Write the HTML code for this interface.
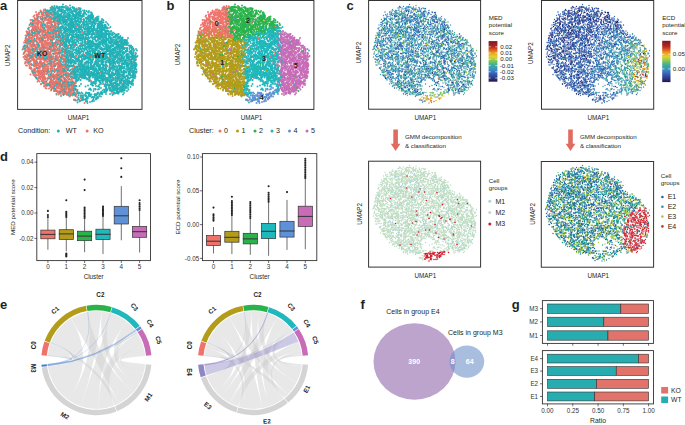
<!DOCTYPE html>
<html><head><meta charset="utf-8"><style>
html,body{margin:0;padding:0;background:#fff;}
body{width:685px;height:425px;overflow:hidden;position:relative;font-family:"Liberation Sans",sans-serif;}
</style></head><body>
<svg width="685" height="425" viewBox="0 0 685 425" style="position:absolute;left:0;top:0" font-family='"Liberation Sans", sans-serif' stroke-linecap="round"><g transform="scale(.5)" fill="none"><path d="M119 14l3 0 2-1 11 1 26 4-2-1-18-1-3 3-4-2 0-1-10-1-5 3-1-1-2 0-13-1-2 0-6 6 1-1 9 2 3 0 6 1 6-1 2-2 6 1 7 0 5 0 3-2 2 3 4 0 1-1 1 1 25 1 8 4-3-3-10 2-4 2 0-2-5-1-2 3-2-2-2-2-1 3-2-2-7 3-5-4-4 2-1 0-5-2 0 0-8 2-2 2-8-2-1 2-2-3 0 0-2 2 0 1-5 0-9 2 2 1 2 0 12 2 0-2 1 1 3-1 2 2 5-2 7-1 4 3 0-1 4-1 2-1 9 1 3-2 3 0 1 4 2-3 1 1 2-1 1 1 16 2 1-1 4-1 5 2 11-1 7 5-19 0 0 0 0 0-5 1-5-2-7 2-1 0-5-2 0 0-2 0-2 1-1-2-4-1-1 0-3 1-5 3 0-3-1 0-1 3-17-1-5 0-2-2-5-1 0 1-2-1-1 3 0 0-1 0-8 0-16-2-4 1-14 5 43 0 2 0 7 2 1-4 0 2 1 0 0 0 4-2 2 2 0 2 1-2 1 2 2-2 3-2 1 3 5-2 2 2 1-1 1-2 8 1 2 1 2-1 2 2 3 0 1-1 6 0 0-1 5 3 5-2 0-1 9 3 0-4 0 3 1-1 1 0 4 0 2-1 1 1 10-2 1 5-2 0-2 0-6 3-1 1-4-3-1 2-2-3 0 3-10-1-6 0-3 2-3-4 0 2-9 2-3-1-1 0-1-3-6 4 0-2-2-1-1 0-4 3-1-4-7 4-5-3 0-1-8 3-2-1-1 1 0-3-1 2-13 0-5-1 0 0-2 0-12-1-7 4-9-1 24 4 22 1 4-1 4 2 10-1 10 1 4-1 1-3 1 4 3-2 1 1 5-3 3 4 4-4 4 3 0 1 5-1 4-2 2 2 5-2 1 1 11 0 4 1 1-3 0 1 5 1 6 2 1 3-4 0-4 0-1-1-1-1-2 3-2-3-3 2 0-1-7 0-1 3-4-2-1-2-3 3 0-2-15-1-3 2-1-2-3 2-3 0-3 1-4-3-3 1-2 3 0-2-1-1-1 1-4 2 0-1 0 1-2 0-2 0-2-3-1 3-1-3-1 2-10 0-1-3-4 3-6-3-17 3-8 1-18 5 4-4 34 1 16 3 2 0 1-1 2 1 13-4 3 0 0 1 0 0 3 1 0 0 1 1 1 1 1-2 2 0 1 2 2 0 8-3 0 0 1-1 1 4 3 0 3-2 4 1 7 1 0-3 3-1 1 2 0 2 3-2 6-2 2 0 1 3 3 1 1-2 1 2 0-2 4 1 3 0 0-3 5 1 2 2 4-1 2 0 5 0 15 6 0 0-11-3-5 4-2-2-3 0-1 0-1 1-2-2 0-1-3 3-1 1 0-3-4 3 0-2-2 2-7-1-2-2-2-1-2 3-1 0-1-1-1 1 0-3-7 2-3 1-1 1-2 0-1-2-1 2-3-4-1 4-5 0-10-2-7-2 0 0-10 3-4-3-1 0-3 0-3 4-5-3-1 3-1-2-26 0-16 1-22 4 22-1 7 3 7-3 11 3 11-2 6-1 2 3 11-1 0-1 1 1 6 0 6-3 3 4 1-3 0 2 6-3 1 3 2-1 2-2 19 4 6-4 6 4 3-1 4-2 0 1 2-1 20 3 2 0 18-1 7 3-1 3 0-1-4-3-3 0-1 3-18-1-2 1-3-2-5 3-1 0-4-4-5 3-1-2-6-1-1 3-1 0-4-2-12 0-8 0-3 2-6-2-1 0-3 3-3 0-7-3-5 1-2-2-3 0-7 3 0-2-2 2-1 0-1-3-1 3-3-2-33 1-7 1-25 4 18-1 14 3 20-3 17 1 2-1 8 3 5-2 1 0 2 2 2-3 3 3 10-3 2 2 4-2 4 0 1 3 4-3 0 3 1-2 5 2 0 0 1-1 0-3 1 4 0-1 2-1 6 0 8 0 0 1 8 1 3-4 1 3 4 1 4-4 3 0 1 3 3 1 12-3 3 3 1-1 0 1 3-2 2-2 1 0 3 1 3 0 5 1 0 4-5 3-3-2-8 2-2-1-2-3-2 2 0 0-2 0-1-2-2 0-5 2-2-2-1 0-4 3-2-2-7 3-6 0-3-2-2 0-4 0 0 1-1 0-6 1-1-4 0 3-2 1-4 0-1-2-2 1-4-3-8 2 0 0-22-1-6 3-2 0-4-2-16 1-42 1-11-2-3 1-8 6 38-4 2 2 0 2 16-2 10 2 1-4 5 0 3 0 9 3 1 0 4-2 0 1 4-2 1 1 6 2 5-3 4 4 4-3 1 1 2-1 4 0 1-1 8 2 1 2 3-1 1-1 5 0 0 0 4 1 1-1 1 0 0 2 2-1 0 1 4-2 15-2 1 3 7-1 0 0 5-1 10 2 1-1 3 1 1-1 5 2 1-4 7 0 3 1 5 1 1 3 0 1-8 0-15 3-1-1 0 0-1-3-4 0-1 1-6 2-2 1-3 0-4-3-7-1-2 3-1 1 0-1-4-1-1-2-1 3-7-2-3-1-1 0-8 2-1-2-1 1-1 1-1 1 0-1-1 1-4-3-1 0 0 3-12 0-4-2 0 2-9-3-2 4-1-3-3 2-11-3 0 0-13 3-3-1-16 0-26 2-10 0-18 0 4 5 20-4 41 1 9 0 6 3 0 0 3-1 2-3 1 1 0 1 0 2 4-2 10 1 2-3 4 0 4 3 2-1 7 1 3 0 20 0 1 0 1-2 1 3 6 0 2-2 2 2 8 0 3 0 1-1 1 0 1-2 3 0 1 0 1 2 1 0 0-1 2 1 0-1 1 1 3-3 4 2 0-1 1 0 8 2 2 1 11-2 2-2 5 3 4-1 4 2 7-3-2 6-1 2-8-3 0 3 0-4-1 1-3-1-4 4-6-3-11 2-2-2-8 1-2-2 0 0 0 2-2 2-3-2-2-2-1 3-5 1-2-1-1-3-1 4-1-2-3-2-5 0-2 4-1-3-6 1-11 1-4-3-1 4-3-2-5-1-6-1-2 0-2 1-3 1-2 0-8-1 0 3-4-2-2 0-21-1 0 1-19-2-21 2-12 4 48 1 10-1 1 3 3-3 2 1 2 1 6 1 2-3 4 0 0 3 2-1 2-1 2 1 16-3 2 0 2 1 4 2 8-3 1 1 1 0 7 0 0 2 2 0 5 0 3-1 3-1 1 3 2-1 1-2 5-1 1 0 7 2 0-1 4-1 2 0 6 1 0-1 1 3 0-3 3 0 7 2 0 2 0-2 1 1 20-3 2 0 5 5-5 4 0-4-2 1 0 2-6-3-17 2 0 2-1-2-2-1-2 1 0 2-17-1-5-3 0 0 0 0-1 1 0 0-1 0-5 1-3 0-2-2-2 1 0-1-4 3-1 0-5-3-4 3-7 1-1-2-5-1-1 1 0-1-2 0-6 3-8-3-14-1-7 4-4-2-1 2-2 0-24 4 26-3 7 4 2-4 3 3 2-3 1 2 4 2 6-3 1-1 3 2 2 0 2 2 13 0 5-3 4 1 5 2 3-2 9 0 1-1 2 0 1 2 5 1 6-3 0 0 2 3 2-3 0-1 6 1 0 2 0-1 0 2 1-1 11-2 1 0 0 2 4 0 5-1 2-1 2 0 2 0 8-1 0 3 5 0 4 4-2 1 0-3-1 3-7-3 0 2 0 0-1-1 0-1-3 2-2-1-2 0 0-1 0 3-1 0-2-3-1 0-1 2-1 1-9-2-4 0-8 1-6 2-10-1-6 1-1-1 0-2-1-1-11 0 0 3-1-2 0 2-2 0-1 1-6-1 0 0-5-2-5 0-8 3-1 0 0-4-1 1 0 3-1-2-2 2-2 0-7-2-6-2-2 1-2-1-2 0-21 0-2 1-12-1 0 1-29 1 23 6 22-1 4 2 5-4 12 1 8 2 3 1 2-1 2 0 2 0 3 1 1-2 0 2 2-1 5 0 2 0 6 1 11 0 8-4 5 2 0 1 0-1 19 2 8-2 0-1 9 2 1-2 1-1 5 2 1 0 2 2 3-1 4-1 1-1 1 1 2-1 4 2 6-3 3 1 2 2-2 5-1-3-3 1-5 2-1 0-3-3-2 4-6-3-2 1-6-2 0 3-2-1-4-1-5 3 0 0-2-2-2 1-3-1-2-1-2-1-1 4-6-1 0-3-4 2-8-1 0 3-9 0-3 0-1-3-1 0-3-1-1 3-1 0 0-1-4 0-1-2-2 1-5 3-1-1-2 0-4 1-11-1-3 0-11-2-20-1-1 1-12-1-43 1 18 6 16 1 14 1 6-1 3-2 13 0 8 1 6 1 4 1 3-2 4 2 0-4 6 2 2 2 0-2 2 0 2 1 2-2 2 1 1 0 13-2 2 4 4-1 1-3 1 0 2 2 4-2 2 3 9-2 4 3 4 0 2-2 12 0 2-1 7-1 5 4 2-3 3 2 7 1 1-3 1 1 6 2 6 0-6 1-1 4-6-3-7-1-2 0-3 0-1 4-4-4-2 4-2 0-2-1 0-3-3 2-3-1-7 0-2 3-1 0-2 0-1-1 0-2-2 2-2-1-5-1 0 1-4 1 0-3-1 2-1 2-9-4-7 1-3-1-1 0 0 1-3 2 0 1-3-2-1-2-7 1-1 1-7 2-20-2-8 1-2 1-14-4-51 0-1 0 5 7 15-1 12-1 12 4 4-2 39 1 4-3 6 2 1 2 1-3 1-1 1 2 4 2 8-3 1 3 2-1 3-3 1 2 3-2 1 0 1 1 4-1 3 4 5-2 0 1 4 0 1 1 13-1 0-2 1 1 3-1 10-1 3 4 1 0 0-3 2 1 1 1 3 1 3-1 7-1 1-1 6-1 4 4 1-3 0 0 5 2-1 3-2 0-12 0-1 0-6-1-11 1-1 2-5 0-6-2-1 0-3-1-1 2-6 1-2-2 0 1-3 1-1-1-2 1 0 0-2 1-11 0-1-2-2 1 0-1-17 2-5-4-5 1-6 1-1 2-1 0-2-4-1 3-6-3-28 1-5-1-5 2-12 0-12 7 36-1 9-2 4 1 8 2 12-3 0 0 26-1 2 2 6 2 9-3 8 0 0 3 1-2 5 1 12-3 1 0 1 1 3-1 3 4 3-2 1 1 5 1 2 0 1 0 10-1 1-3 3 3 2 1 0-1 2 1 5-2-5 5-3-1-2-1-1 1-1 3-8 0-1-1-6-2-4 2-1 0-2 0-2-2-6 0-1 1-1 1-1-3-1 0 0 4-8 0 0 0-1 0-4-2-6-1-18-1-1 4-20-1-11-3-6 0-2 3-18-2-19 2-1 0-11 0-5 3 17 2 8 1 5-3 11 2 21-2 35 0 6 1 17 0 4 0 5 0 4-2 2 4 1-4 4 4 3-2 2 2 0-4 3 1 4 2 3 0 0-3 1 2 2 1 0-2 2-1 3 3 5-3 4 4 5-4-9 9-5-4-1 1-3 2-1-1 0 2-1 0 0-4-9 3-2 1-5-1-9-2 0 1 0 1-3-1-5 0 0-1 0 3-1-2-10-1-14 2-10 1-49-2-20 5 10 1 86-2 8 0 8-1 2 3 9-3 5 4 0 0 2-1 1-1 3-2 1 0 4 0 1 0 0 1 5 1-8 7-9-2-1 0-9-1-15 2-8-2-3-1-5 0-1 2 0 1 0-2-2 3-12 0-3-3-2 0-4-1-9 0-5 0-45 4 9 3 5-2 13 2 5-2 17 1 3 1 6 0 0 0 1-1 5 0 1 1 3 0 10-1 0-1 2 1 5 2 1-3 3 3 23-3-29 6-2 1-2 0 0 2-16-3-4 1-1 2-3 0-2-4-1 4-1-2 0 2 0-4-7 1 2 7 2-1 4-2 9 3 6 1 5-3-30 4" marker-start="url(#k0)" marker-mid="url(#k0)" marker-end="url(#k0)"/><path d="M153 17l-66 5 61-1-39 6-7 1-2-1-1 1-4 0-4 0-5-3-1 3-8 0-3 2 15 1 5 3 1-1 1 0 0-3 5 3 4-2 13 1 1-1 20 2 5-1 37 3-18 4-55-3-1 2-6 0 0 0-8-2-1 2-10 1-7 0-1-1-5-2-3 7 2-2 2 0 15 0 9-1 7 4 2 0 5-3 2 3 71-4-59 7-4 1-7 1-8-3-1 3-4-4-1 1-7 3-3-3 0 0-10 1-2 0-1-1-3-1 0 1-6-1-2 4 2 2 4 2 7 1 5-1 22 0 18 4-5-2-8 1-3-1-3 3-4-1-1 0-12-2-1 0-3 2-2 2-2-2 0-2-11 0-2 4-6-4-2 2 13 3 2 2 1-2 1 2 8-1 2-1 3 3 1 0 3-2 6 3 6-2 2-2 1 1 5 2 1 0 6 0 74 1 17 4-48-1-13-2-2 1-25-1-2 0-5 1-5-1 0 2-1-2-5 4-2-3-4 2-1 1-1-3-6-1-3 1-1 2-10-1-15-2-3 1-2 0-3 5 6 3 1-1 0-3 8 2 1 1 4-3 1 1 17 3 2-4 3 3 0 1 2-4 2 3 3-1 0-2 6 3 6 1 1 0 3-2 5 5-14 1-7 1-2-4-2 1-2 2-6-2-6 1-3-1-1 3 0-2-2 2 0 0-1-3-8 3-5-1-3-3-3 4-2-1-3-3-1 2-1 4 5 3 1-2 5 0 2 2 3-2 2-2 0 3 5-3 6 2 2-1 3 3 1-2 1-1 15 2 11-1 4 1 2 1 14-2 96 2 24 2-2 0-81 0-43 3-1-3-3 0-8 0-2-1 0 0-3 1-1 3-3-3-1 2-4 0-1 1-4-3-2 3-3-4-3 4-27-2-10-2-2 0-1 9 2-1 13 1 1-1 0-2 2 2 1 0 1-3 2 0 5 4 4-4 5 3 1 0 3 0 3 0 4 1 4-2 8 0 0 0 3-1 1 2 0-1 8 2 2 0 5-4 2 3 106-1 34 6-96-2-38 2-14 0-16 1-2-1-1-3-5 4-1-2-7 0-7-1-1 2-2-3-1 0-1 4-10-3-2 3-5-2-2 0-1-1 0 0-3-1-2 5 2 1 6 0 2-1 1 4 4 0 5-4 0 0 10 4 3-3 1 1 2 1 1-3 0 4 2-4 0 3 2 0 28-2 0 3 1-3 3 1 0-2 2 2 146 4-136 0-5 0-11 1 0 1-12 0-7 1-2-2-3 2-2 0-8-2-11 1-1 1 0 0-2-1-3 1-3-2-3-1-5 2-10 0 3 3 1 2 6 0 5-2 4 3 6-1 4-3 1 1 2 2 8-2 0 0 1 1 9-2 1 3 1 0 2-1 1 2 1-3 22 0 1 2 15 1 64-4 55 4-19 2-108 0-5 3-2-2 0 0-2 2-2-2-1-2-5 0 0 2-4 0-1 2 0-3-6 3-4-3-1-1-1 1-1 3-3-4 0 4-3-3 0 0-3 3-1 0-1 0 0-4-1 1-2 3-1-2-1 1-2 0-6-2-5 3-3-3 0 0-1 0-9 3-5 5 3-3 2 3 4-1 9 0 4-2 16-1 18 3 2 1 9-2 3 1 7 0 0-3 6 1 62 3 42 2-10-1-5 2-92 1-7 1-1 0-2-3-2 0-1 2-2 0-2 1-1-2 0 1-7 1-3-3-1 3-12 0-2-4-11 3-4 1-3-2-1 2-6 0-5 0 0-4-2 1-2 5 14 2 2-1 2 0 5 2 2-3 1 3 6-3 0 3 2-2 1-2 4 2 1 2 14-1 3-1 7-2 3 3 2 1 2-3 5 2 82 0 59-2 2-1-141 5-8 3-3-2 0 0-1 3-3-3-4 2-4-1-8 1 0-1-4 0-1 2-1 0 0-2-3 1-3-3-1 3-1-1-11-1-14 2 0-3-2 1-1 0 7 5 1 0 0 3 0-2 6 1 2-2 1 1 4-1 0 2 4-2 5 1 1 1 2 0 6 0 6-1 3 0 2-2 0 3 1 0 5 1 3-1 4 1 1-3 2 3 3-3 1-1 4 3 139 3-98 0-14 3-13-1-1-1-5 0-4 1-1-2-3 1-2-2-8 1 0-1-2 0 0 4-7-1-2 1-10-1-2 0-12-1-4-2-3 4-1-2-3 0 0-2 0 4-9-4-7 4 10 5 0-3 0 1 11 0 19 0 0 1 6-1 0-1 1 3 5-4 1 2 1-2 4 4 5-1 2-2 1-1 6 2 2 1 2 1 99 5-99 0-8 0 0-3-2 0-6 0-4 2-1-3 0 4 0-2-15 2-1-2-4-2-6 0-3 4-6-1 0 0-2-2-3 2 1 3 8-1 0 0 15 3 1 0 4 0 13 1 5-3 1 1 7 1 1-3 10 0 3 2 6-1 1 2 28-1 26 6-66 1-9-1-1-3-4 3-2 1-6-4-3 3-1 0-2-1-3-2 0 2-1-1 0 0-11 3-6 0-4-2 3 4 2 1 5-2 2 1 3-1 0 4 0 0 2-1 1 1 2-3 1 1 6-1 1 3 4-2 3-1 1 1 8-2 1 3 2 0 2-1 2-1 1-1 5 4 1-4 6 3 65-3 34 3-99 4-2 1-13-2-2 0-9 1 0 2-3 0-5-4 0 0-3 2-4 2-3-3-2 0-4-1-3 2-5 0 9 4 6 1 1-1 4 0 4 2 5 1 1-2 2-1 2 3 5-4 5 1 1 2 2 0 3 0 0 0 2-3 98 2-89 4-4-1-3 4-3-2-3-1-7-1-5 1-3 2-13-1 26 6 2-3 4 1 54 0-38 5-13 3 6 2" marker-start="url(#k1)" marker-mid="url(#k1)" marker-end="url(#k1)"/><path d="M157 16l-47 0-38 8 10-1 8-2 3 2 0 1 15-4 52 2-54 6-3-3 0 4-4-3-2 1-2-2-3 3-5-1-1-1-3 0 0 3-14 2 7 1 2 1 4 0 3-3 8 3 5-2 7 0 6 1 15 0 51 7-67-1-6 1-1-4-6 4-12-2-10-1-1 1-3 1 0 1-1-2-1 5 7 2 2-2 0 1 3 1 17-3 1 2 2-1 1-2 4 4 8-3 15-1 48 0-60 6-3 0-4 1-6 2-1-4-3 0-2 1 0-1-4 1-3 3-4-3-11-1 0 4-1-1-13-3 0 8 8-2 3 2 2-2 6 2 1-1 1 0 5-2 7 1 0-1 2 3 0-1 2 2 2 0 2-4 3 3 1 0 1-1 6 1 97 1-71 1-39 1-1 2-2 1-2-2-1-2-8 3-1 0-10 0-2 1-4-2 0-2-1 3-3-1-8 7 1-3 6 1 4-2 1 2 8 1 2-2 0 1 4-1 4-1 1 0 1 4 0-4 4 0 2 1 5 0 1 0 0 1 2 1 1-3 0 2 2 1 1-2 2 1 2 2 7-3 16 2-12 4-10 2-1-3-1 3-5-4-2 2-2 0-3 0-1 2 0-3-5 0-7-1-6 0-3 2-2-2-3 2-2-1-5 1-1-2-3 3-1 0-4-1-1 3 1 1 2-1 1 2 0-2 2 1 4 3 4-3 4 2 1-3 7 1 8-1 4 3 0-2 0 2 5-3 3 4 4-1 2 1 4 0 0-3 2-1 0 4 0-4 14 1 46 0-40 6-9 2-13-4-5 4 0-2-8-1-2 0-5 0-2-1 0 1-1-1-2 4-1-4-11 1-1 1-9-2-12 1 4 4 3 4 4-1 0-2 2 1 2 2 6-1 7-2 2 3 10-2 9-2 3 2 11 2 1-4 2 2 1 0 116 5-84 0-6 2-24 0-1 0-10-3-2 2-1 0-1-2 0 0-6-1-1 1-2 1-2-1-1 0 0-1-8 3-9-2-2 2-2 1-9 0-3-2-1 1-5-1-2-1-2 5 2 2 0 0 2-1 0-2 5 2 2-2 6 1 0-1 3 2 0-1 12 0 3 3 6-4 4 0 6 1 1 3 1-1 3-3 2 2 0 1 15-3 94 2 2 3-2 3-91 0-2-2-14 2-1-1-1 0-2-2 0 2-4 2-1 0-1-3 0 0-2 0-1 2 0-2-2 1 0 2-1-3-1 0-3 0-7 0-12 2 0 1-4-1-2 0-9 0-9-1 6 3 3 4 0-2 2 0 5-1 4 1 2 1 12-1 1 1 7 0 12 0 5-3 9 0 1 1 1 1 4 2 7-2 13 1 100-1-113 6-5 0-9-3-2 1-1-1-1 1-1 2-9-3-3 4-1 0-2 0-1-3-3 2-2-1-6-2-4 4-4-4-1 3-7 0-5-2-1 1-8 2-6 5 6-1 10 0 2-1 4 0 2-1 1 3 6-1 7 1 1-4 1 4 0-3 3-1 7 2 3 1 13-1 0 1 6 0 0-1 0 1 17 0 125 1-14 4-125-3-8 1-3 2-4-1 0 0-3-2-3 3-3-2 0 2-3 0-6-1-2-2-4 1 0-1 0 0-4 3-1-2-4 2-7-3-1 2-1 2-2-2-1-1-4 2-1 1-3-4-2 4 3 1 11 0 2 2 2-1 1 2 0 1 11 0 18-2 2 0 7-1 2 1 3-1 7 3 0-1 1 0 7-3 2 4 0 0 0-2 1-2 125 2 3 1-40 4-26 1-74 1-2-4-17 1-1 3 0 0 0-1-1-2 0 1-4 2-10-2-2-2-2 1-2-1-7 2-4 1-16 3 18 0 10 2 0 1 1 0 4-4 3 3 2-1 2 0 4 1 7 1 5-1 1-3 7 3 5 1 1-3 0 3 2-3 2-1 9 0 86 8-57 0-27-3-9 3-4-3-2 0-17 2-1 0-3 0-14 1-1 1 0-3 0 2-5-3-2 2-5-1-1-1-2 3-2 0-1 1 1 5 1-4 6 0 0 2 0 2 7-2 6 0 2-1 1-1 1 2 2 2 4 0 2-3 1 1 0-2 1 2 8-2 5 0 1 2 0 2 7-4 1 4 3-2 3 1 58-1 74 2-62 1-56 1-3-1-5 3-6-3-4 0 0 1 0 2-4-1-2 0-3 2-2 0-1-3-12 0-1 2 0 1-12-1-2 0-1-1-1 2 0-2-2 2-2-3-1 1-2-1 0-1-7 4-1-4-1 0-2 1 1 5 5 0 4 0 6 3 5-1 10-1 3 2 7-3 6-1 2 1 1 0 3 3 3 0 9 0 3-2 0 2 1-1 1-1 0 0 2-2 7 2 95-1-17 4-79 1-3 0-4 2-10-1 0-1-13 3-8-3-5 3-12-2-2-1 0 1-2-1-1 2-2-3-6 0-3 2-1 0 9 5 4 2 8-4 7 0 1 1 0 3 4-2 5 2 0-3 15 2 2-2 3-1 1 4 1 0 3-1 82-1 38 6-122 0 0-2-8 1-2 1 0-2-5 0-3 1-1 1-8-3-2 2-2-2-2 3-2-3-1 1-3 1-7-2-7 3 0 0 6 5 6-1 5-1 3 2 6-3 3 2 0 0 9 0 6 0 0-1 1-1 1 0 2 1 4 0 3 0 1-1 1 2 0 0 1-1 4 3 3-1 3-1 67-1-78 8-1 0 0-3-1 3-5-3-2 0-8 0-4 1-8 2-1-3-5 1 5 4 2-1 3 2 2 1 4-1 5 2 0-3 0-1 1 0 6 4 7-1 5-2 0-1 78 1 2 5-72 2-1 1-3-4 0 4-2-3-5 0-2 2-1-3-2 3-1-2-1-1-1 2-2-1-2-1 0 3-7 0-3-1-2 2 17 1 8 0 0 0 12 4 34 0-22 3-18 3 12 2 9 4" marker-start="url(#k1)" marker-mid="url(#k1)" marker-end="url(#k1)"/><path d="M126 9l-22 4 1 1 8-1 13 1 35 3-2 0-11-2 0 2-7 2-3 0 0-1-1 1-3 0-2-2-2-2-7 4-5-3-7 2-5-3-24 9 13-3 3 2 3-2 1-1 7 4 7-2 1-2 2 1 1 1 1-1 2-1 1 3 1-1 5 0 6-1 2-1 6 3 2 0 6-3 6 4 0 0 0-1 0 1 3-1 1 0 7-2 15 8-1-4-6 0-4 4-4-4-2 3-8 1-2 0 0-3-4-1-1 3-6 0-1 1-9 0 0 0-7-3-5-1-6 4-2-4 0 3-5-1-1-1-1 3-2 0-11-4-2 2-18 7 17-3 3 1 5 2 14-2 0 2 7-3 6 3 0 0 4-1 1 1 7-4 1 3 0-2 5 2 3-3 1 3 2 0 0-3 7 3 5 1 2-4 14 2 1-1 1 1 2 2 1-1 12 5-2-2-3 2-1-2-2 3-3-4-4 0 0 0-2 4-2-4-3 1-4 0-4 3-5-1-1-1-11 2 0-4-1 2-2 1-4 1-3-2 0 1 0 1-2-3 0 1-1-1-1 2-1-2-4-1-2 1-4 0-3-1-2 1-2 2-2-3-8 4-4-2-15-1 0 3-3-2-22 3 23 3 21 0 6-1 1-2 2 2 3 1 4-3 1 2 0-2 1 4 1-3 3 2 1-3 1 2 1-2 0 1 4-1 5 4 3-3 4 2 2-1 1 0 4-2 0 3 1-2 1 3 8 0 6 0 1-4 7 3 2 0 1 1 3 0 7-3 1-1 6 3 0 1 3-2 0 1 9 1-8 5-1-4 0 2-1-2-2 1 0 2-14-3-3 4-3-2-6 2-1 0-4 0-2-2-10 2-11-2 0 2-3-3-5 3-17-4-5 4-57 1 27 4 18-4 6 1 13 3 2-1 9-3 3 3 4-3 0 1 2 1 3 0 2 0 6 0 5 0 2 1 2-3 9 0 4 4 6 0 5 0 1-2 1 0 6 0 4-1 0-1 3 2 1 0 1-2 1 4 0 0 4-4 2 1 0-1 1 4 5-4-3 5-6 1-3 3 0-4-1 4-1 0-1-2-1 2-2-2-4-1-1 2-4 1-2-3 0 3-3 0-9-1 0-1-6 1 0 1-2-2-5 2-2 0-2-4-9 3-6-3-6 2-1 1-4-3-9 0-1 0-3 3 0-2-9-1-1 0-1 4-8-4-13 2-16-1-1 2-5-1-9 1 6 3 14 2 5 0 4-1 2-1 7 3 19-2 2 0 4-2 0 0 1 0 0 4 8-4 11 4 2-1 4-2 0 1 1 1 3-1 3 0 5 0 1-2 2 4 11-1 3 1 1 0 4-1 4-3 2 2 9-2 5 0 1 4 0-4 0 4 2 0 0-2 6-2 4 2 1-1 1 0 3 3 8 5-1-1-3 0-5 0-14 1-1-3-6 2-9-3-3 2-5-1 0 0-1 3-2 0-2 0-4-1-1-2-3 3-3 0-8 0-1-4-3 4-3 0-8-2 0 2-3-4-2 4-5-2-4 1-19 0-1-3-5 0-32 2 16 3 29 3 4-1 1-2 3 1 3 2 1-1 0 2 5-4 1 1 3 3 0-3 2-1 1 1 6 0 1 1 4 2 4-2 2 2 1 0 0-1 0-3 1 0 3 2 2 2 9 0 2-3 9 3 2-3 6 1 3 2 1-3 1 3 1-3 2 0 2 2 1-3 0 1 2 2 0-1 4 2 2-1 1 1 1 0 2-2 6 0 5-1 3 3 4 0 1-4 1 3 8-1 4 3-1 3-5-2 0 1-1-2-3 1-3 2-2-3-2 4-1-4-3 1-3 2 0-3-8 3-2-1-1-2-3 4-1-1-4-3-2 1-2 0-2 2-7-2-3-1-11 3-4-2-1 3 0-2-5-2 0 3-4-3-2 2-2 2 0-1-3-3-12 3-6-1 0 2-4-2 0 2-1-1 0-2-1 1-2 2-2-3-1 0-9-1-4 0-5 2-20-2-18 2-12 2 0 1 0 3 2 1 11-3 17 0 9-1 29 2 1 0 2 2 4-4 5 1 1 0 7-1 7 4 3-2 16 1 6 0 1-2 3 0 10 0 9 3 3-2 3 0 5-1 1 1 5-1 1 2 0 0 3-3 2 3 0 0 2-2 1-1 7 0 0 2 1 2 1-1 15-3 0 1 4-1 0 4-2 3-1-2-3 4-1 0 0-2-2 0 0 0-3 0-3 2-2 0-1-2-4-1-1 2-2-1-5-2-2 2-10 1-2 1 0-4-2 1-7 1 0 0 0 2-3-3-1 3-7-1-1 0-1 0 0 0-2-1-1-1-6 0-1-1-13 1-2 1-11 2-1-3-3 3-1 0-1 0-1-1 0-1-7-2 0 1-5 0-6 0-5 1-1 2-16 0-1-4-38 0-14 0 48 8 20 0 4-3 5 2 1 2 3-3 7-1 1 1 1-1 8 2 9 0 5 0 1-2 5 2 3 1 6 0 11-3 2 0 3 3 1-2 2 2 2 0 6-2 6 1 1-1 9 3 3-2 2 0 8 1 1 0 0-2 1 0 2-1 2 1 1 0 1-1 1 4 2-2 6-2 7 1 1 1 2-1 4 6-2 2-12-3-5 2 0-3-3 2-2-1-3 3-4-3-5 2 0-3 0 0-4 2-1 2-8-4-2 3 0 0-1 0 0 0 0-3-4 4-3 0-5-3-1 2-10-1 0 2-4-2-3 0-9-2-2 4-1-2-2-1-1 2-3-1-4 1-1-2 0 2-3 0-5 1 0-3-10 0-3 0-5-1-5 4-5-2-2 0-24 1-19 0-22 6 10 0 13-4 3 0 8 2 4 1 33 1 3-2 7-1 1 2 12-1 0-2 3 1 0 2 4 0 3 0 1-1 6-1 6 1 2 2 10-3 1 0 1 3 1-4 36 1 1 0 3-1 4 3 2 0 16-1 0 2 2-4 1 2 6 0 2 0 0 0 5-1-3 6 0 2-10-1-1 0-5-3-1 2-3 0 0-2-4 4-3-2-3 1-1-1-3-2-7 1 0 0-3 1-1 2-7 0-1-4-2 4-2-3-11 0-4 1-1 2-3-4-2 0-2 0 0 3 0 1-6 0-1-1-1-3 0 2-3 2-2-4-12 2-5 2-3-3-6 1 0 2-3 0-4-4-5 4-1-4 0 4-12-3-13 1-30 0-1 0-29-1 11 5 6-1 42 3 18-3 3 0 2 3 2 0 6-1 3-1 5 1 1 1 5-2 5 1 2-2 3 3 0-1 1 2 2-3 1 0 1-1 1 2 10 2 2-2 0 2 4-3 2 3 0-2 0 1 1-1 5 1 1-3 1 0 1 4 4 0 3 0 0-3 2 2 4-1 4 0 2 1 6 1 4-1 4 0 0 1 0-3 1 2 4 0 2 1 0-1 1-3 5 0 5 0 6 0 1 3 1-3 0 2 1 2 1-1 0 1 10-2 2 0 7 0-6 4 0 2-2-2-6 3-3-1-4-1 0-2-1 2-6 0-1-2-2 1-1 1-1 2-11-1 0-2-2 3-4-2-2 0-5 1-7 1-2-2-1 2 0 0-4-1-6 0 0-2-3 2-14-2-2 1-9 1-1 1-1 0 0-4-1 2-9-2 0 4-1-1-3 0-1-1 0 0-7-2-10 3-1-1-2-1-12 0-10 0-16-1-33 1-10 3 9 3 10 1 3 1 62-3 1 3 0-4 1 4 1-1 2-2 1 2 13 0 2-2 4 2 3-2 9 3 1 0 9 0 0-2 0-2 9 3 0 0 3 0 2-1 6 2 0-4 2 4 11-4 1 2 0 2 2-3 0 3 7 0 0-3 8 1 0 1 1 1 0-1 4-3 4 0 0 0 6 3 1-3 1 3 2-2 5-1 3 2 8 0 4 7-6-3-1-1-1 2-1 1-1-3 0 3-9 1-4 0-2-3-2-1 0 3-1 0-1 1-1-2-14-1-2-1 0 0-4 2-3 1-15-1-1-2-1 3 0-3-6 2-12-2-2 3-3-3 0 0-4 1-4-1 0 1-2 3-1-3-4 3-7-4 0 4-1-1-5-1-2-1-7 0-1 0 0 2-5-3-17 2-1 0-30 1-9-1-9 0 13 3 19 1 5 1 2-1 8 1 16-2 3 1 2 2 1 0 3-1 5 0 5 2 5-1 9-1 2 2 3-1 5-3 4 2 3 0 4-1 2 3 3-4 3 2 1-2 3 3 13-3 2 2 9-1 1 2 5 1 2-2 1 2 7 0 0-2 2 1 12 0 2-1 8-1 1 0 5 2 1 0 0-3 2 9-3-1-1-1-4 1-1-1-4 1-3-3-3 1-2 2-18 0-8-2-5 3-11-1-2 1-1-3-2 2 0-3-3 1-3-1 0 0-1 0 0 4 0-1-10-1-3-1-3-1-3 0-1 4-3-3-1 3-1 0-1-2-3 0 0 0-4 0 0-2-3 4-2 0 0-1-1 0-3 0-2 0-3-2-5 2-1 0-10 0-6 0-65 4 32-1 7 3 10-4 14 0 1 2 9-2 4 0 4 0 4 3 4-1 3 1 14 1 1-1 0-3 2 2 10 2 13 0 5-3 2 3 2 0 6-4 0 4 2-4 2 2 3-1 0 3 8-3 6 2 1-1 1-1 4 0 9 1 3 1 14-3 4 1 5 2-7 6-7 0-1-4-1 2-9 0-1 2-8-1 0 0-3-2 0 2 0 0-4 0-2 1-5-2-1-2-5 4-15-4-1 2-4 1-1-2-1 2-6 0-3-2-2 0-1 3 0 0-2-1-2 0-4-1-4-1-5 3-2-1-4 1-1-4-9 0-3 3-3-3-2 4-76-4 11 9 23-2 3 0 2 2 28-3 9 2 8 1 1-1 1-2 7 3 0-1 0-1 5 1 1-1 1-2 3 1 17-1 5 2 6 0 1 0 1 1 1-1 1 0 0 1 2-2 4 2 11 1 0-3 1 2 2 0 2 0 4-3 2 4 3-3 1-1 0 3 1 1 10-1 1 0 2 1 4-3 3 3 5-3 4 3 1-2 4-2-4 5-5 0-5 2 0-1-1 2-5-3-7 2-5-1-2 2-1-1-4-1-19 2-1-2-7 1-1 1-2-3-3 0-4 1-2 3-1-4-1 1-11 1 0-2-4 2-3-1 0-1-2 2-1-1-2-1-9 1-7 1-2-1-3 0-7 3-9-1-1 0-12 0-4-1-7-2-4 2-29 0 39 7 24 0 10 0 7-2 8-2 0 0 17 2 13 1 5-3 3 2 1-1 7-1 1 0 4 4 2 0 3-4 6 2 1-1 7-1 0 4 14-3 2 2 2-2 1 1 0 1 14 0 0 4-1 2-4-4-3 4-6-3-8 0-1 1-8 0-1-2-4 1-7 0-11 3-19-1-1-1-2-1 0 0-1-1-2 3-2 0-32-2-3 3 0-4-20 2-8 1-20-2-3 3-8-3 12 4 7 3 22 0 13-3 4 0 3 3 3-1 18 1 5-2 20 2 3 1 18-3 2 0 3 0 3 2 1-2 6 0 24 5-4-1-2 0-5 0-4 4-1-4 0 1-3 1-4 0-4 0-1 1-2-3-1 4-5 0-2-4-4 4-2-1-21 0-10 0-1-1-38 1-3 1-14 0-17-2 1 3 3 2 25 1 3-2 63 3 5 0 1-4 1 4 3-3 0 2 0-2 2-1 9 2 4-1 1-1 4 4 1-2 1 2 0-2 1 1 3 0 1-3 2 3 1 0 2 0 2-2 2-1-1 6-14 0-5-1-2 3-16-3-6 1-4 1-12 2-6 0-6-2-3-1-18 1-5 2-1 0-4-1-27-2 38 5 9 1 14 0 5 2 4 0-6 1-9 1 0 2 0-3 0 1-10 3-1 1 9 2 2 0 1 4" marker-start="url(#k0)" marker-mid="url(#k0)" marker-end="url(#k0)"/><path d="M103 14l33 1-30 3-18 1-7 2 20-1 0 8-2-1-4-1-3-1-6 4-8-3 0-1 0 3-4 1-1 0-6 4 7-1 0 1 1 0 10 0 3-2 5-1 14 1 12 1 6 5-10 1-3-1-13-2-1 2-1 0-7 1-7 0-2-3-20 5 7 3 6-1 1-2 0 0 0 0 2 3 13-2 5-1 1 0 0 4 13 0 38 0 16-1-48 5-6 0-24 0-2-1-2 2-1-4-8 3-4-1-2-1-3 3 2 3 1-1 1 0 4 3 11-4 0 1 2 0 8 1 1 1 6-2 5 3 1 0 48 0 65 2-28 2-80 1-2-3-1 1-5 2-2-2-2-1 0-1-5 0-5 4-13-4-1 1-4 1-2 0-2 0-13 6 1 0 5-1 5-2 0 0 4 0 2 3 5-1 0 2 9-1 0-1 4-2 3 4 0-3 10 1 7-2 3 2 0 0 7-2 3 3 31-3 13 6-33 1-19 2-4-4-4 3-9-1-2-2-9 0-7 3 0-1 0-1-9 0-1-1-5 4-6-3-2 3 0 1 5 0 4 0 0 0 4 3 2-3 6 4 4-3 6 3 0-3 0-1 8 0 1 2 9 1 2 0 6-2 5 2 2 0 35 5-24-2-24 2-2 0-1-3-3 3-3-2-7 0-5-1-3 1-2 0-13 3-3-4 0 1-3 0 0 1-2 1-4 1-3 0 0 3 0 0 0 1 3-1 5 2 0 0 0-2 2 0 4-2 0 2 4 1 10-1 5-2 3 2 2 1 1-2 5 0 19-1 2 1 4 3 117 0 10 0-36 1-49 4-15-1-26 1-4-1-6-3-2 3 0-1-9 1-4-2-2-1-4 2-2-2-2 3-2-2-2 0 0 3-3-4-5 2 0 2-9-3-7 1-3 0-2 0 9 4 2 1 4 1 6-3 1 2 2 0 11-2 2 4 4-3 9-1 0 2 5 1 4-1 16 0 7 1-4 4-9 1 0 0-8 1-4 0-2 0-3 0-5-3-5 3-6-4-2 0-6 2-1-1-1 2-6-2-3-1-3 3-7 1 0 0-3-3-9 2-3 0 5 5 4 0 3 1 21-4 1 4 3-2 4-2 3 1 1 2 3-1 1-2 7 2 3 0 4 1 3-1 1-2 16 6-10-1-1 1 0 2-3-1-4 0-2 0-8 0-2-2-1 4 0-2-5 1-7-1-1-2-1 3-5-2 0 0-1 2-4 0-9-2-3-1 0 1-3 3-1-2-4 2-5-3 1 8 1 0 1 0 5-2 0 0 8 0 6-1 9 1 7-2 9 3 1-3 4 3 0-1 1-2 4 3 5 0 1-1 1 2 1-4 14 0 2 1 5-1 18 3 16-3 13 3 11 0 17 0 62 6-53-2-78-1-11 1-3 2-13-4-10 2-5-2-1 0-1 4-6 0-10 0-2-3-1 2-4 0-7-1-1 2-1-1-1-2-1 1-2 0-3 2 0 0-4-1-5 0 2 6 7-1 4-1 6-2 1 3 3-1 8 1 1-3 9 2 0-1 2 0 2 3 1-1 3-1 10 2 8-4 3 0 0 2 9 1 11 0 37 1 91 2-73 0-25 1-37 2 0-1-4 0-6 0-3-1-1 1-1-3-4 2-2 1-2-1-2-1-6-1-6 4-3 0-3-4-2 2-3-1-1 2-1-3-2 1-5-1-5 1-2-1-5 3-1 1-2-3-8-1-2 2 9 5 8-1 4 2 0-2 3-1 2 0 0 1 4 3 1-4 5 1 0 2 5 0 1-3 9 2 3 1 12-1 1 2 5-2 0 2 4-2 0 0 5 1 18 0 9-2-13 6-1 2-12-2-3-1-3 1 0 1 0 0-7-1-1 0-2 1-11-1-1-1-10 2-4-2-13 0-1 0-9 3-4-2-2-2 6 5 1 0 2 0 8 3 2-2 6 0 6-1 10 3 7-3 6 4 1 0 3-1 2 1 0-4 4 3 5 0 18 0 8-3-11 7-11 0-5 2-10-1-12 0-1 1-5 0-5-3-2 2-1-1-4-2-5 1-2 2-1-1-1-1-3 1-6-1-5 1 1 3 2 0 8 1 3 3 0 0 3-1 1-1 2 2 1 0 1-3 0 3 10-1 2 0 1-1 1-2 3 0 0 4 6-4 0 4 2-1 2 0 6 1 4-2 1 1 5-1 4-1 6 3 8-3 11 2 22-3-38 8 0-1-9 0-3 2-4-3-5-1 0 4-1-4-3 1-3 0-1 1-2 1-1-3-3 3-1-1-1 1-7-2 0-1-6 2-4 2-1-2-1 1-2 1 0-2-11 6 4 0 9-1 0 2 2-1 3 0 11-2 6 3 3 0 1 0 2-2 2 0 4-1 2 0 3 3 4 0 0-3 2 3 2-1 2 1 75-1 35 3-24 1-72-1-2 2-1-2-7-1-1 4-6-4-3 3-3-2-7 2-1-3 0 2-1 0-4-2-3 4 0-4-1 2-2-2-1 2-2 2-4-4-1 3-7 1-1-3-4 1-1-2-1 0 14 5 1 4 1-1 4 1 1-4 6 4 1-2 1-2 1 0 8 3 1 1 1-2 0-2 6 0 1 1 1 2 4-2 0 2 5-2 1 3 1 3-2 2-2-3-5-1-4 4-1-2-3 2-4-3 0 1-5 0-4-2-25 1 18 4 2 2 2-1 7 3 2-1 7 0 1-1 8-1 0 1 5-1 3 0 5-1 2 0-1 9-20-1-5-2-8 0-3-1 35 7 11-1 0 5-12 3" marker-start="url(#k1)" marker-mid="url(#k1)" marker-end="url(#k1)"/><path d="M109 12l5 1 9 1 0 0 1 0 4 0 4-2 8-1 5 3 11 5-4-1-3 1-3-3-1-1-5 3-2-1-4 2-7-4-1 4-3 0-1-1-5-3-2 1-1-1-3 2-1 2-2-3-2 2-2 1-13 0 2 3 7-1 6 1 1 2 2-1 2-2 11 0 9 0 4-1 13 1 4 2 2-2 6-1 6 1 3 2 4-1 5 0 5 6-14-2 0-1 0 2-9 1-2 0-2-1-3-2-7 2 0 2-2-3 0 0-2-1-4 0 0 3-2 0-2-1-5-1-1 3-1-4-4 3-5 1-2 0-14-2 0-2-12 0 4 6 20 3 3-3 1 2 0-2 3 0 0 2 2 1 3-1 6-1 0-2 4 2 2 2 1-4 9 2 1 2 11-4 1 2 2-1 1 1 2 0 0 1 2-1 9 1 0-2 1 0 3 0 0 0 2 0 1-1 2 1 8 3 1 1-1 3-4 1-7-2-2-2-1 1-4 1 0 1-2-3-1 2-18-1-1 0-3 2-15-2-6 3-4-2-1 0-5 1-1 1-8-4 0 2-2-1 0-1-2 0-16 0-7 4-9-2-9 4 41 2 8-2 1 0 2 1 7-2 2 1 4-1 1 4 8 0 4 0 1 0 5-4 1 4 4-3 4 3 1 0 2-1 10 0 4 1 1-2 4 0 1 2 5-3 2 2 1 0 8 1 9-3 8 6-13 0-5 2-1-2 0 1-8-1-3 1-1 1-1 0 0-4-7 2 0 2-8-4 0 2-1 2-1-2-6-1-4 3-2 0-3-1-2 1-2-3-1 1-2 0-1 2 0-3-1 0-3 2 0-2-2 2-3-2-2-1-1 2-1 2-6-1-3-3 0 0-56 3-4-1 24 3 4 0 35 3 1-1 3-2 7 1 2-1 3 2 4 0 1 2 0-3 13 2 5 1 4-4 1 1 13 3 6 0 1-3 10 2 0-2 1 3 2-2 5-1 3 1 2 2 10 0-6 2-6-1 0 1-1 1-1 2-3-4-1 2-7-2-7 2-1 0-3 1-4-2-2 2-2-3 0 1 0 1-2-2-2 3 0 0-2-3-2 4-10-4-4 3-3-1-2-1 0 0-6 3-2-3-4-1-2 4-2-1-2-2-4-1-1 0-1 0 0 0-4 3-1-3-6 2-26-2-25 9 10-1 23 1 11-3 4 1 3-1 9 0 5 0 0 2 2 0 0-3 2 3 1-3 1 1 2-1 4 3 1 0 1-3 3 3 1 1 2-1 1-3 3 1 2-1 2 2 1-1 0 1 6-2 10 0 2 0 2 2 0-2 4 2 1-2 3 2 0 2 7-3 3 0 0 2 1-1 0 1 1 1 4 0 4-4 4 1 1 1 11 2 12 5-3 0-2-2-11 2-7-3-2 3-3-1-1-1-1-2-3 4-1-4-2 3 0 0-3-3-3 4-7 0-3-1-1-3-4 3-5-1-2 1-2 1-8-4-3 0-5 4-6-3-2 3-1-4-3 4-6-1-10 0-3-3-9 3-34-2-9-1-3 2-9 1 7 2 26 0 14 4 3-2 12 0 1 1 6-1 18 2 8-1 7 1 3-4 2 1 1 0 2 2 0 1 9-4 7 3 11 0 6 0 1 1 4-3 0 3 3-4 4 0 0 0 5 0 1 3 11 0 1 0 2-1 2 0 1-1 21 5-13 0-4 1-16 2 0 0-1-3-6 3-2-2 0 2-8-3-5 2-1-1-3-2 0 3-11 1-3-4-4 1-3-1 0 3-1 0-2 0-1 0-3 1-2-3-1 1-1 2 0-2-3 0 0-1-8-1-4 0-4 0-1 2 0 1-1 1-2-3-6-1-11 0-12 4-29-1-23 4 13 2 9-4 19 0 18 2 7-1 2 3 3-2 1 0 1 1 2-3 3 0 0 2 3 1 3 1 1-3 2 3 1-3 6 1 7-1 14 2 4-1 1 1 2 1 1-1 3 1 5-3 4 0 3 2 2 0 2 0 1 0 1-2 1 1 0 1 3-2 0 3 0-1 1-2 1 3 1-2 8 2 4 0 0-2 1-1 5 1 0 1 8 0 3 1 0 0 0-1 1 0 2 1 1-4 0 2 1-2 4 3 0-3 3 3 3 3-2 2-4 0 0-2-1 0 0-1-2 4 0-3-1 0-3 2-8-1 0-1-2 3-2 0-2-3-1 0-2 3-7-2-6-2-4 0-2 1-1 0-1 3 0-3-3-1-2 0-1 4-1-4-3 4-1 0-8-1-2-1-3 2-4-4-1 2 0 0-2 0-2 0-2-2-13 1-6 0-3-1-11 0-7 2-1 2-7-3-6 2-5-3-34 4-10-1-18 3 0 0 6 2 23-1 27-1 25 2 1-2 10 0 1 3 1 0 1-3 4 1 6-2 9 1 1 1 5-1 1-1 7 0 1 1 5 3 1-1 0-2 1 1 11 0 3-2 9 3 5-3 3 0 1 3 1 1 3 0 2-4 10 4 2-4 0 0 5 1 0 2 3 0 0-1 3 2 1-4 18 4 7 4-5 1-7-4-1 3-5-1-5 1 0-2-5 0 0 1 0-1-4 0-1 2 0-3-4 4-3-4-3 1-8 2-1-3-1 2-4 0-2-1-2 0-5 3-1 0-6-2-2-2-3 1-3 1 0 1-6 1-5-4-7 3-1-1-2 0-2 1-3-2-5 1-8 2-4 0-7-2-5 1 0-2-4 2-5 0-40-2-15 0-6 2-16-1 16 3 8 2 1 2 32-3 18 0 6 1 5 2 2-2 1 1 4 0 11 0 3-1 1 0 6-2 11 2 4 0 0 1 1-1 2 0 2-2 1 2 4 1 3-3 2 0 3 1 3 3 4-3 10 1 0-2 1 1 1 1 3 1 7-2 5-1 0 0 6 3 3-1 2 1 2-1 1-2 2 4 4-2 2 0 8 2 6 2-6 1-5 1-9-1-2-1-5 1-2-2-1 0-1 2-4-2-3 1-2-1-2 3-1 0-2-1-1 2-5-1-4-3-10 3-21-2-1 2-5-1-2-1-9 3-5-2-10-2-2 4-6-2-2 2-7-3-13 0-13 1-20-1-10 2-1 1-3 0-16 2 4 0 3 2 11 0 6 1 1-2 8 0 3 1 10 1 31-1 2-3 7 0 2 1 15 3 3 0 2-1 2 0 1-2 2 1 2 0 1 2 2-2 4-1 1 0 5 3 2-1 3-1 3 0 0 0 5-2 1 2 5 2 1-2 5-2 1 3 17 1 4-2 1 0 2-1 5 1 4-2 6 3 8 0 1-3 3 3 2 1 1-1 3-2 1 2 2-2 1 3 3-1-2 2-7 3-1-1-6-1-1 2-3-3 0 0-1 0-5 1-1-1-3 1-5 2-7-3-2 0-2 1-3 3-4-4-2 4-3-4-2 2-2-2-1 2-9-1-6 3-2-3-2 2 0-3-6 0 0 4-5-2-1 1-1-3-2 3-1-3-1 2-1-2-10 3-9 0-3 0-2-1 0-2-8 0 0 1-1 3-4-3-2 2-12-1-12 1-8 1-11-1-4-1-16-2-12 0 40 7 14-2 7 1 5 3 5-2 1 2 2-1 3 1 4 0 1-1 4-2 0-1 3 4 0-2 1 2 2-4 0 3 4-2 8 1 1 1 8 0 1 0 0 1 1-1 2-1 15 0 1 2 3-1 2 0 2-2 3-1 3 4 1 0 0-1 6-1 0 2 4-2 2-2 2 3 1-1 1 2 2 0 1-4 3 3 3 0 3 0 7-3 0 3 0-2 1 1 0-1 1 0 3-1 20 3 3-3 1 0 0 6-10-1-2 4-2 0-3-2-1-1-5 2-12-3-5 3-1-2-4 0-5 1-1 1-3-3-4 0-6 4-3-2-4 2-6-2-17-2-13 4-17 0 0-4-6 0-4 1-4 1-9 2-22-2-5 0-41-2 8 5 20 2 46-2 2 3 2 1 2-3 1 1 1-1 6 1 1 1 1-1 13-1 6 1 1 2 0-1 0-2 2-1 3 3 3 1 0-4 2 3 6-2 1 2 0-2 1 3 3-1 2-3 5 2 1 1 3 0 8 1 0-3 2 1 1-1 3 0 8 0 6-1 1 4 0-4 2 3 11 0 0 1 22-2 1 0 1 2 2-2 2-2 1 4 0 0 2-4 0 6-7 1-2 0-1-2-3 1-2 3-10-2-1-2-2 0 0 0-1 3-2 0-2 0-6 1-4-4-4 0-2 0-1 4-2-1 0 1-6-3-1 0-4 1-6 1-3-3 0 4-1-1-5-1-2 0-7 2-1-3-1 2-5-3-1 1-1 1-1 0-3 2-3-1-1-3 0 0-2 0-4 3-1 0-4 1-1-4-4 1-2 0-14 3-8-2-53-1 13 7 8 1 11-3 10 1 11-1 2 1 6-2 8 4 5-3 0 1 1-1 1 2 4-2 4 1 4-1 1 0 2-1 1 0 5 0 2 4 3 0 1-3 0 3 1-4 1 3 1 1 9-2 3-1 4 3 4-3 4 1 2 0 4-1 1 1 20 1 1 0 1 0 2 1 0 0 0-2 2 2 0-4 3 4 2-4 1 3 4-1 1 0 2 2 5-3 2 2 2-3 4 1 2 3 1 0 2-3 2 3 1-1-2 4-3 1-1-3-5 3-2 1 0 0-11-1-1 1 0-4-1 4-8-2 0-2-1 1-1 3-5-1-3-1-1 0 0 1-1-3-1 0-11 2-2 0-4 1-1-2-1 1-7 1 0 0 0-2-2 3 0 0 0-1 0-1-2 2-1-3-4 1 0 0-2-1-13 2 0-1-2 0-1 2-2-1-1-3-2 1-1 2-1-1-1 0-4-1-2 3-3-1-3-2 0 3-2-4-1 3 0 0 0-2-6 1-3 2-7 0-4 0-26 0 14 1 5 3 2-2 19 2 8 0 1-1 1-2 4 4 4-2 0 0 4 0 3-2 2 0 1 2 5-2 1 0 0 0 2 0 0 4 3-4 0 3 5 0 1-3 3 4 1-2 2-2 1 3 2 1 1-1 3 1 0-3 1 1 0 0 1 1 2-1 2 2 2-3 1 0 1 1 7-2 0 4 2 0 3-1 1-1 4-2 9 4 7-4 2 1 3 1 2 1 4-1 1 0 7-1 4 3 2-1 2-2-5 4-3 0-3 2-2-1-6 2-5-1-1 2-4-2-8-1-5 1-8-2-2 3-1 1-3-2 0-1-5 2-1 1-6-3-2 1-4 0-1 0-9-2-9 4-10-3-16 1-3 0-30 2-1-1 0 1-45-4 20 8 29-3 9 4 24-3 2-1 31 4 3-4 3 2 6 2 3-3 3 0 7 0 2 0 0 0 0 0 1 2 3-1 2 0 0 0 2-2 0 3 4-3 9 1 4 0 1 1 0-2 1 1 2-1 2 0 3 2 2 2 3-4 2 3 1-1 2-1 6 3 0-2 1-2 1 0 0 7-4-1-3-1-4 1 0 2-1-1-1 2-2-2-3-2-1 3-11 0-5-1-3-1-1 2-4-1-7 2-1-3-13 2-1-3-2 4-7-3-6-1-3 0-37 1-2-1-2 0-4 0-1 1-2 1-9-1-7 1-6 1-27-2 8 4 5 1 24 0 0 3 15-2 0-2 4 0 17 2 26-1 12 0 14 2 10-3 2 1 1 1 4 0 2-1 3-1 1 4 2-3 3-1 10 1 2 2 5-1-3 3-7 4-2-4-1 1 0 3-1-1-5-1 0 1-2-1-1 0 0 2-2-2-1 0-1-2-3 0-2 3-13-2-4 3-10-1-2 1-5 0-40-1-3-2-1 2-19 1-18-2-7 2 17 5 10-1 18-1 6 1 1-3 27 0 5 2 22 0 11-1 2 0 4 1 7 1 3 1 7-4 3 0 0 1-13 5-3 1-10 1-16-2 0 2 0 0-2-3-3 3-9 0-11-2-1 1 0 2-7-1-6-1-5 0-3 0-1-2-8 1-21 3 10 1 14 1 10 1 3-1 4-1 6 4 5-2 7 2 4-4 5 4-1 2-1-1-6 4 0-2-19 2-3-3-9 3-5 2 8-1 13 3 12 0 4-1" marker-start="url(#k0)" marker-mid="url(#k0)" marker-end="url(#k0)"/></g><rect x="17.60" y="0.50" width="124.40" height="108.90" fill="none" stroke="#333" stroke-width="1"/><text x="0.00" y="9.60" font-size="13" text-anchor="start" font-weight="bold" fill="#231f20">a</text><text x="10.40" y="55.30" font-size="6.3" text-anchor="middle" font-weight="normal" fill="#231f20" transform="rotate(-90 10.40 55.30)">UMAP2</text><text x="78.50" y="120.00" font-size="6.3" text-anchor="middle" font-weight="normal" fill="#231f20">UMAP1</text><text x="18.00" y="133.00" font-size="7.2" text-anchor="start" font-weight="normal" fill="#231f20">Condition:</text><circle cx="58.3" cy="131" r="1.5" fill="#20b2b8"/><text x="65.70" y="133.00" font-size="7.2" text-anchor="start" font-weight="normal" fill="#231f20">WT</text><circle cx="87.1" cy="131" r="1.5" fill="#e8746b"/><text x="93.20" y="133.00" font-size="7.2" text-anchor="start" font-weight="normal" fill="#231f20">KO</text><text x="42.20" y="56.10" font-size="7" text-anchor="middle" font-weight="bold" fill="#231f20">KO</text><text x="99.80" y="57.90" font-size="7" text-anchor="middle" font-weight="bold" fill="#231f20">WT</text><g transform="scale(.5)" fill="none"><path d="M480 32l25 5 45 3-31 11 29 1 7 2-4 3-8 1-58 1-36 2 71 3 2-4 1 4 4-2 5-2 3 4 0-4 4 4 1-2 1 2 0-2 4 1 2-3 7 3 7-1-1 5-2 1-3-3-2 3-1 1 0-1-1-2-3 1-1 2-1 0-7-1-3-2-1-1-3 3 0 0-1-1-1 1-10 0-5 1-11-2-8 0-38 7 42-2 21 2 5-4 6 4 4-1 3-1 1-1 2 0 20 3-11 5 0 0-4-4-5 3-1-2-7-1 0 3-1 0-5-2-20 0-2 2-6-2-3 5 3 2 4-2 4 3 0-3 5 0 0 3 0-2 5 2 1-1 0-3 0 4 1-1 1 1 1-2 6 0 9 0 0 1 8 1 4-1 3 1 5-4-9 9-5 0-3-2-2 0-4 1-1-1 0 1-7 1 0-4 0 3-2 1-5 0 0-2-2 1-4-3 0 1-8 1 0 0-95 6 85-3 5 4 4-3 0 1 3-1 4 0 0-1 9 2 1 2 3-1 1-1 5 0 0 0 3 1 2-1 1 0 0 2 1-1 1 1 3-2 24 0-10 3-3 3 0 0-1 1-5-4-1 3-6-2-4-1 0 0-8 2-1-2-1 1-2 2 0-1 0 0-1 1-4-3-1 3-1-3-2 1-9 2-4-2 0 2-11 1-51 0-30 5 81-4 4 0 5 3 2-1 7 1 3 0 19 0 2 0 1-2 1 3 6 0 2-2 2 2 7 0 4 0 2-1 7 0 54-2-61 8-3-4 0 3-3-1-7-2-2 4-2-3-5 1-11 1-5 1 0-4-3 2-5-1-7-1-1 0-2 1-3 1-2 0-9-1-4 5 7 1 3 1 16-3 3 1 4 2 9-3 1 1 0 0 7 0 1 2 1 0 6 0 2-1 4-1 0 3 3-1 0-2 8 4 0 0-1 1-6 1-5-2-2 1 0-1-5 3 0 0-5-3-5 3-7 1 0-2-5-1-1 1 0-1-2 0-6 3-8-3-14 7 3-1 4 2 5-3 5 1 1 0 2 2 14 0 5-3 4 1 5 2 6 0 6-3 0 1 2-1 2 2 5 1 5-3-11 8-2-4-11 0-1 1 0 2 0 0-2 0-1 1-6-1-1 0-4-2-5 0-8 3-2 0 0 0 0-4-1 1 0 1-2 2-2 0-7-2 5 6 2 0 2 1 2-2 0 2 2-1 4 0 3 0 5 1 11 0 9-4 4 3 1-1 0 0 12 1 7 2-7 3-5-1-7-1-10 3-2 0-1-3-2 0-3-1 0 3-1-1-1 1-3-1-1-2-2 1-5 3-1-1-3 0-3 1-11-1 4 6 1-4 8 2 2 0 1 1 2-2 3 1 13-2 3 4 3-1 2-3 1 0 2 2 4-2 2 3 9-2 10 8-13-3-3 2 0-3-1 2-1 2-9-4-8 1-2-1-1 0 0 1-3 2 0 1-4-2 0-2-2 1-5 0-1 1-7 2-1 0-14-1-1-1-5 0-26 5 38 1 4-3 5 2 2 2 1-4 0 1 2 1 4 2 8-3 1 3 2-1 3-3 1 2 3-2 1 0 1 1 4-1 3 4 4-2 1 1 4 0 1 1 13-1-6 5-1-1-4 0-2 1 0 0-2 1-11 0-1-2-2 1-1-1-16 2-5-4-11 2-1 2-1 0-3-1 0-3-2 6 0 2 3-2 26-1 0 2 2 0 6 2 8-3 8 3 1-3 1 1 48 4-42 3-1 0-4-2-1 1-5-2-18-1-2 4-20-1-11-3-6 0 1 5 5 3 1-2 35 0 5 1 18 0 4 0 4 0 4 5-33 1-10 1-27-2-2 1 64 3-38 5-21 0-11 1-4 5 5-2 54 1-44 14" marker-start="url(#k2)" marker-mid="url(#k2)" marker-end="url(#k2)"/><path d="M447 16l-2 0-15 6 9-1 0 1 10 1 17-2-9 6-2 2-4-1-4 1-1-1-3 0 0-1-5 1-4 0-4-3-1 3-8 0-3 2 14 1 5 0 1 3 1-1 1 0 0-1 0-2 2 2 3 1 4-2 4 3 1-2 0 1 3 2 0 1-3-1 0 3-1 0 0 0-1-2-2 2-5 0 0 0-1 0-8 0 0-2-8 0-2 3-1-2-6 2-1-1-5-2-3 7 1-1 1-1 2 0 15 0 9-1 6 4 2 0 6-3 1 3 1-2 7 5-3 0-4 2-7-3-1 3 0-2-4-2-1 1 0 0-1 0-1 0-5 3-3-3-1 0-4-1-5 2-1 2-1-2-1-1-3-1 0 1-5 2-1-3-3 4 3 2 4 2 7 1 5-1 9-1 12 1 15-1-5 6-7-3-3 3-4-1-2 0-8 1-4-3-1 0-2 2 0 2-2 0-3-2 0-2-10 0-2 4-6-4-2 2 11 3 2 0 1 2 1-2 1 2 9-1 1-1 4 3 3-2 7 3 5-2 0-1 3-1 6 3 39 1-32 5-1-2-8-2 0 2-9-1-3 2-1 1-7-4-4 1 0 2-28-2 1 4 9 3 15 1 8 0 0-3 4 2 5 0 1 1 13 0 4-3-19 5-14 1-24-2 22 6-34 13 89-2-82 4 155 13-133 2 116 11 7 17 44 6-175 0 53 47" marker-start="url(#k3)" marker-mid="url(#k3)" marker-end="url(#k3)"/><path d="M463 14l2 0 3-1 10 1 27 4-2-1-7 0-12-1-3 3-3-2 0-1-10-1-5 3-2-1-2 0-7 6 5 1 6-1 8-1 8 0 5 0 3-2 1 3 3-2 2 2 1-1 1 1 25 1 8 4-3-3-11 2-3 2 0-2-5-1-3 3-1-2-2-2-2 3-1-2-7 3-5-4-4 2-1 0-5-2 0 0-8 2-2 2-12-3 0 0-1 1 0 2 6 3 1 2 2-2 1-1 2 1 8-1 3 3 1-1 6-2 1 2 5-1 3 0 3-2 2 0 2 4 2-3 1 1 2-1 1 1 16 2 1-1 4-1 5 2 11-1 7 5-19 0 0 0-1 0-3-3-1 4-5-2-7 2-2 0-3 0-2-2-2 0-2 1-1-2-3-1-1 0-3 1-5 0-1 3 0-3-1 3-17-1-5 0-2-2-6 6 7 2 0-2 1-2 1 2 0 0 4-2 2 2 1 0 1 2 2-2 3-2 1 3 5-2 1 2 2-1 0-2 8 1 3 1 1-1 3 2 3-1 0 1 7-1 0-1 5 3 5-2 0-1 2-1 7 4 0-4 0 3 1-1 1 0 4 0 1-1 2 1 11 3-3 0-1 0-6 3-2 1-3-3-1 2-2 0-1-3-10 2-5 0-3 2-3-4 0 2-10 2-2-1-1 0-2-3-6 4-1-3-1 0-4 3-1-4-7 4-5-3 0-1-5 2-3 1-2 0-1 0-3 5 8 1 9-1 14 0 2-3 1 4 3-2 1 1 5-3 3 4 3-4 4 3 1 1 4-1 7 0 4-2 1 1 12 0 4 1 0-2 1-1 12 7-8 0-2-2 0 1-7 0-1 1-6-1-1 3-5-2 0-2-3 1-1 2-14-3-3 2-2-2-2 2-3 0-4 1-3-3-3 1-2 1-1-1-1 1-4 2 0-1 0 1-2 0-3 0-2 0 0-3-1 0-2 2-5-1-4 1-1-3-1 0-8 1-2-1 6 8 6 0 0 1 1 0 2-1 2 1 13-4 3 0 0 1 2 1 0 0 1 1 2 1 1-2 2 0 0 2 10-3 1 0 1-1 1 4 3 0 3-2 4 1 7-2 4 1 12 1 11 0 6-2-24 4-6 2-4 2-3 0 0-2-4-2-2 4-4 0-17-4 0 1-1-1-9 3-4-3-1 0-3 0-4 4-5-3 0-1-6 1-5-1-14 1-19 1-15-2 41 5 29 3 1 0 0-1 6 1 7-3 3 1 0 3 1-1 5-3 2 3 3-3 82 5-84 1-3 3-10-3-6 1-5-2-32 0 37 7 68-2 8 6-101-1-64 9 174-2-94 11 18 0 116 3-184 1 90 3 37 7-112-1-42 8 67-2-62 4 93 12 103 7-37 2-105 7 159 2-36 2-131 1 25 9-17-3 135 5 4 8 5 4" marker-start="url(#k4)" marker-mid="url(#k4)" marker-end="url(#k4)"/><path d="M471 44l20 3 51 8-112 8 126 3-92-1-19 4-10-2-16 1-24 3 1 1 5 2 1-1 8-1 5-2 1 1 3 0 15-1 6 0 5 2 5 1 5-1 6 0 1 2 30 5-14-4-10 3 0-2-1 2-1-1 0 1-2-3 0 3-3-2-9 2-7 1-7-1-5-2-6 1-3-1-2 3 0-2-1 1 0 1-1 0 0-3-8 3-5-1-6 1-2-1-3-3-1 2-1 4 2 1 2 2 1-2 6 0 1 2 3-2 3-2 0 3 1-2 3-1 7 2 4 2 1 0 1-2 1-1 14 2 3-2 9 1 3 1 2 1 4-2 2-1 8 3 1-2 5 0 2 2 1-3 4 3-6 2-5 3-2 0-5 0 0-2-2-1-2 0-9 0-1-1-1 3-2-2-2 3-3-3 0 2-4 0-1 1-4-3-2 3-3-4-3 4-19 0-8-2-2 0-4 1-5-3-2 0 1 8 14 1 0-1 0-2 3 2 1-3 3 0 5 4 3-4 6 3 2-3 1 3 1-1 2 1 4 1 5-2 5 0 2 0 1 0 3-1 1 2 0-1 2 2 1-4 5 4 1-4 1 4 2-4 3 0 2 3 4 0 1 0 3-2 5-1 0 1 6 2 2 2-3 1-3 2-9 0-2-3 0 0-12 3-17 1-1-1-1-3-1 2-6 0-6 0-8-1-1 2-1-3-2 0 0 4-3 0-7-3-2 3-1 0-5-2-2 0-1-1-2-1-8 4 4 5 2-4 2 1 5 0 2-1 1 4 9-4 1 0 0 0 9 4 3-3 2 1 1 1 1-3 0 4 3-4 0 3 2 0 19-2 9 0 0 0 0 3 0-3 4 1 0-2 1 4 1 0 0-2 5 0 0-2 1 1 0 3 3-2 70 3-61 4-4-2-1 0-4-1-4 0-11 1 0 1-2-2 0 1-11 1-6 1-2-4 0 2-3 2-2 0-8-2-11 1-1 1 0 0-3-1-3 1-3-2-3-1-5 2-9 0 3 3 1 2 6 0 5-2 3 0 1 3 6-1 3-3 12 1 0 0 1 1 9 1 0-3 1 3 2-1 1 2 12-2 10-1 0 3 2-3 1 2 1-2 2 1 1 1 6 1 4 0 2-3 1 3 2-1-4 2-6 4-2-3-2 1-2 2-2 0 0 0-1-2 0 0-2 2-2-2-1-2-5 0 0 2-4 0-1 2 0-3-6 3-4-3-1-1-1 1-1 3-3-4 0 4-4-3-3 3 0 0-2 0 0-3 0-1-2 4-1-2-1 1-3 0-5-2-5 3-4-3 0 0 0 0-10 3-2 2 3 3 3-1 10 0 3-2 17-1 15 3 3 0 1 1 13-1 7 0 0-3 1 0 5 1 3 3 2-4 4 0 12 0 97 8-108-3-2 1-2-1-2 0-7 3-8 1 0 0-2-3-2 0-2 2 0-3-1 3-1-2-1 3-1-2 0 1-7 1-3-3-1 0 0-1-1 4-12 0-1-4-12 3-2-1-2 2-2-2-1 2-6 0-5 0 0-4-5 6 14 2 3-1 2 0 5 2 1-3 2 3 6-3 0 3 2-2 1-2 4 2 1 2 2-1 12 0 3-1 7-2 1 2 2 1 2 1 0 0 2-3 3-1 2 3 10-2 7 2 4 1 2-1-16 3-6-1-8 3-3 1 0-3 0 0-3-1-1 1 0 0-3 2-4-1-6-2-2 3 0-1-4 0-1 2-1 0-1-2-3 1-2-3-2 3 0-1-11-1-14 2 0-3-1 1-2 0 0 0 7 8 0-3 0 1 1-1 6 2 2-2 1 1 3 0 1-1 0 2 4-2 5 2 2 0 3 0 4 0 6-1 3 0 1 1 0 1 1-4 1 3 5 1 0-1 3-2 0 2 4 1 1-3 1 3 4-3 1-1 2 1 1 2 6-1 7 1 3 1 14-2-22 5-3 1-1-2-3 1-1 1-1-3-1 4-7-3 0-1-2 0 0 4-5-4-2 3-2 1-10-1-2 0-12-1-5-2-3 2-3 0-1-2 0 4-11-4-1 0-3 4 8 3 1 0 1 2 0-3 11 1 3-1 11-1 5 2 0 1 6 1 0-2 0-1 6-1 0 2 2-2 3 4 5-1 3-2 0-1 7 2 1 1 2 1 10 1-10 4-7 0 0-3-2 0-7 0-2 0-2-1 0 4 0-2 0 1-3-3-5 2-9 0-2 0-1-2-6 0-4 4-5-1 0 0-2-2-3 5 8-1 1 4 0-4 15 3 5 0 13 1 3-1 2-2 1 1 6-1 1 2 1-3 2 2 7 2 1-4 2 2 9-1-10 7-3 1-9-1-1-3-5 1-2 3-6-4-2 3-2 0-1-1-4-1 0 1 0-1-2 2-2 0-7 1-3-1-8-1 3 4 1 0 2 1 5-2 2 1 2-1 1 4 0 0 1-1 2 1 1-1 1-2 1 1 5-1 1 3 0 0 4-2 1-1 3 0 1 1 7 1 1 0 0-3 2 3 3-1 2-1 1-1 4 4-7 2-3 0-4 1-4 0 0 2-3 0-5-4-1 0-6 4-3-3-2 0-5-1-3 2-4 0 9 4 6 0 0 1 1 0 4-1 4 2 2 0 3 1 1-2 1-1 3 3 5-4 5 1 1 2 2 0 2 0 1 0 2-3 5 5-3 4-7-3-6-1-5 1-3 2-13 1-1-2 14 3 13 3 2-3 3 1" marker-start="url(#k5)" marker-mid="url(#k5)" marker-end="url(#k5)"/><path d="M460 45l24 9-77 10 75-3 77 1 7 0 15 6-1 0-10-3-5 4-3-2-4 0-67-2-94 1 41 8 125 0 18-1 7 3 0 3 0-1-7-3-1 3-18-1-2 1-3-2-41 0 44 4 1 3 3 1 7 0 4-3 4 3 1-1 0 1 3-2 2-2 1 0 2 1 4 0 5 1 0 4-1 0-2 0-2 3-3-2-8 2-3-1-1-3-2 2-1 0-2 0 0-2-2 0-5 2-2-2-1 0-4 3-130 5 3 1 126-4 1 3 11-2 7 1 4 1 1-1 3 1 1-1 5 2 1-4 7 0 3 1 4 1 6 6-4-3 0 1-8 0-15 3-1-1-1 0-1-3-3 0-1 1-6 2-2 1-3 0-5-3-14 1-85 1-3-1 97 6 2-2 3 0 1 0 1 2 0-1 3 1 0 0 0-1 4-2 3 2 1-1 0 0 9 2 2 1 10-2 3-2 5 3 4-1 4 2 5 3-1 2 0-3-8 0 0 3 0-4-5 0-3 4-6-3-12 2-1-2-8 1-2-2 0 2-1-2-1 4-3-2-3 1 0-3-139 8 24-2 102-1 7 0 0 0 7 2 1-1 3-1 3 0 6 1 0-1 0 3 1-3 3 0 7 2 0 2 0-2 1 1 16 1 4-4 1 0 6 5-5 4-1-4-1 1 0 2-6-3-17 2 0 2 0-3-1 1-3-1-1 1 0 2-17-1-6-2 0-1-1 1 4 5 3 3 2-3 0-1 6 1 0 2 0-1 0 2 1-1 10-2 2 0 0 2 4 0 5-1 2-1 2 0 2 0 8-1 0 3 5 0 4 4-2 1 0-3-1 3-7-3 0 2 0 0-1-1 0-1-3 2-2-1-2 0 0 2-1-3-2 0-1 0-1 2-2 1-9-2 0 0-3 0-8-1 0 2-5 0-1 2-11-1-6 0 0-2 15 8 8-2 0-1 9 2 1-2 1-1 4 2 2 0 2 2 3-1 4-1 1-1 1 1 1-1 5 2 6-3 3 1 0 0 2 2 1-3-3 8-1-3-3 1-5 2-2 0-2-3-2 4-6-3-2 1-6 1-1-3-1 2-4-1-5 3 0 0-2-2-2 1-4-1-1-1-3 3-7-4-122 7 62 0 13 2 51 0 3 0 3-2 12 0 2-1 7-1 5 4 2-3 2 2 7 1 1-3 2 1 5 2 6 0 0 2-5-1-1 4-6-3-8-1-4 0-1 4-6 0-2 0-2-1-4-1-2-1-8 0-1 3-4 0 0-1 0-2-3 2-7-1-127 2 139 2 1 1 3-1 10-1 3 4 0 0 1-3 2 1 1 1 2 1 3-1 7-1 2-1 6-1 4 4 1-3 0 0 5 2-1 3-15 0 0 0-7-1-10 1-1 2-2 1-9-3-1 0-3-1-1 2-8-1-3 2-46-2-88 2 135 5 12-3 1 0 1 1 3-1 2 4 4-2 1 1 4 1 3 0 1 0 10-4 0 3 3 0 3 1 0-1 2 1 5-2-6 5-2-1-2-1-3 4-9-1-6-2-4 2-2 0-2-2-6 0-2 1-1 1 0-3-1 4-8 0-121 0 125 1 6 0 2 4 1-4 4 4 3-2 2 2 0-4 2 1 5 2 2 0 2-1 2 1 0-2 2-1 1 3 2 0 5-3 4 4 5-4-9 9-5-4-1 1-4 1 0 2-1 0 0-4-10 3-1 1-5-1-9-2 0 2-4-1-4 0 0-1-1 3 0-2-98 0 106 3 2 3 10-3 4 4 1 0 1-1 2-1 2-2 1 2 1-2 4 0 1 0 0 1-3 8-10-2 0 0-9-1-55 5 52-1-71 11" marker-start="url(#k6)" marker-mid="url(#k6)" marker-end="url(#k6)"/><path d="M517 142l64 3-136 18 145 6-11-1-15-3-18 11 3 5 7 7-8-2-3-1-5 0-1 2 0-1-1 2-1 1-13 0-2-3-6-1-10 0-4 0 3 6 4 1 5 0 1 0 5-1 1 1 4 0 9-1 1-1 2 1 5 2 1-3 3 3-7 3-2 1-1 0 0 2-17-3-3 1-1 2-3 0-2-4-2 2 0 2 0-4-1 4-2-3-5 0-8 3 10 4 3-1 4-2 9 3 6 1 5-3" marker-start="url(#k7)" marker-mid="url(#k7)" marker-end="url(#k7)"/><path d="M513 58l-74-1-22 2-11 2 18 1 9-2 4 0 8 1 18 0 16 8-36-2-1 2-21-2-2-2-6 1 0 1-8 1-1 0-6 2 2 1 2-1 0 0 2 1 4 3 16-3 8-1 4 3 1-2 8 3 5 0 5 0 8-4 6 2 0 1 1 1 81 5-75 0-1-1 0-1 0-1-2 1-1 2-3-3-9-1-4 0-2 0-3 2-1 2 0-2-9-1-1 0-5 0-2-1-4 4 0-4-12 1 0 1-5 0-11 2-5-3 4 4 0 0 0 3 2 1 1 0 3-3 1 2 4 1 3-3 10 0 2 3 9-2 4-2 6 0 2 2 11 2 1-4 3 2 0 0 6 0 2 0 1 2 17-4 8 9-1-2-5 2-1 0 0-2-7-2-1 1-5 0-5 0-5 1-1 2-1 0 0 0-10-3-2 2-1 0-1-2-1 3-1-4-4 0-1 1-3 1-1-1-1 0-1-1-7 3-9-2-3 2-2 1-7-4-2 4-3-1 0-1-5 0-2-1-2-1-1 6 2 2 1 0 1-1 1-2 5 2 2-2 6 1 2 1 0-1 13 0 3 3 6-4 3 0 4 3 2-2 2 3 1-1 3-3 1 2 1 1 11 0 3-3 1 0 5 2 1 2 3-3 7-1 0 1 1-1 2 6-8-1-5 4-4-1-1-2-1 1-1 0-13 1-1-1 0 0-2-2 0 2-4 2-1 0-1-3 0 0-2 0-1 2-1 0 0-2-2 0 0 1 0 2-2-3-3 0-6 0-4 2-9 0-3 0-2 0-9 0-9-1 5 3 3 4 0-2 2 2 0-2 5-1 4 1 1 2 2-1 11-3 1 2 1 1 1-3 6 3 2-1 4 1 6 0 5-3 10 1 1 1 4 2 7-2 3 0 8 1 2 0 45-2-41 6-1 2-6-4-5 4-2-4 0 4-3-1-6 0-2-2-6-1-2 1-2-1 0 1-2 2-2-1-7-2-2 4-1 0-3 0 0-3-3 2-2-1-6-2-4 4-2-2 0 0-2-2-1 3-7 0-5-2-1 1-8 2-5-3-2 8 7-1 6-2 3 2 3-1 0-2 4 2 2-1 0 3 7-1 7 1 1-4 1 1 3-1 7 2 3 1 6 0 6-1 0 1 6 0 0 0 1-1 6-2 3 0 2 3 2 0 4 0 1-1 9 0 0 3-11 2-3-1-18 0-3 2 0-2-4 1 0 0-3-2-3 3-3-2 0 2-3 0-1-3-6 2-1-2-4 1 0-1-1 0-4 3-1-2-3 2-8-1 0-2-2 4-2-3 0 1-1-1-4 3 0-1-4-3-2 4 0 0 4 1 5 2 6-2 2 2 2-1 1 2 0 1 0-1 3 1 7 0 19-2 1 0 8-1 1 1 4-1 7 3 0-1 1 0 6-3 3 4 0 0 0-2 1-2 4 1 1 3 0-4 1 4 2-3 1 2 2 3-1 0-1 2-5-3-16 4-1-2-1-2-17 1-1 3 0-1-1 1 0-3-1 1-4 2-6-1-3-1-3-2-1 1-2-1 0 2-7 0-1 0-20 4 18 0 11 2 0 1 0 0 3-4 1 0 3 3 3-1 2 0 4 1 6 1 1-3 4 2 0-1 2-2 1 1 6 2 2-1 3 2 1-3 0 3 2-3 2-1 7 0 2 0 4 3 1 0 3-1 5 0 5 2 39-4-19 9-27-1-10-3-1 3-6 0-1 0-4-3-3 0-17 2 0 0-4 0-14 1 0 1 0-3 0 2-5-3-3 2-4-1-3 2-2 0-1 1 0 5 2-4 5 2 1-2 0 4 7-2 6 0 1-1 2-1 1 2 2 2 1-3 3 3 2-3 0 1 0-2 2 2 0 2 7-4 2 0 3 0 2 2 0 2 6-4 4 0 1 2 3 1 5-3 4 0 5 0 0 6-3-1-5 3-6-3-4 1 0 2-1-3-3 2-3 0-3 2-2-3 0 3-13-3 0 2 0 1-12-1-2 0-2-1 0 0-1 2-1 0-2-3-3-1-1 1-6 3-1-4-1 0-2 1 0-1 0 6 6 0 4 0 0 3 6 0 5-1 10-1 2 2 1-2 3 0 2 2 1-3 7-1 2 1 1 0 3 3 2 0 10 0 1-3 2 1 0 2 1-1 0-1 1 0 1-2 5 3 3-1 14 2-15 2 0 0-4 0-3 3 0-1-9 0-2 0 0-1 0-1-12 2-1 1-3-2-5-1-1-1-5 2-10 0-3-1 0 1-2 1 0-2-3-1-6 0-2 2-2 0-1 0 11 5 3 2 9-4 8 1 0 3 3-2 6 2 0 0 0-3 15 2 2-2 2-1 2 4 3 0 1-1 8 1 3 1-13 1-1 2-7-1 0 0-2-1-1 2-4 0 0-2-3 1-1 1-8-3-2 2-2-2-2 3-2-2-1 0 0-1-3 2 0 2-7-3 0-1-7 3 0 0 6 5 6-1 5-1 2-1 0 3 7 0 0-3 3 2 0 0 9 0 5 0 1-1 2-1 1 3 1-2 4 0 3 0 1-1 1 2 0-1 4-1 4 3 0-3-6 8-2 1-1 0 0 0 0-3-2 3-5-3-2 0-4 3-4-3-3 1-8 2-1-3-2 1-3 0 4 3 1 1 1-1 2 2 1 0 3 1 3-1 5-2 1 4 0-3 1-1 6 4 4-1 3-2 0 2 7 5-6-2-1 2-2-3-2 3 0-2-1-1-2 2-1-1-2 2-1-3-7 3-2-1-1-1-1 3 16 1 8 0 0 0 7 10" marker-start="url(#k5)" marker-mid="url(#k5)" marker-end="url(#k5)"/><path d="M511 47l42 13 17 9-1-1-3 0-5 0-24 6 18 0 8-2 5-1 2 3 5 0 0-4 2 3 8-1 4 3-1 3-5-2-1-1 0 2-3-1-4 2-2-3-1 4-1-4-3 1-3-1-1 3-7 0-3-3-146 7 23-1 124 1 5-1 2 2 2-3 2 3 1 0 2-2 1-1 7 0 0 2 1 2 1-1 14-2 1-1 3 4 1-4-2 7-2-2-3 4 0-2 0 2-2-2 0 0-6 2-2 0-2-2-3-1-1 2-7-3-3 2-9 1-106-2-38 4 144 2 5 0 5 2 3-2 2 0 8 1 0 0 1-2 1 0 2-1 2 1 1-1 0 1 1 3 3-2 5-2 7 1 2 1 2-1 4 6-2 2-12-3-5 2 0-3-3 2-2-1-3 3-4-3-5 2 0-3-1 0-4 2-1 2-4-4-2 3-3 0-1 0 0 0-1 0-97 2 35 0 75 1 4-1 3 3 3 0 6-1 10 0 0 2 2-2 0-2 6 2 3 0 4-1-2 6 0 2-10-1-1 0-6-1 0-2-3 2 0-2-5 4-2-2-3 1-2-1-2-2-7 1-1 0-3 1-1 2-7-4 0 7 1 1 6 1 5-1 3-2 1 2 0 1 0-1 5 0 2 1 0-1 1-3 5 0 5 0 5 0 2 0 0 3 1-1 1 2 1-1 0 1 4 0 6-2 2 0 7 0-7 4 0 2-1-2-6 3-3-1-4-1 0-2-1 2-6 0-1-2 0 3-2-2-1 1-1 2-11-1 0-2-2 3-5-2-1 0-5 1-96-3 32 8 61-3 2 2 0 2 2-3 0 3 7-3 8 1 0 1 1 1 0-1 3-3 4 0 1 0 6 3 1 0 0-3 3 1 3 1 1-2 3 3 1-1 8 0 3 7-5-3-2-1-1 3 0-1-1 1-1-3-8 4-5 0-2-3-1-1-1 3 0 0-2 1-14-3-2-1-4 2-3 1-152 0 69 3 75-1 3 2 9-1 1 2 5 1 2-2 0 2 8 0 0-2 2 1 12 0 2-1 8-1 1 0 5 2 1 0 0-3 1 9-2-1-1-1-5 0 0 1-4 0-3-3-3 1-2 2-19 0-7-2-5 2-1 1-11-1-65 0-72-3 141 5 5 1 8 0 7 1 1-1 3 0 10 1 2 1 14 1 1-4 4 1 4 2-7 6-6 0-1-4-1 2-9 0-1 2-8-1 0 0-3-2 0 2-1 0-3 0-2 1-7-4-5 4-137-2 138 4 4 2 2 0 4-3 2 4 3-3 1-1 0 3 1 1 6-3 5 2 2 1 4-3 3 3 5-3 4 1 0 2 4-4-3 5-5 0-5 2-1 1 0-2-5-1-7 2-6-1-1 2-2-1-3-1-6-1-15 1-107 3 31 5 83-4 2 2 4 0 1-1 6 3 1-4 14 1 2 2 2-2 1 1 0 1 14 0 0 4-1 2-4-4-2 3-1 1-7-3-7 0-1 1-8 0-1-2-4 1-7 0-4 5 2 0 2 0 4 2 0-2 6 0 24 5-4-1-11 0 0 4 0-3-3 1-4 0-5 1 0-1-3 2 0-4-5 4-2-4-4 4-2 2 10 0 2 1 4-1 1-1 4 4 1-2 1 2 0-2 1 1 3 0 1-3 2 3 1 0 2 0 2-2 2-1-1 6-14 0-5-1-2 3-3-2" marker-start="url(#k6)" marker-mid="url(#k6)" marker-end="url(#k6)"/><path d="M465 31l-4 11 85 3-104 9 110-4 3 0 1 4 1 1-5 1-6 3-1-2 0 2-7-1-6 1-27 5 13 0 2 0 4-1 6-1 8-2 5 0 1 0 0 4 2 0 0-2 11 0 1-1 1 0 3 3-15 5-1-3-7 2-8-3-8 1 0 0-1 3-2 0-7-3-15 3-28-1 27 4 3 2 0-1 1-3 3 2 1 2 10 0 2-3 8 3 3-3 6 1 4 2 0-3 1 0 3 0 2-1 0 3 2 0 0-1 4 2 3-1 1 1 2-2-1 5-5 1-4-3-3 1-1 0-2 2-7-2-3-1-11 3-5 1 0-2 0-1-5 2-5-3-1 2-2 1-1 1-3-4-27 1-54 7 80 1 2-2 17 1 6 0 1-2 3 0 10 0 8 3 4-2 3 0 5-1 7 2 10 4-18 2 0-4-2 1-7 1 0 2-1-2-2-1-1 3-7-1-1 0-1 0-2-1-1-1-6 0-1-1-13 1-2 1-13-1-2 3-1 0-2-1 5 4 8 0 6 0 0-2 6 2 3 1 5 0 12-3 1 0 3 3 2-2 2 2 1 0 7-2 7 0 3 4-2 0-5 4-2 0-5-3-1 2-10 1-1-2-4 0-2 0-10-2-1 4-1-2-3 1 0-2-3 1-4 1-1 0-1-2-7 3-14-3-68 3 68 2 12 1 4-1 0 2 3 0 4 0 1-1 6-1 5 1 2 2 12-3 1 3 1-4 37 1-14 8-3 0-2-3-11 0-4 1-1 2-4-4-1 0-2 0 0 3 0 1-6 0-1-1-1-3 0 2-3 2-2-4-12 2-5 2-3-3-10 3-55 5 53-3 6 2 6-2 5 1 1-2 4 2 1 2 2-3 0 0 2-1 0 2 11 2 2-2 0 2 4-3 1 3 0-2 0 1 2-1 5 1 1-3 0 0 1 4 5 0 2 0 0-3 3 2 4-1 3 7-2-2-1 2 0 0-4-1-6-2-1 2-2 0-14-2-3 1-9 2 0-1-1 1-1-2 0-2-9 0 0 4-2-1-2 0-2-1 0 0-14 6 19-2 4 2 2-2 9 3 1 0 9-2 1 2 0-4 8 3 0 0 3 0 3-1 5-2 1 4 2 0 22 1-7 2-15 0-1-2-2 3-5-1-3 1-9-3-2 3-3-3 0 0-8 0 0 1-3 0 0 3-4 0-7 0-1-4 0 3-5-1-2-1-30 1 38 6 9-1 2 2 3-1 9-1 2 0 5-1 1 3 6-2 1-2 3 3 9 6-1-3-2 2 0-3-3 1-3-1-1 0 0 4 0-4 0 3-10-1-4-1-6-1 0 4-3-3-1 3-2-2-3 0-1 0-3 0 0-2-2 3-1 1-2 0 0-1-1 0-3 0-2 0-3-2-88 6 86 1 4-1 3 1 13 1 2-1 0-3 1 2 10 2 7-2 6 2 6-3 1 3 3 0 5 0 1-4 4 2 3 2-15 1-1 2-1-2-2 3-1-2-1 2-6 0-3-2-2 0-1 3 0 0-2-1-2 0-9-2-5 3-1-1-5 1-1-4-8 0-3 3-3-3-2 4 7 5 1-1 2-2 6 2 1-1 5 1 1-1 1-2 2 1 18-1 5 2 6 0 1 0 0 1 2-1 1 0 0 1 2-2 3 2 11 1 2-1-9 5-9-1 0 1-2-3-3 0-6 4-1-4-1 1-11 1 0-2-4 2-3-1 0-1-2 2-1-1-2-1-9 1-8 1-1-1 4 6 8-2 0 0 16 2 13 1 6-3 3 2 1-1 7-1 0 0 5 4 1 0-3 5-19-1-1-1-2-1-1 0 0-1-2 3-2 0-32-2-3 3-4 5 6-1 0-1 3 0 18 1 5-2 20 2 20-2-5 7-30 0-1-1-37 3 1 1 64 3 2 0 2-3 2-1-3 5-6 1-49 1-4 1-1 1-3-4 0 4-3-3" marker-start="url(#k2)" marker-mid="url(#k2)" marker-end="url(#k2)"/><path d="M470 9l0 5 35 3-3 0-2-1-8 1-1-2-7 4-2 0-1-1-1 1-2 0-2-2-2-2-7 4-5-3-2 6 1-2 2 2 0-1 1 0 3-1 1 3 1-1 5 0 6-1 2-1 5 3 2 0 6-3 6 4 0 0 1-1 0 1 2-2 1 1 1 0 7-2 15 8-1-4-7 0-3 4-5-4-1 3-8 1-3 0 0-3-3-1-1 3-7 0-9 1 0 0-8-3-4-1-7 4-2-4-5 1 4 8 1-2 11 0 1 2 1 0 4 0 0-1 8-3 1 3 0-2 5 2 3-3 1 3 1-3 1 3 7 0 5 1 1-4 15 2 1-1 0 1 3 1 0 1 13 4-2-2-4 0 0 2-2 1-4-4-3 0 0 0-3 4-1-4-1 4-3-3-3 0-4 3-6-2 0 1-11 1-1-2 0-2-2 3-4 1-3-2 0 1 0 1-2-3-1 0 0 1-1 1-1-2-5-1-2 1-3 0-3-1-2 1-3 2-2-3-29 2 22 6 5-2 0 1 7 1 4-3 1 2 0-2 1 4 1-3 2-1 1 3 1-3 1 2 1-2 0 1 4-1 4 4 4-3 4 2 1-1 1 0 5-2 0 3 1-2 1 3 8 0 6 0 0-4 4 0 4 3 2 1 0-1 4 1 7-3 1-1 5 4 1-1 3-1 0 1 8 1-7 5-2-2-1-2-1 3-1-2-13-1-3 4-3-2-6 2-1 0-5 0-11 0-11-2-1 2-2-3-5 3-17-4-4 1-1 3-6-2-12-1 9 7 2-2 5 2 9 1 2-1 9-3 3 3 4-3 0 1 2 1 3 0 2 0 5 0 6 0 2 1 2-3 9 0 4 4 6 0 5 0 1-2 1 0 6 0 4-1 0-1 3 2 0 0 2-2 1 4 6 0 0-3 5-1-11 9 0-4-1 4-6-2-3-1-5 3-2-3-4 3-8-1-1-1-6 2-2-2-4 2-2 0-2-4-9 3-6-3-4 0-2 2-1 1-4-3-10 0 0 0-4 3 0-2-10-1-12 4 5 2 10 3 7-4 2 0 0 4 8-4 6 3 5 1 2-1 3-1 1-1 1 2 3-1 3 0 5 0 1-2 13 3 12-3 17 4-17 3-11 2-3-1-4 1-4 0-9-4-2 4-3 0-8 0-1-2-2-2-8 2-6 0-10 2-48-2-7 5 54-2 2 3 13-2 4-1 1 1 3 3 0-3 2-1 1 1 6 0 0 1 5 2 6 0 1-4 17 1 27 0-35 4-23 3-6-1 0 2-3-2-9 2-35-3 42 4 6 1 1 0 98 6-49 1-29 10 104 4-127 16-14-2 55 10 1 4 5 5-57 9 107-1-8 4 22 6-52 3-92 4 25 10 11 2 112 3-6 0-93 14 34 5-25 8" marker-start="url(#k4)" marker-mid="url(#k4)" marker-end="url(#k4)"/><path d="M586 87l-89 9 8 17 65 11 17 3-67 20 23 27-8 4 12 6 5-4 5 3-12 4-13 2-6 0-6-2-3-1-24 3 5 5 3-3 9 1 14 0 8 2 1 0-7 1-8 1 0 2 0-3-1 1-7 1-3 2-1 1 10 2 2 0 1 4-6 0" marker-start="url(#k7)" marker-mid="url(#k7)" marker-end="url(#k7)"/><path d="M448 13l1 1 8-1-2 5-2-2-4-1-33 9 9 0 1-1 7-2 4 2 0 1 1-3 3 2 3-2 2-1 6 0 0 4 37 5-30-1-4-1-3 2-1 0-2-1-2-3 0 4-5-3-2 1-1-2 0 0-2 2-2 1-4-1-2-1-2 3-1-3-14 5 7 3 1-2 2 1 4 0 3-3 8 1 0 2 3-1 2-1 3 3 4-3 5 1 0 6-3 1-3 0 0-2-1-2-6 4-9-3 0 3-4-2-9-1-1 1-3 1-1-1 0 2-6 1 4 2 8 2 1-2 1 1 3 1 6-1 11-2 0 2 3-1 1-2 4 4 9-4-1 6-11-1 0 4-4-4-1 0-5 1-2 3-4-3-11 3-1-4 0 3-13-3-4 5 4 3 8-2 3 2 2-2 6 2 1-1 0 0 4 2 2-4 6 0 1 1 1 2 0-1 4 2 3-4 1 0 2 3 2-1 97 2-94 1-2 4-8-4-1 1-1 2-4-3-7 2-1 1-2 0-10 0-4-2 0 2-1-3-1 2-1 1-3-1 0 0-9 1 2 6 1-3 6 1 4-2 1 2 6 1 2 0 2-2 2 2 1-2 2 1 3-2 0 1 1 3 0-4 6 4 0-3 7 1 2-2 0 3 0-1 2 1 2-2 2 1 4 0 1 0 5-2-8 6-1 3-4-1-1-3 0 0-2 2-2 0-1-2-3 1-5 0-8-1-6 0-7 2-8-2-8 2 13 4 4-1 0 3 12-3 7 3 5-3 7 3 7-2 2-1 0 4 5-2 4-1-35 4-1 0-22 0 65 29 74 21-75 17" marker-start="url(#k3)" marker-mid="url(#k3)" marker-end="url(#k3)"/><path d="M463 32l68 9-134 22 1 0 19 0 10-1 4-2 7 5-16 2-1-1-15 3-7 0 4 1 4 0 0 0 4 3 3-3 5 4 5-3 6 3 3-4 5 2 10 2 7-3 8 2 0-1 27 3-10 0-23 4-8-1-1 0-1-3-4 3-2-2-7 0-6-1-1 3-1-2-3 0-12 3-3-4-3 1 0 1-2 1-5 1-3 3 0 1 1-1 2 0 6 2 0 0 0-2 1 0 0 0 4-2 0 2 5 1 4 1 6-2 3-2 1 0 4 2 2 1 1-2 5 0 5-1 13 0 3 1 3 1 1 2 8 0 3-2 1 0 1 1 2-3 6 3 3 1 3 0 58-2-58 3-11 0-7 2-1 2-7-3 0 3-4-1-2 0-5-3-1 3 0-1-9 1-4-2-3-1-3 2-2-2-2 3-2-2-2 0 0 3-3-4-3 4-2 0-1-2-7 1-2-2-6 1-4 0-1 0-6 4 1 0 6 2 8-2 2 1 4 1 6-3 0 2 2 0 1 0 11-2 1 4 5-3 8-1 2 1 3 2 5-1 16 0 0 1 2-2 5 2 5-2 1 3 2-3-4 6-4-1-1 2-3-1-1 1-4 0-4 0 0 0-8 1-5 0-1 0-3 0-5-3-6 3-5-4-2 0-2 1-5 1-1-1-1 2-6-2-1 0-1-1-4 3-2 0-4 1-1 0-11-2 0 1-4 0 6 5 3 0 4 1 7-4 8 2 2 2 4-4 1 4 3-2 4-2 2 1 2 2 3-1 0-2 7 2 4 0 2-1 2 2 4-3 12 1 6 1 4 2 3-2 1 1 4 0 102-3-99 9-5-2-9-1-3 0-10-1-1 1 0 0-1 2-8-1-3 0-6 0-1-2-1 4 0-2-6 1-6-2 0 1-1-2-2 3-4-2 0 0-1 2-2 0-1 1-1-1-2 1-8-3-2 0-1-1-2 4-1-2-5 2-4-3 1 8 1 0 1 0 4-2 1 0 3-1 3 2 2-1 5-1 3 2 7-1 0 0 0 2 7-4 2 2 3 1 3 0 6 0 0-1 1 2 3-1 5 0 2-1 1 2 1-4 14 0 2 1 4-1 1 0 7 0 0 5-1 4 0-3-4 0-2 2-6-1-3 2-4-2-8-2-4 3-6-1-1 2-4-4-1 0-1 4-5-1-1 1-3-2-7 2-3-3 0 2-4 0-3-3-5 4 0-2-1 1-1-2-1 1-2 0-1-2-2 4-1 0-3-1-5 0 2 6 6-1 5-1 6-2 1 3 2-1 8 1 2-3 9 2 0-1 2 0 2 3 4-2 1 0 9 2 5-4 2 0 3 2 1-2 2 1 5 3 2-1 2-1 2 2 2-1 3 1 2-1 2 1 1-1 3-2 6-1 91 1-101 4-4 1-4 1-1 2 0-1-5 0-3 1-3-1-2-1-1 1-1-3-4 2-2 1-4-2-5 1-2-2-4 2-2 2-3 0-2-4-2 2-3-1-2 2-1-3-1 1-6-1-4 1-2-1-6 4 0-1-3-2-4-1-4 0-1 2 8 5 6-2 2 1 5 2 0-2 3-1 2 0 0 1 3 3 2-4 3 2 2-1 0 2 5-3 0 3 12 0 12-1 2 2 5-2 0 2 4-2 0 0 3-2 1 3 2 0 2 1 2-3 1 1 8 0 0 1 4 0 63-2-67 6-10 2-3-2-3-1-2 1-1 0 0 1 0 0-7-1-1 0-2 1-12-1-1-1-9 2-4-2-14 0 0 0-3 0-7 3-3-2-2-2 6 5 1 0 2 0 8 3 2-2 6 0 1 2 4-3 4 4 7-1 4-2 3-1 6 2 0 2 1 0 2-1 2-3 5 3 2-2 2 2 6-3 8 4 46-2-45 5-6 2-6 0-4 0-1 0-8-1-12 0-1 1-4 0-2 0-5-3-1 2-2-1-4-2-5 1-2 1-1-1-3 1-12 0 3 3 9 1 3 3 0 0 2-1 1-1 2 2 2 0 1-3 10 2 3-1 1-2 2 4 1-4 6 0 0 4 2-1 2 0 1-3 5 3 0 1 1-3 2 1 2 1 4-1 5-1 5 3 2-1 6-2-4 7 0-1-9 0-3 2-4-3-5-1 0 4-1-4-3 1-2 3 0 0-1-1 0-2-2 1-2 1 0-3-3 3-1-1-2 1-6-2-6 1-4 2-2-2 0 1-2 1 0-2-14-2 3 8 3 0 10-1 0 2 2-1 1 0 2 0 10-2 7 3 3 0 1 0 2-2 1 0 3-2 1 1 3 0 3 3 3 0 0-3 1 3 2 0 2-1 1 1 105-3-95 5-2-1-2 0-1 0-1 4-2-4-1 1-2 1-2-2-2 3-3-2-3 0-4 2-1-3-1 2 0 0-1 0-3-2-2 3-1-3-1 4-1-2-2 0 0-2-2 4-5-4 0 3-8-2 0 3-4-2-1-2-1 0-2 1 9 4 5 1 2-1 1 3 0 1 5-4 0 4 6 0 2-2 1-2 1 0 5 1 0 3 3-1 1-1 0 2 1-4 6 0 1 1 1 2 3-1 0-2 1 1 0 2 3-3 5 8-6-2-4-1-4 4-2-2-2 2-1 0-3-2-6 0-3-2-6 2-8 2-11-3 17 4 3 2 2-1 6 3 1 0 10-1 0-1 7 0 1-1 5 0 5 1 5-2-21 8-5-2-1 3-8-3-2-1 21 5" marker-start="url(#k5)" marker-mid="url(#k5)" marker-end="url(#k5)"/><path d="M467 14l0 0 0 0 5 0 4-2 8-1 5 3 11 5-4-1-4 1-2-3-2-1-5 3-2-1-2-2-2 4-6-4-1 4-3 0-2-1-4-3-3 1-3 1-1 2-5-1 16 3 9 0 4-1 13 1 4 2 3-2 6-1 6 1 3 2 4-1 5 0 4 6-13-2 0-1 0 2-10 1-1 0-3-1-2-2-7 2 0 2-2-3-1 0-1-1-4 0 0 3-2 0-2-1-6-1 0 3-1-4-4 3-5 1-3 0-1 5 3-3 1 2 2-2 0 2 2 1 4-1 5-1 1-2 4 2 2 2 1-4 9 2 1 2 10-4 2 2 2-1 1 1 1 0 1 1 1-1 9 1 1-2 1 0 3 0 2-1 0 1 3 0 8 3 1 1-1 3-5 1-6-2-2-2-1 1-4 1 0 1-3-1 0-2-18 1-2 0-3 2-14-2-6 3-5-2 0 0-6 2 0-1-4 0-4-3-34 8 39-2 1 1 7-2 2 1 5-1 1 4 8 0 4 0 1 0 2 0 3-4 1 4 3-3 6 3 3-1 9 0 3 1 1-2 5 0 0 2 7-1 2 0 8 1 9-3 8 6-13 0-5 2-1-2 0 1-9-1-3 2 0-1-1 1-1-4-6 2 0 2-8-2-1-2 0 4-1-2-6-1-5 3-2 0-2-1-2 1-2-3-1 1-2 0-1-1-1 0 0 3-3-3-1 2-1 0-3-2-2-1-2 2 0 2-6-1-3-3-1 0 4 7 0 1 4-3 6 1 3-1 3 2 4 0 0-1 1 3 8 0 5-1 5 1 3-4 2 1 13 3 7-3 10 2 0-2 2 1 6-1 3 1 1 2-6 1-1 2-14 0 0 1-1-1-7-1-3 2-1-2-1-1-1 0-2 3-1 0-1-3-2 4-10-4-5 3-2-1-2-1-6 3-3-3-4-1-1 4-3-1-1-2-4-1-2 0 0 0-1 0-3 3-1-3-13 6 4 1 6-2 3 3 8-2 0 2 2 0 0-3 2 3 1-2 0-1 3 0 4 3 1 0 1-3 3 3 1 1 2-1 0-3 3 0 0 1 3-1 2 2 1-1 0 1 6-2 9 0 3 0 1 0 1 2 4 0 1-2 2 2 0 2 21-4-3 5-22 0-9 2-4 2-4-3-5-1-2 0-6 4-5-3-3-1 0 4-3 0-6-1-2-1-8 1-4-3 5 7 19 2 18-4 2 1 18 2 47 0-75 2-4 0-6 2-2-1-13 0-4-1 2 6 12-1-29 5-6 7 139 4-104 13-43 1 5 0 31 3 27 1 94 1-78 9-66 3 62 6-6 2-15 8 97 5-148 5 60 0 50-2-64 23-20 2 43 23" marker-start="url(#k4)" marker-mid="url(#k4)" marker-end="url(#k4)"/><path d="M422 28l83 15-56 11 104 1 13 9 11 5-2 0-2-2-11 2-6 1 5 0 1 3 12 0 2-1 1 0 2-1 21 5-14 0-3 1-16 2 0 0-1-3-6 3-2 0-5 5 2-2 9 2 4 0 0-2 1-1 5 1 0 1 8 1 3 0 0 0 0-1 1 0 1 1 2-4 0 0 0 2 3 2 2-1 0-3 3 3 3 3-2 2-4 0 0-2-1-1-1 1-1 3 0-3-1 0-3 2-8-1-1-1-1 3-2 0-3-3-1 0-1 3-58 2 45-1 3 3 5 1 2-4 10 4 2-4 0 0 5 1 0 2 3 0 0-1 3 2 1-4 18 4 6 4-4 1-7-4-2 3-4-1-5 1 0-2-5 0 0 1-5 1 0-3 0 1-5 3-2-4-3 1-9 2 0-3-1 2-4 0-4-1 3 5 4 2 8-2 5-1 0 0 6 3 3-1 2 1 2-1 3 2 4-2 2 0 7 2 7 2-6 1-5 1-9-1-2-1-5 1-2-2-2 2 0-2-4 0-4 1-1-1-3 3-1 0-1-1-1 2-5-1-4-3-97 2-4 0-56 4 172 3 4-2 0 0 3-1 5 1 4-2 6 3 8 0 1-3 3 3 1 1 2-1 2-2 1 2 3-2 1 3 3-1-2 6-1-4-6 3-1-1-6-1-1 2-3-3-1 0-5 1-2-1-2 1-5 2-7-3-2 0-2 1-3 3-4-4-2 2-5 0-3-2-60 3-56 5 111 1 11-2 1-2 4 2 1 2 1 0 2-4 3 3 3 0 3 0 7-3 0 3 0-2 1 1 1-1 3-1 20 3 3-3 1 0 0 6-4 0-7-1-2 4-1 0-4-2 0-1-5 2-12-3-5 3-1-2-5 0-4 1-2 1-2-3-4 0-5 7 12-1 6-1 1 4 0-4 2 3 10 0 0 1 23-2 1 2 0-2 3 0 2 2 0-4 1 4 2-4 0 6-8 1-1 0-1-2-3 1-3 3-9-2-2-2-1 0-1 3-2 0-2 0-6 1-5-4-4 0-1 0-1 4-2-1 0 1-99 5 8-2 37-2 66 3 1 0 1 0 2 1 0 0 0-2 2 2 0-4 3 4 2-4 1 3 4-1 0 0 3 2 5-3 2 2 1-3 5 1 2 3 1 0 2-3 1 3 2-1-2 4-4 1-1-3-5 3-1 1-1 0-11 0 0-4-2 4-7-2 0-2-1 1-1 3-6-1-2-1-1 0 0 1-2-3-1 0-12 2-129 1 6 6 129-4 5 3 1-1 4-2 9 4 7-4 2 1 3 1 2 1 4-1 1 0 7-1 4 3 2-1 2-2-6 4-3 0-2 2-2-1-7 2-4-1-1 2-4-2-8-1-5 1-8-2-3 4-3-3-2 7 2-2 0 2 3-1 3 0 0 0 1-2 0 3 5-3 9 1 4 0 1 1 0-2 2 0 3 0 3 2 2 2 2-4 3 2 0 1 2-2 6 3 1-4 0 2 2-2 0 7-4-1-3-1-4 3-1-2 0 1-1 2-2-2-3-2-1 3 0-2-16 1-3-1-1 2-4-1 0 0-2 3 2 1 1 1 4 0 2-1 3-1 1 4 5-4 10 1 2 2 5-1-4 3-6 4-2-4-1 1 0 3-1-1-5-1 0 1-2-1-1 2-1-2-1 0-2 0 0-2-3 0-2 3-97 5 92-2 2 0 4 1 7 1 3 1 7-4 2 0 0 1-12 5-4 1-9 1-27 7" marker-start="url(#k6)" marker-mid="url(#k6)" marker-end="url(#k6)"/><path d="M525 31l5 23 13 0 22 0-3 2-3 0-6 0-2 1 0 2-11-4-12 3-8-1-26-1 42 5 4 0 0 1 0 1 1 0 1 1 4 0 8-3 1 1 0 4-3 3-2-1-1-1-4 2-1-4-2 3 0 0-3-3-3 4-8 0-2-1-5 0-7 0-115 2 96 3 8 1 5-3 3 2 0 1 9-4 18 3 6 0 0 1 5-3 0 3 3-4 4 0 2 7-9-1-4 2-2-1-3-2 0 3-11 1-2-4-4 1-3-1-1 3 0 0-4 0-2 1-2-3-1 1-1 0-1 2-2-2 0-1-8 2-9 0-1 1-5 3 7-1 3 0 6 1 7-1 14 2 3-1 2 1 1 1 2-1 3 1 5-3 4 0 3 2 2 0 1 0 2 0 1-2 1 2 3-2 0 2 1-2 1 3 27-1-19 4-6-2-1 0-3 0-3 1 0 0-1 3-1-3-2-1-2 0-1 4-1-4-3 4-1 0-8-1-2-1-3 2-4-4-1 2 0 0-2 0-2 0-2-2-7 4-6-3-6 0-3 2-7 6 6-2 7-2 8 1 2 1 6-2 7 0 1 1 5 2 0 1 1-3 1 1 11 0 3-2 9 3 8-3 2 4-5 2-7 3-2 0-5-2-2-2-3 1-3 1 0 1-6 1-5-4-7 3-1-1-3 0-2 1-2-2-5 1-8 2-5 0-90-3 55 6 42 1 3-1 0 0 7-2 11 2 4 0 0 1 1-1 2 0 2-2 1 2 4 1 3-3 1 0 4 1 3 3 4-3 10 1 0-2 2 2-15 6-20-2-1 2-5-1-3-1-8 3-5-2-10-2-5 6 9 2 9 1 2-1 2 0 1-2 2 1 0-2 2 2 1 2 2-2 3-1 1 0 4 2 2 1 1-1 4-1 3 0 0 0 1 1 4-3 5 4 2-2 5 1 0-3 1 3 9 6-3-4-5 2-9-1-7 3-2-3-1-1-1 3-5-3 0 4-5-2-1 1-2-3-1 3-2-1 0-2-1 0-10 3-9 0-5-1-1-2-8 1 5 4 3 4 0-2 0 2 3-1 4-2 8 2 0-1 9 1 0 0 1 1 1-1 2-1 15 2 0-2 3 1 3 0 2-2 3-1 3 4 1-1 5 1 1-2 8 1-14 6-3-2-4 2-6-2-1-1-16-1-8 2-5 2-17 0 0-4-46 7 37-1 6 1 14-1 0 0 7 1 0 2 0-1 1-2 1-1 6 4 0-4 3 3 6-2 1 2 0-2 1 3 3-1 2-3 4 2 2 1 3 0 8 1 0-3 2 0 5 5-2 0-4 1-6 1-2-3-1 4 0-1-5-1-2 0-7 2-1-3-1 2-5-3-1 1-1 1-1 0-4 2-3-4 0 0 0 3-7 0 0 0-4 1-2-4-3 1-2 0-5 3 3 3 1 1 0-2 1 0 5 0 2-1 1 2 5-1 1 0 2-1 6 0 2 4 2 0 2-3 0 3 1-1 0-3 1 4 13-3 4 3 4-3 4 1 1 0 5-1 1 1 2 5-6 1-1-2-1 1-7 1 0 0 0-2-2 3 0 0 0-2-1 1-1 1-2-3-3 1-1 0-1-1-13 2 0-1-2 0-1 2-3-1 0-3-3 1-1 2 0-1-1 0-4-1-2 3-3-1-3-2 0 3-3-1 0-3 0 1-1 2-5-1-8 0-67 3 83 3 1-1 1-2 4 4 3-2 0 0 5 0 3-2 1 0 2 2 5-2 1 0 0 0 1 0 1 4 3-4 0 3 1-3 4 3 1-3 3 4 1-2 1-2 2 3 2 1 0-1 3 1 1-3 1 1 0 0 1 1 1-1 3 2 1-3 3 1 7 2 2 0-1 4-4-1-5 1-1 1-6-3-3 1-3 0-1 0-10-2-8 4-10-3-16 1-3 0-48-2 54 6 2-1 31 4 3-4 3 2 5 2 4-3 2 0 8 0 2 0 0 0 2 8-1-3-13 2-2-3-2 4-6-3-6-1-3 0-32 1-2 2-1-2-5 5 16 1 26-1 12 0 14 2 1 3-4 3-57-1-3-2-2 1-2 2-22 4 23-2 5-1 4 3 1-3 27 0-18 7-7 0-1-2-4 4-4-3 3 5 0 1 0 9" marker-start="url(#k2)" marker-mid="url(#k2)" marker-end="url(#k2)"/><path d="M447 14l6-2 5 1 0 2-7 1-1 2-3 1-12 0-3 0-7 2 12 1 7-1 1-1 5 2 1 2 2-1 2-2-9 6 0-2-2 3-1-1-4-1-3-1-3 0-3 4-8-3 0-1-4 4-1 0-6 4 7-1 0 1 1 0 9 0 4-2 4-1 2 1 13 0 9 0-4 6-2 0-1-1-1-1-1 0-9 2 0-2-1 2-6-2-1 3-6 1-1-1-2-3-6 2-14 3 5 1 2 2 6-3 0 2 1-2 0 0 15 1 4-1 1 4 1-4 11 3 1 1 7-3 44 3-45 4-6 0-23 0-3-1-1 2-1-4-9 3-4-1-1-1-2 2-1 1-2-2 3 5 1-1 1 0 4 3 12-4 0 1 2 0 1-1 4 0 3 2 1 1 5-2 6 3 10 3-5 2-1-3-1 1-6 2-2-2-1-2-1 1-5-1-4 0 0 4-14-4 0 1-4 1-2 0-2 0-7 5 4-2 1 0 0 4 3-4 2 3 6-1 0 2 9-1 6-2 1 3 6 0 3-2 7-2 3 2 1 0 3-1 10 0-12 8-1-1-3-3-3 3-10-1-10-2-7 3-1-2-9 0 0-1-1 0-2 2-8-1 0 2 7 2 21 1 0-1 8 0 10 3 3 0 1-1 10 1 3 0 53 5-110-2-11 3 146 33 45 23-172 11 165 22-1 3" marker-start="url(#k3)" marker-mid="url(#k3)" marker-end="url(#k3)"/><path d="M469 37l73 141-2 1-5 0-4 3 22 0-5 4 0 2 0 0-2-3-4 3-8 0-12-2 0 1-1 2-6-1-12-1 2 5 0-1 2 0 5-1 6 4 5-2 7 2 4-4 5 4-2 2-6 3 0-2-22-1-3 0-6 3-6 0 9 1 13 3 12 0 4-1" marker-start="url(#k7)" marker-mid="url(#k7)" marker-end="url(#k7)"/></g><rect x="189.40" y="0.50" width="124.50" height="108.90" fill="none" stroke="#333" stroke-width="1"/><text x="166.40" y="9.90" font-size="13" text-anchor="start" font-weight="bold" fill="#231f20">b</text><text x="180.20" y="54.50" font-size="6.3" text-anchor="middle" font-weight="normal" fill="#231f20" transform="rotate(-90 180.20 54.50)">UMAP2</text><text x="251.50" y="120.00" font-size="6.3" text-anchor="middle" font-weight="normal" fill="#231f20">UMAP1</text><text x="189.00" y="133.00" font-size="7.2" text-anchor="start" font-weight="normal" fill="#231f20">Cluster:</text><circle cx="220.0" cy="131" r="1.5" fill="#ef736b"/><text x="224.00" y="133.00" font-size="7.2" text-anchor="start" font-weight="normal" fill="#231f20">0</text><circle cx="237.5" cy="131" r="1.5" fill="#b39c1a"/><text x="241.50" y="133.00" font-size="7.2" text-anchor="start" font-weight="normal" fill="#231f20">1</text><circle cx="255.0" cy="131" r="1.5" fill="#2ab34a"/><text x="259.00" y="133.00" font-size="7.2" text-anchor="start" font-weight="normal" fill="#231f20">2</text><circle cx="272.0" cy="131" r="1.5" fill="#1fb8bc"/><text x="276.00" y="133.00" font-size="7.2" text-anchor="start" font-weight="normal" fill="#231f20">3</text><circle cx="289.5" cy="131" r="1.5" fill="#5f91d8"/><text x="293.50" y="133.00" font-size="7.2" text-anchor="start" font-weight="normal" fill="#231f20">4</text><circle cx="307.0" cy="131" r="1.5" fill="#c86cb8"/><text x="311.00" y="133.00" font-size="7.2" text-anchor="start" font-weight="normal" fill="#231f20">5</text><text x="216.70" y="26.00" font-size="7" text-anchor="middle" font-weight="bold" fill="#231f20">0</text><text x="222.10" y="64.60" font-size="7" text-anchor="middle" font-weight="bold" fill="#231f20">1</text><text x="248.00" y="23.20" font-size="7" text-anchor="middle" font-weight="bold" fill="#231f20">2</text><text x="263.90" y="60.70" font-size="7" text-anchor="middle" font-weight="bold" fill="#231f20">3</text><text x="261.80" y="99.80" font-size="7" text-anchor="middle" font-weight="bold" fill="#231f20">4</text><text x="295.90" y="67.70" font-size="7" text-anchor="middle" font-weight="bold" fill="#231f20">5</text><text x="346.40" y="9.90" font-size="13" text-anchor="start" font-weight="bold" fill="#231f20">c</text><g transform="scale(.5)" fill="none"><path d="M826 17l-9-2-4 3-2-1-1 0-14-1 4 7 20-1 27 2 0 0 24 4-15-1-4-1-7 2-12-3-5 2-17 2-9-1-11 0-1 3 1 2 9-3 5 1 78 2 6 5-15 1-7 0-11 0-5-2-47 1-1-2-7 2-18-1-10-1 14 5 9-1 12 1 2 0 1 1 15 0 3 0 3 1 6 0 9-2 2 1 24-2 8 2 3 4-35 2-7-1-6 2-7-1-13-1-13 0-5-1 0 0-13-1-6 4-9-1 14 5 0-2 19-1 13 2 26-2 4 2 56 5-9-1-19-1-31 0-10 4-26-3-4 2-40-3 8 5 26 4 7-4 12 3 1 1 2-1 20 1 13-3 1-1 1 4 15-3 55 7-17-2-9 3-4 0-10-4-6 0-9 3-15-1-27-2-9 0-3 2-8-2-10 3-2-2-8 0-1 2-29 3 13 1 5-1 26-1 16 3 35-3 37 1 18 3 1 0 22 5-7-2-16 0-2 1-8 1-41-1-23-1-33-2-9 1-8-1-2 3-9 1 0 0-12-1-4-1 0 4 5 1 15-2 12 1 33 0 7 3 1-2 7 2 32 0 1-1 45 1 9 0 8-3-10 4-3 2-51 1-4-2-28 0-4 3-20-2-57-2 13 8 4-3 8 4 8-4 22 1 1 1 18 2 27-3 6 0 24 1 17-2 25 3 20 3-20 3-3-4-3 0-11 4-18-1-20-2-5-1-25 4-13-4-15 2-40 2-14-3-6 8 11 0 6-2 3-2 19 3 25-2 0 3 4-4 5 4 31-1 40 1 5-4 4 1 10 1 9 1 17 0 12 5 0-2-7-1-2 1-22 2-4 1-4-2-21-2-6 4-20-4-10 4-19 0-4-2-9-2-26 4-45 2 10 0 23 0 0 0 10 2 22-2 41 0 58-1 30 9-22-3-42 1-15 2 0-3-6 0-33 3-3-2-2 2-1 0-6-2-15 1-5-3-12 3-3-2-4 2-8 1-14 2 5 2 9 0 34-1 9 0 34-1 43-1 32 1 27 2 2 5-9-3-7 3-5 0-39-2-12 2-2 1-11-3-12 3-5 0-32-4-7 4-22-1-14-1-5 6 9-2 10-1 32 1 3-1 21 4 5-1 9 0 14 1 26 0 1-1 13-2 10-1 4 1 0 2 10-2 15 0-27 4-9 4-8-4-19 1-11 3-11-4-7 3-46-3-7 4-11-3-5 2-2-3-17 9 4-4 4 2 1 1 8 0 5-1 12 1 21-2 22 3 11-1 1-2 13 3 67-1 1-2-7 4-3 0-13 1-3 0-8 3-3-3-19 2-3-3-7 1-24 3-17-2-7 1-1-3-7 0-3 3-5 1-35-1 28 3 6 1 19 1 56 1 21-3 15 3 2-2 13-1 1-1 12 6-42-1-8 1-2 2-3-1-54-2-10 4-6-3-2 0-6 0-4 1-13 2 36 4 3-1 6-1 2-1 24 2 23-1 26 2 7 1-18 3-10 2-18-1-39 1-16-4-4 3-1-3-9 3-1 0-4-3-4 3-15 5 1-2 7-1 4 3 2 0 1 0 8 1 8-2 8 1 2 0 4-2 5 3 77 0 4-4 13 7-15 2-39-1-53-2-6 3-23-3 23 6 4 1 21 1 77 0-8 2-44 0-2-1-32 0-12 4-13-2 29 3 8 11" marker-start="url(#k8)" marker-mid="url(#k8)" marker-end="url(#k8)"/><path d="M815 14l12 0-19 10 27-4 7 0 6 7-11 2-13-4 0 0-20 1-17 2 18 5 9-1 16-1 5 1 3 0 8-1 26 7-25 0-33 1 0-1-2-2-5 0-2-1 10 7 33 1 13 1 5-3 25-1-1 5-15 0-9 2-4 0-3 2-21 0-28-1 0-3-1 1-18 0-23 7 68 0 2 1 8-4 9 3 11 0 18 1 6-2 6 2-7 3-2-2-13 3-7-2-18-1-9 3-8-2-10 3-1-3-40-1-6 2-10-2-2 4-7-2 49 6 11 1 16-2 32 2 11-4 3 4 4-3 1 0 18 1 4 0-11 6-4-1-28 2-1 0-1-3-40-1-3 4-5-3-1 3-41 1 9 4 18-2 10 2 27-4 4 3 8-1 4 2 28-1 43 2-67 1-8 0-7 3-37-2-27 2-1-4-17 4-4-4 7 7 8-1 11 0 3 1 25 0 7-1 18 0 3 3 37-3 19 0 43 1-5 7-10 0-21-1-18-1-17 0-12 0-56 2-28 0-19 5 33-1 2-1 18 0 0 0 4 1 18-1 5-2 18 4 7-3 20 1 4 0 21 1 21-1 9-2 6 0-14 8-32-3-10 0-11 2-30 2-75 0 6 1 16 4 32-2 2 2 6 0 9-1 8-3 4 3 32 1 24-3 1 3 1-1 43 0-49 6-15-3-3 1-1-1-85 3-22 0-7-3 20 8 1-2 22 0 25 1 36-3 9 3 20-3 21 9-15-1-5-3-9 2-3-1-13 2-63-1-19 2-26-3-9 3 0 5 59-2 11-1 3 2 53 1 5-2 8 2 15 0 38 4-18-1-10-1-32-1-41 0-31 4-4-4-44 3-6 1 0 5 43-2 8 0 4 2 28-1 8 0 32-1 0 0 42 2-4 4-6-2-4 3-36 0-3-3-5 1-55-1-4-1-19 2-6 1-11-2 0 6 4-1 8 1 8 0 15 1 3 0 6 1 3-4 9 2 23 0 33-2 55 1 10 3-11 2-102 2-1-1-5 0-64 5 40 0 11-2 72 2 28 2 25 0 1-4 4 2-13 5-16-2-26 2-14 2-1-3-33 2-3 0-61 6 41-3 1 2 17 1 49-4 23 3 21 0-18 5-10 1-14-3-21-1-47 3-7 0-6-3-8 1 0 1 10 4 15 1 3-2 10 0 41 3 25 1 9-1 7 0 3-1-9 7-20-3-31 3-55 4 87-2 21 2 3-1-103 6 12 5 14 11" marker-start="url(#k9)" marker-mid="url(#k9)" marker-end="url(#k9)"/><path d="M797 79l82 61 49 4-105 4-27 14 39 21" marker-start="url(#k10)" marker-mid="url(#k10)" marker-end="url(#k10)"/><path d="M850 18l-18-2-5 6-21 7-11-2 0 0-12-2 21 9 68 3-3-2-13 4-7-2-2-1-4-1-46 3 16 6 5-4 33 2 27 6-2 0-20-1-21-1-38 3-23-4-2 1 92 5 21 0-44 6-59-2-4 4 19 3 26 2 35-1 9-1 28 1 14 2-5 4-6-1-17 0-30 1-8-3-84-1-3 1-2 0 33 4 21 4 0-4 14 1 21-1 4 0 78 8-28-2-83-1-49 6 2 2 87 1 36-1 11 0 3 1 10-3 19 6-5 2-14-2-3 0-6-1-29 2-9 0-63-2-54-1 9 6 25 3 80-2 9 0 5 2 31-3-1 8-49-3-36 3-11-2-21 2-10-3-6-1-17 6 66 0 89 0 22 7-17-2-21 3-2-4-3 2-24 0-55 0-19-2-3 4-19-1-20 5 5 0 12-2 69 1 32-1 27 1 10-2 17 2 14 2 7 0 5 1-7 0-10 2-11 0-26-1-9-1-41 1-27 1-5-2-8 1-11 0-20 0-11 3 22 1 17 4 49 0 27-2 51 0 12 2 7 0 2 3-10-1-6 0-25 1-59-1-19-1-9 3-10-3-15 1-27 6 4 1 48 0 20 0 41 1 2-2 13-1 52 2-16 6-5-3-78 3-41-4-14 2-6 2-32-3 22 4 22 4 6 0 5 0 103-4-10 6-9 0-28 0-2 2-18 1-22-4-2 2-30 1-21-1-6 5 10 0 29-2 9 3 8-1 18 1 10-2 19 0 35-1 8 7-25 2-13-1-95 1-8-1 26 4 34-2 41 4 15 0 40-2 8 3-26 1-21 2-20 0-37 0-33 0-4 1-9 0-1 2 21 0 23 1 47 0 22-2 8 0 20 2 0 5-4 2-11-1-87-2-8 4 88 2 24-2-3 9-75-4-14 4-3-2-9-2-4 0 9 7 30-2-14 6" marker-start="url(#k11)" marker-mid="url(#k11)" marker-end="url(#k11)"/><path d="M829 19l-3-3-35 6 25-1 40 8-7 0-32-2-19 1-16 0 10 4 2 0 27-1 7 0 35 6-6 2-6-2-8-2-3 1-5 0-33 2-13-2-17 2-3 3 35 3 53-3 13 3 5-2 13 2-57 1-16 2-4 1-21-2-6 0-14 0 17 6 20 1 16 0 26 1 3-4 29 7-53 0-4 2-14-4-16 2-9 1-8 0-9 2 2 0 1 2 59-2 8 4 16-2 13 2 10-4 1 3 11 0 10-1-2 4-10 3-20-2-4 2-6-4-21 1-29 0-34 1-16 7 1-1 28 1 8-2 17-1 13 3 51 0 19-1 32 2-43 0-7 3-15-2-16-1-3 3-14-1-1-2-9 1-1 1 0 2-2-1-1 0-3-2-18 0-2 1-5-2-27 0 18 7 19 1 3-2 59 1 5 2 48 0 10-2 2-2-27 6-6 3-8-2-31 0-27 2-5 0-13-4-10 3-6-2-4-1-26 2-2-1-10 8 1-1 4 1 20 0 21-2 14-2 7 0 5 3 8-1 4-2 46 4 1-2 2 2 41-2 24 6-36 0-14-3-3 2-1 2-11-3-14 1-20-1-8-1-3 1-38 3-2-4-12 2-8 1-5 1-8 0-11 2 32-1 2 0 0 3 32-1 91 2 25-4 6 2-35 5-3 1-7-1-1 1-32 1-6-3-6-1-3 1-34 2-2-2-29 1-8 3 1 1 20 2 36-2 17 3 8-4 5 3 15-2 2 2 11 1 8-4 42 4-41 1-1 1 0-1-5 2-66-1-4 3-25-3-12 3-13-3-1 5 8 3 20-2 36-2 1 2 4 2 9-2 1-1 11 3 49-3 0 1 12-1 9 3 1-3 1 0 2 0 7 6-8-2 0 3-2-3-27 4-16-1-8 1-2-4-18 1-8 2-18-3-37 0-16 2-7 1 8 3 20 2 47 1 14 0 10-1 29 1 32-2 11-2 2 0 2 3-1 5-1-3-7 3-13-1-25-2-23 4-7-4-3 2-71-2-3 3-32 6 1-4 47 0 3 4 45-2 27 1 18-2 19-1 21 9-26-1-19 0-11-1-1 2-12 0-14-3-33 1-21 1-10 0-21-1-12-2-4 4 9 1 17 4 10-2 0 0 3 0 52 2 17-1 18-1 16 1 1-2 16 0 21-1 7 6-13-1-17 4-9-4-4 1-6 1-37 1-15 1-13-3-12 3-10-3-2 3-7-2-29 3 8 0 17 1 13 3 70-3 54 1 3 0 6-1-25 4-15 0-1 3-18-2-17 3-66-3-2 1-4 7 5-3 22-1 90 2 14-1 12 3-12 5-6-4-21 1-3 0-58 2-4 1-6 0-12-2-10-1-3 2-1 4 9 1 13 1 78-4 20 2 5-2-10 7-49 2-59 0-4-1 71 2" marker-start="url(#k12)" marker-mid="url(#k12)" marker-end="url(#k12)"/><path d="M813 14l4-1 31 4-5 0-27 1-32 4 8-1 46 0 3 1 0 1 18 3-13-1-3 1-36 1-4 0 0 2-5-1-23 0-3 2 18 4 2-4 0 2 18 2 1-2 13 2 0-1 17-3 2 0 1 3 5-2 1 1 5-2 9 4-11 5-35-1-10-3-35 4-8 4 1-1 1-1 29 3 2 0 33-3 4-1 15 3 24 0-29 5-25-3-27 1-9 0-9 1-2 0-9-2-2 4 36 4 17 1 55-3 15-1 0 3-15 4-6 1-11-3-2 2-16-1-2 3-6 0-7-1-10-3-3 3-7-3-21 2 0 4 7 0 46 1 1 1 0 0 14-2 19-1 23 0 11 6-25 2-1-1-14 2-24-4 0 0-24 0-21 4-18-1-16 1 9 4 24 0 2-3 3 4 6-1 5-1 2 2 14-1 48-3 12 1 14 3 23-1 7 3-7-1-31 0-12 3-73 0-28 0-12 0-11 4 3 2 57-3 16 1 1-1 17 2 4-2 15 3 14-2 10-2 4 3 10 1 19-4 11 6-2 0-14 2-41-2 0 2-6 1 0-1-51-1-3-1-8 0-1-1-3 1-4 0-39 8 3-1 17 0 3-1 6 2 17 0 5-1 1-3 5 0 6 3 8-2 5 2 5-3 8 2 11 2 4 0 3-1 8-1 29 0-3 6-31-1-10 0-28 1-20 0-18-1-22 2-9-3-7 1-1 0 8 7 13 0 3-3 1 1 42 0 4 0 9 1 11-1 29-1 8 1 13 0 0 0 7 1 2-2 7 0 10 3 19 2 0 3-12-3-21-1 0 2-2 1-21-3-23 4-14-4-5 2-9-1-5 0-3 0-33 1-19-1-4 3-5 0-5-4 3 6 6 2 21 1 16-2 11-1 4 1 55 2 14-4 12 2 6-2 9 0 6 2 1 1 22-2-25 6-23-2-17 2-21-2-8 4-36 0-7-4-5 4-16-3-4 3-2-4-6 3-13-2 67 4 33 4 8-2 28-2 5 1 29 0 8 5-22-1-3 1-7-1-40 3-1-1-4-2-14 2-2 2-8-2-11-2-13 3-6-3-1 3-3 0-10 0-12-3-6 1-10 6 16 0 5 2 15-3 7-1 3 3 23 0 80 0 1-2 15 1 7 1 10-3-45 7-21 1-20-1-10 1-13 0-28 1 0-4-7 3-11-1-4 2-8-2-18 4 0 2 5 0 28-2 6 2 16-1 1-2 17 4 3-2 9 0 2 2 2-2 3 2 12 0 8-1 4-1 20-1 44 3 5 2-27-1-2 4-17 0-12-3-3 2-23 1-2-3-7 0-12 3-39 0-14 0-12-4-6 0-8 0 35 8 2 1 25 0 14-2 11-2 1 1 12 3 10-3 3-1 5 2 40 1 2 0 18-2-16 4-21 1-16 2-24 1-10-4-14 0-34 0-33 1 40 5 0 1 19 2 6-1 69-3 3 0 26 3-6 5-4 1-34 0-1 0-44-1-19 1-5-2-20-1-4-1-12 3-8-1 20 4 9 1 11 1 13-3 65 1 18 0 6 1 0-2 5 3 2-1 13-2-12 5-1 0-3 4-24-3-9 1-65 1-29-2-2-1 3 5 27 2 2 1 58-3 28 7-70-2-11 1-1 4 48 0" marker-start="url(#k13)" marker-mid="url(#k13)" marker-end="url(#k13)"/><path d="M829 19l-26 1 33 9-3 10-7 0 9 3 11-1 11 1 23 0 2 0-39 3-30 3-43-3 15 5 47 4 49 2-59 0-11 2-18-1-18-2-13 9 21-1 1-1 13-1 33 0 53 3-80 1-13 9 33-1 41 6-31-3-53 0 30 7 34-2 9 0 12 2 14-1 32 2 7-1 11-2 5 5-64-1-12 0-58 3-16 1-8 0 10 3 129 0 12-1 10 0 5 3-7 2-14 2-6-2-14 0-50 2-96-2-4 3 70 4 65 1 17-2 2 0 1 1 3-3 41 7-161 2-20-1 28 6 1-3 2 3 19-1 4 0 92 0 7 6-4-2-85-2-13 3-32-2-7 3-2-1 19 6 71-3 22 2 31 0-113 3-1 1-7 2-32-2-11-2 20 8 11-1 148-1 8 5-6 2-2-3-113 0-48 2-15-1 34 8 41-1 10-3 29 4 27 0 30-1 14 0-29 6-15-2-45-1-45 8 59-4 8 2 13 2 24-4 20 6-17 1-66-1-61-1 23 8 101-1 8 1 10-3 6 7-145 4 6 2 126 1 10 4-18 0-11 0-3-3-17 0-46 2-30-1-14 4 9 0 8 4 72 0 38-4 9 1-119 10 62 0" marker-start="url(#k14)" marker-mid="url(#k14)" marker-end="url(#k14)"/><path d="M798 16l15 7 51 1 1 1-36 2-14 2-30 2 34 1 12 1 16-1 26 2-1 4-4 1 0-4-64 3-16 0-6-2-2 3 33 3 1 0 47 2 20-3 1 8-26-4-18 1-2 0-16 0-15 3-7-3-4-1-7 4-23 2 10 3 82 0 4-1 11-1 10 0 11 5-7 1-10-2-9 1-22 0-16 2-27-4-33 2 1 5 11-2 31 4 28 0 47-2 7-1 26 7-23-3-21 2-2 1-17 1-18-4-35 2-15 0 41 6 8 1 1-3 27 2 17-1 22 6-11 1-8-3-1 2-2 0-5-3-120 4 5 5 19 0 31 0 46-3 28 2-22 6-62 0-13 0 0 1 94 2 6 5-21-2-21 3-50 0-7-1-44 2 37 3 30-1 5 3 38-1 26 1-40 3-86 1 21 5 16 0 41 1 55-3 1-1 14 1 10 0 29-1 0 8-54-1-82-1-13 3-29-3-14 8 83-1 12-3 31 4 13-3 10 0 3 2 8-1-16 6-19 0-42-2-63 3-4-2-9 1-4 2 63 4 32 0 1-2 60-1 15 0 5 2-10 4-9 0-2 0-7 2-9-2-25 1-51 0-13-1-43 1-2-2 29 6 14 0 62 2 64 5-38-4-79 0-32 4 3 2 20 1 49-1 15 0-8 4-10 2-55-1-10 3-4-1 47 4 18-2 64 1 13 2-14 3-114 3 3 5 15 0 4-3 82 1-72 7 20 6" marker-start="url(#k15)" marker-mid="url(#k15)" marker-end="url(#k15)"/><path d="M831 22l-27 4-18 45 86 5 28 4-82 6 38 4 49 2 13 1-92 5-32 0-35 1 179 6-109 9 11-2 38 16-67 0 122 17-108 15 83 0 12 23-60 2-29 3 13 6 16-3 19-1" marker-start="url(#k16)" marker-mid="url(#k16)" marker-end="url(#k16)"/><path d="M805 38l-8 31-44 3 113 10 19 7-65 22 90 12 33-3-47 43-108 9 109 16-29 1-9 2 26-1-6 9-25 1" marker-start="url(#k17)" marker-mid="url(#k17)" marker-end="url(#k17)"/><path d="M803 23l37 0 29 2-4 8 4-1-37 5-18 5 6 2 2 0 44-2 3 1 5 1-41 12-18 1-30 3 15 0 6 3 24-2 7 1 15 2 18-2 29 5-71 1-33-2 23 11-2 0-35 0-5 0 5 7 116-4 5 5-140 6 6-1 46 4 113 0-34 4-116-2 36 4 60 3 22 0 47-1-131 5-63 1 48 4 74-2 55 3-5 3-34-1-27 1-40 1-4-2 37 10-1 4-19 2 65 7-35-2-23 2-23 2 9 2 90 0-99 4-31 1 35 3 39 4 28-2 36 1 3 15-12 0-105 6 128-4-109 6-10 3-7-4 23 7-1 8 75 0" marker-start="url(#k18)" marker-mid="url(#k18)" marker-end="url(#k18)"/><path d="M857 198l-9 5 20 0" marker-start="url(#k19)" marker-mid="url(#k19)" marker-end="url(#k19)"/><path d="M851 112l10 29 58 3-123 19" marker-start="url(#k20)" marker-mid="url(#k20)" marker-end="url(#k20)"/><path d="M836 23l-24 8 23 8-39-1 96 7-45 4 34 15 12 4 0-2-108-1-12 5 38 2 33 1-69 6 34 5 20-2 97 5-161 5 120 0-16 3-64 6 127 1 21-1-24 6-69 0-58 0-37 7 47-2 22-1 57 2 27-3-13 9-84 4 80-2 24 2 17 0-4 4-2-2-30 2-29-2-121 1 27 7 76-1-1 7-92 3 107-2 23 1 34 0-9 7-19 1-5 7-89-1-13 2-16 1 127 2 29 6-30 2-64 4 86 7-15 0-7-1-102 4 113 0-27 4-7-1-1 2 0 1 0-3-2 4-28 2 4 1 9-1 1 0 3 1" marker-start="url(#k21)" marker-mid="url(#k21)" marker-end="url(#k21)"/><path d="M824 17l-35 14 19 1 27 4-15 6 63 6-41 5-11 4-4 3 8 2 43 2-20 20-67 1 8 6 70 1-3 6 9 5 8 10 2-1-64 8 66 25-117 9 105-4-64 8 125 6-19 4-23 3 3 7-108-2" marker-start="url(#k22)" marker-mid="url(#k22)" marker-end="url(#k22)"/><path d="M884 192l-2 4-2 1-20 2-6 0-4 3 22-1" marker-start="url(#k23)" marker-mid="url(#k23)" marker-end="url(#k23)"/><path d="M917 84l24 8-88 102 9 2-1 1" marker-start="url(#k24)" marker-mid="url(#k24)" marker-end="url(#k24)"/><path d="M792 33l5 0 59 13 19 10-28 1-92 31 62 26 19-1 109-3-85 7 30 11-98 5 37 3 70 8-22 13-8 5 70 2-12 5-23-4-31 6-44 10 3 4" marker-start="url(#k25)" marker-mid="url(#k25)" marker-end="url(#k25)"/><path d="M854 192l24 5-24-1-4 0 13 6" marker-start="url(#k26)" marker-mid="url(#k26)" marker-end="url(#k26)"/><path d="M893 146l-5 46-24 4-9-1-2 4-14 0" marker-start="url(#k27)" marker-mid="url(#k27)" marker-end="url(#k27)"/><path d="M819 9l-19 5 7-1 19 6 0 0-47 5 11-1 0 1 3-2 20-1 39 2-9 2-15 4-25 0-11-4-12 1 0 3-6 5 46 0 13-1 10 0 24-1 2 0 14 6-2-2-52 1-13-2-19 4-25-2 1 3 21 3 9 0 6-3 9 0 1 4 4-4 2 1 43 2 5 1 6-3 1-1 8 2 1 1-54 3-2 0-3 3-1-1-24-1-17 2-6-1-3 1-17 0 0 4 20-3 9 1 25 2 13-3 20 2 4-2 32 0 2 2 5 5-2 2-3 0-10-1-1-1-28-2-12 4-6-2-5-2-40 0-16 0-4 2-7 7 14-1 4 0 2-2 2 2 1-2 5 3 4-4 1 4 6-2 6-1 0-1 11 0 8 0 0 1 49-1 10 0 7 6 0 3-16-2-8 2-5-1-14 1-4 0-12-4-2 4-20 0-12-3-36 2-3 3 12 0 14-1 8 0 17 0 5 2 6 2 12-3 5 0 9 1 2 1 8 1 6 0 11-3 13 0 8 3 5-2 28 6-15-3-3 0-15 4-9-4-20 3-38 1-2-3-2 3-3-3-47 1-3 4 4 3 12-3 26-1 8 1 12-1 6 0 7 4 26-3 16 3 11-3 8-1 30 4-6 3-13 1-10-1-19 0-14-2-30 1-5 2-12-3-5 1-18 1-7-2-24 4-11-2 0 0-10 4 17-1 25 0 26 0 13 0 35 3 36-1 15 1 6-2 17 1 3 7-18-2-4 2 0-2-20-2-2 3-7 1-21-3-16 0-5 2-22 0-23 0-13 0-1-2-13 1 2 6 0-1 7 1 5 0 18-3 5 4 7-3 9 2 69-1 44 7-18-2-13-2-18 3-2-2-32-1-27 3-8 1-4-1-8-2-20 2-1 1-16 0-1-2-14-2 2 7 0-2 14 2 4 2 9 0 37-2 28 0 29 1 8-1 17-1 1 2 5-2 18 1 13 4-13-1-26 2-2-1-1-1-9 4-3-1-9-2-18 0-8 3-78-4-15 2-2-1-2 0-1 5 9-1 22 2 14-1 10-1 4 4 21 0 11-1 27 0 0 0 10 1 15-3 14 3 0-1 7-2 15 2 4 5-14-2-23 1-17 0-6 0-29 2-21-1-5-3-21 1-11 3 0-1-2-2-14-1-3 0 10 7 25 0 3 2 2-3 9-1 8 2 22 0 79 1 1-1 4 6-50-1-6 1 0-3-22 4-2 0-6-4-3 3-5 0-1 0-3-2-10 3-17-4-5 4-32-4-7 0 28 7 21 2 0-3 41 0 15 1 26 1 13-2 1 0 31-1-2 8-24-1-19 2-17-2-28 1-7-3-7 4-1-4-59 2-16-2 0 0 9 5 10 3 43-1 61-1 17 2 10-1 1 2 18 0-17 1-11 0-12 3-9-3-29 1-2-1-20 2-5 1 0 0-6 0-4-2-19 0-14 1-2-1-1 6 13 2 28 0 2-1 54-3 24 2 21-1-4 5-28 3-20-3-36-1-25 1-4 1-18-1-2 0-11 2 16 2 25 0 9 1 35 0 37 0 8 3 4-4 6 7-17-2-20 4-47 0-2-1-4 0-5-3-6 3-3-3-11 1 3 4 21 2 65 2 23 2-4-1-88 1-14-1" marker-start="url(#k13)" marker-mid="url(#k13)" marker-end="url(#k13)"/><path d="M819 19l-1 3-20 3 71 10-35 3-35 1-5 2 86 17-5 1-12 5 4 2-1 3-59-3-18 0-31 4 1 0 12 2 42-2 3 1 11 3 23-2 27 0 43 5-3-1-3 2-95-2-14-1-4 4-7-4-2 0-13 9 66-2 81 5-51 1-21-2-39 0-1 2-64 3 3 2 46-1 62 1 36-2 24-1 2 1-19 4-30 2-31 1-39 0-8-2-26 2-16 2 15 3 42-3 108 3 16-3-13 9-2-2-13-1-42-1-28 2-64-2 50 7 88 1 17 2-47 3-25-3-13 2-49-1-3 2-10-3 64 7 38 0 32 1 15 0-82 5-46 4 29 1 0-1 40 2 42-1 21 2-50 3-35-1-29 2-37 0-16 5 54-2 18 0 5-1 84 1 14 2-14 4-7 0-2-2-7 3-28-3-2 3-7-4-35 3-7-3-57 1 26 7 37-2 20 0 49 2 27 5-115 5 5 1 111 4-109-2-41 0 17 6 3-1 24 1 75-2 17 9 0-3-7 0-4 1-108 3 22 4 41 1-25 3" marker-start="url(#k14)" marker-mid="url(#k14)" marker-end="url(#k14)"/><path d="M830 20l12 10 79 46 6 4-97 5 93 11-11-1-60 8-21 2 25 5-8 8-77 9 90 6-94 6 45 11-13 9 42 14 48 13-24 0-3 8 6-2 7 2-20 3-2 1" marker-start="url(#k16)" marker-mid="url(#k16)" marker-end="url(#k16)"/><path d="M821 14l18 5-17-4-42 8 6-2 5 0 12 3 44 2-16 3-21-4-6 1-2 3-12-2-7 2 58 4 12 1 25 2-15 0-33 0-31 1-1-2-13 1-16 1 42 5 30 0 7 2 38-1 3 6-32 0-43-4-16 0-8 8 12 0 31-3 4 2 48-1 10 3 6-4-8 6-6 1-3 0-15-1-5 1-6 2-34-3-15 1-20-2-20 7 28-1 16-1 81 0 4 2 11 7-27-1-81-3-7 4-30-2 25 6 19-1 12-1 68 0 24 3-88 3-36-1-32 4 2 4 30-2 9-2 22 2 12-2 34 3 37 0 7-3 25 0-6 9-14-1-24 1-3 0-48 0-57-3 35 4 6 3 21-3 33 0 4 3 57-2 7 6-58 1-26 1-43-4-16 2-45 7 21-4 24 0 32 3 46-3 49 5-22 1-28 3-89-3-22 6 39 1 22-2 3 0 1-1 20 4 2-3 11 3 7-1 3-1 41 0 11 4-4 1-56-1-21 1-20 0-2-1-3 1-14-1-47 0-9 3 15 3 3 2 17-2 7 0 14-2 6 3 16 0 1 0 31 1 39 0 23-4 7 3 6-1 7 5-2-2-12 4-20-4-20 2-2 0-30-1-11 2-13-2-43 3-39 1 18 3 15-1 25 1 9-3 10 1 53 1 33-1 36 7-3-2-44 3-42 0-8-2-4 1-29 0-37 0-14 0-7 3 20-1 60 2 22-1 30 2 1-3 32 2 10 2 10 0-19 3-11-1 0 2-40 0-100 5 47 1 2-3 1 1 7 1 21-1 13-2 19 2 1 0 56-1-9 5-18 2-108 0-1-2-29 6 3 1 44 0 65-3 5 4 6-2 25 0 11 2 4-1-1 3-27-1 0 2-2-1-117 0-3 2 21 3 5-1 7 1 9 3 68-3 6 0 5 0 16 8-88-1-29 3 5 3 79-1 8-3 23 1-18 7-64-3-4 4-16 0-14-3 21 4 6 10" marker-start="url(#k11)" marker-mid="url(#k11)" marker-end="url(#k11)"/><path d="M851 17l-13-2-68 9 41-4 47 1-12 8-18 0-7-3-12 2-33 5 6-3 33 1 58 4-9 2-4-2-32 3-1-2-34 3-24 0 7 4 42-3 18 1 29 0 24 8-1-4-3 3-12-3-78 0-22 3-11-3 18 7 16 2 3-4 27 0 8 2 35 2 5 0 19-4 2 4-34 3-44-2-13 4-10 0 4 2 2 1 1 1 7-1 2 0 28 1 22 0 39-2-25 4-19 4-23 0-1-2-15-1-25-1-20 2-13 3 6 3 35 0 46 1 41-4 9 6-73 0-41 2-3 2 112 1 18 0 9 3 0-1 4 6-6-3-19-1-1 0-10 0-38 1-72 0-16 0-7-1 15 6 13 0 15 2 7-3 20 2 16-1 15 1 19 0 12 0 24 0 16-2-46 9-17-1-45-1-12 0-2-2-4 3-20 6 19-1 9 1 19-2 17-2 35 0 56 1 10 0-27 6-16 1-28 0-92-3-8 3 30 5 36 0 30 0 19-2 66 1-7 4-63 1-55 1-31 0-36-2-4 2 131 2 15 4 13-3 4-1 23 8-75-3-7 1-19 1-29 0-9 3 10 4 34-3 23 1 4-1 22-1 18 4 6-2 1 2 22 4-37-3-14 4-27 0-37-4-7 3-53 2 27 0 1 2 1 2 7-4 7 3 6 0 11-3 10 0 36 9-24 0-56 3 0 1 36-3 55 2 0 1 17-3 11 4 2-3 12 2-44 2-44 1-68 1-1-2 20 5 46 4 40-1-42 6-8-2-29 6 5-3 20 1 62 2 45 1 6 1-68 3-64 2 27 2 5-2 71 6-66 3" marker-start="url(#k15)" marker-mid="url(#k15)" marker-end="url(#k15)"/><path d="M832 11l14 5-7 1-35-1-19 3 29 2 57 8-15-1-24 1-31-1-3 1-7-4-3 3-4-1-1-1-3 7 25-1 4 0 0 1 15 0 44-2 5 0-81 8-9-2-16 5 11 2 30-3 15 2 1-1 22-2 18 0 21 6-14 3-4-2-3 0-65 2-41 1 15 1 10 3 10-1 0-1 15 1 10-1 26 0 31 0 1 0 14 2-32 4-2-1-7-2-13 0-23 3 0-2-29 2-10 0-4-1-2 2 18 1 0 0 6 1 13 0 27 3 12-2 18-2 25 4 12-3 9 7-3-1-9-2-29 1-15 2-8-3-39 4-3-1-1-3-3 2-15-2-27 2 7 7 15-3 11 2 0-2 13 3 25-3 13 3 21-3 19 0 1 3 14 0 18 0 1-4-30 6-26 3-4-1-26 1-18-4-9 2-2 1-17-3-30 1 0 2 3 4 7-1 2 1 28-2 7 1 61 2 18-2 10 1 27-2 15 1 2 8-1-4-5 2-8 0-41 1-3 0-1-1-19 2-12 0-1-3-5 2 0 1-33-1-3-3-8 2-1-1-1-1-7 3-17 0-3 0-8-1 7 3 21 4 50-4 15 2 58 2 19 0 3 0 5 2-15 0-5-1-4 2-11 1-1-2-10 0-24-1-45 1-14 1-6 2-11-3-20 2-18-1 9 6 54-1 16 2 20-1 5-1 21-1 2 3 21 0 16-4 10 2 21 5-3 0-7 1-84-2-8 0-5 3-5-2-31 0-13 1-22 0-5-1-7 7 16 0 13-4 1 3 28 0 9-3 2 1 25-1 7 1 18 3 6-1 1-3 37 3 15-3 5 2 8 0-7 6-10 0-1-3-2 0-22 3-1 0-59-1-2-1-4-1-75 2-10 2 18 4 26-1 8-2 20 4 5-1 17-2 24-1 11 3 36 0 20-3 11 1-3 4-18 0-23 3-15-3-17 0-14 3-44 0 0-1-19 2-10-1-8-1 12 5 3 1 27-1 11-1 14 3 4-2 6 2 14-3 2 3 9-4 2 3 2-3 2 2 27 0 9 2 1-2 21-1 0 8-34-3-17 0-5 1-21-2-3 1-13 3-13-1-1-1-37 0-16-1-11-1-4 3 6 2 0 4 6-2 6 0 2-2 1 1 3 0 19 1 10 0 2 1 32-3 5 0 27 1 43 2 8 6-30-2-36 2-11-3-35 0-6 0-4 1-2 0-2 2-14 0-15-2-8 0-3 4 42 3 14 0 2-3 14-1 7 4 31 0 11-1 10 0 1 0 26 1 10 1-9 0-14 2-22-1-7 2-10 1-11-2-7-2-37 3-13 0-9-3-5 0-12 1 13 4 10 1 22 2 21-3 35 1 13 0 32 0 6 0 6 8-12-3-6-1-13 1-7 3-28-2-38 2-43-4 2 5 0 3 9-2 15-1 5 1 5 0 10 1 18 1 63 5-18 1-26-2-48 2-8-3 66 7 7 1 22-1 9 0 3 3-39 0-61-1-14 2 18 3" marker-start="url(#k12)" marker-mid="url(#k12)" marker-end="url(#k12)"/><path d="M848 17l-52 4 21 3 18-1 15-1 0 0-7 3-37 2-13 0-22 2-4 2 24 0 30 3 4 0 12-1 3-3 32 3 4 6-11 0-14-2-11 0-2 1-16 1-1-3-3 0-15 3-18 0-3-2-9-1-10 3 12 3 9 1 17 1 17-2 8-2 14 3 6 0 1-2 8 3 6-4 24 3 11 1-34 5-25 0-29-3-24 0-10 3-2 4 19 1 10-1 2-1 3 2 15-4 12 1 6 1 25 2 17-2 9 2 5-4 1 1-6 4-18 4 0-1-22 0-17-3-4 3-13-3-1 4-19-3-1 1-3 0-7 0-2 1-13-3-5 2-8 1 6 2 14 2 6 0 2-1 14 1 1-2 7 4 6-3 36-1 2 4 18-2 17-2 2 4 3 4-57-3-12 2-3 1-19 0-7 1-1-2-19-2-10 0-2 3-6 2 8 4 9-4 12 4 16-1 18 0 1 1 5-4 12 2 25-1 8 3 10-1 3-2 25 0 3 3 10 1-15 0-18 0-14 0-24 1-2 3-13-3-1 2-8-1-1 0-2 0-36-2-3 4-1-4-10 1-15 4 0 3 2 1 3-1 4 0 46-1 8 2 2 0 9-2 14 0 21-1 30 0 10 2 1 0 8-1 21 3-17 4-1-2-22 0-1 2-11-3-31 1-15 1-9-2-13 1-15-1-6-1-40 5 14 2 0-1 28 0 17 1 19-1 8 1 37-2 4 1 9 0 6-1 1 4 12-3 8 2 1-3 22 0-13 8-15 0-5 1-4-1-10 1-33-2-3 1 0-2-2 2-2-2-31 2-4 0-24-2-2 1-1 2-2-3-20 3-23-1 10 4 6-1 4 3 15-4 60 2 3-1 8-1 4 1 14-1 4 1 34 0 7 2 2 0 13-1 15-1-20 4-9 2-14 2-28-4-9 3-21 1-38-3-1 0-2 2 0-1-29 0-11-1-11 3-6 5 46-2 4-2 28 3 17-2 5 0 4 0 17 1 3-1 2 1 1 0 34 1 3 1 16-4 7 0 0 3 2 1 11 4-6 0-11 1-7 0-29-2-1 2-36-1-52-3-3 1 0 1-17 0-1-2-27 4 13 4 27-1 24-2 2 3 2-3 4 0 4 3 20-3 18 3 39 1 7-1 7 0 27 6-1 0-4-3-11 3-23-4-8 2-70-1-7 3-30-3-28 1-1 4 9 3 1-2 3 0 1-2 16 4 5-2 13-1 32 0 17-1 9 2 33-2 30 4 11 4-32-1-11 1-2-1-18-2-13 1-9 1-2 0-3 0-31 1-27-1-3 2 4 2 35-1 1 4 3-1 19-1 7 1 16 1 7 0 18 0 16-4-9 8-5-1-2-2-23 2-11-1-3 2-8 0-2-1-5 0-13-1-3 2-3-2-1 3-6-1-6-3-14 1-11 0 0 2-11 0-4 1-5-2-11 4 14 3 16-1 6-2 6-1 8 4 12-1 9-1 4 2 8-2 37 1 16 0 9-3 12 1 24-1-3 5-21 2-57-2-30 1 0 0-16 2 0-1-31 0-5-1-2 2-8-3-2 2 29 5 4 2 1-1 58-2 27-1 39 3 6 5-63-3-2 3-30-3-22 1 0 0-2 1 0-2-4 3-28-3 9 6 8-1 19 2 8-2 8 2 6 0 57-1 14-1 11 4-15 4-13 1-93 1 14 0 2 4 10-3 12-1 27 0 4 2 23-1 10 1 14 1 3 0-87 5-9 0-1-3-2 2-3 1" marker-start="url(#k8)" marker-mid="url(#k8)" marker-end="url(#k8)"/><path d="M870 28l-33 0-41 6 37-3 22 1-14 7 46 6-17 4-79 1 27 3-53 4 120 3 17 4-1 4-142 4 38 2 9 0 40 0 13 3 42 4 32 1-97 5-21 1-10-3-47 17 107 1 53 4-46 2-123-3 149 7 17 0 8-3-67 7 67 3 2 9-173-4 107 14-52 0-38 5 48-4 73 4 61-1-14 4-167 2 174 5-30 2-104 5 75 0-54 9-1 6-24 5 87-1 22 4-28 3-3 1-22-2-22 3 36 5" marker-start="url(#k21)" marker-mid="url(#k21)" marker-end="url(#k21)"/><path d="M819 14l13 5-2 0-18-3-6 2-5-3-3 5 12 2 6-2 7 2 14 1 11 1 23 1 0 4-22 0-3-2-4 1-48-2-20 6 15 1 5-2 72 4-15 3-19-1 0 2-3-3-6-1-49 9 23-2 11 0 12-1 9-1 4 4 51 0-14 1-60 4-16-4-28 2 13 6 25-2 25 2 21 0 10-3 28 2 3-1 5 3 2 1-10 4-7-3-29 3-20-4-3 0-25 0-42 6 2 1 11 0 40 2 22-2 4 0 7 0 20 1 5-1 9-1 6 1 13 7-62 0-40-2-3-2-14 0-5 0-2 2-7-1-8 5 46 0 13 0 10-1 22 4 39-3 13 1 12 1 16 6-20 0-16-4-4 3-6-1-9-2-3 4-26-1-64-3-12 8 53-3 42 4 2-1 43 4-4-2-20 2-4 2-8-2-8-1-25 1-28 2-13-4-28 3-8-3-11 1-3 4 10 0 37 3 6 0 21-2 7 0 26 1 24 0 36-1-20 7-47 0-3 0-13-2-4 0-4-1-11 3-19-2-6 1-26 1 23 3 57 2 18-1 47-1 25 1 7-1-7 7-68 1-2-2-40 2-7 0-1-2-8-2-18 4-4 0-1-2-13 2-11 4 14 0 29-1 8 0 24 0 43-2 1 4 8-2 14 2 32-1 1 0 7 4-9 0-20-2-2 4-54-1-13 0-30-3-21 3-18-2-11-1-10 5 60 3 13-2 2 3 2-3 29 2 9-1 54-1 2 7-46 0-9 0-30-3-46 1-17 7 20-3 60 4 50-1 36-3-1 7-11 1-38 0-19-1-58-2-34 2 4 3 24 4 59 0 27-4 12 1 5 2 5-2 26 7-27 0-46 1-3-2-49 1-10 1-25-1-3 1-5-4-1 9 8 0 14-3 53 1 4 0 22 2 11-3 0 1 39 1 14-2 6 2-23 6-44-4-15 3-2-1-22 0-28-1-6 0-10 1 27 3 26 0 48 4 15-1-102 4-12-2-1 3-8 3 40 1 78 1 24 2-36 3-28-1-63 1-6-1 9 5 2 0 8-1 100 2-22 2-57 0 0 4-26-2 59 7-22 8" marker-start="url(#k9)" marker-mid="url(#k9)" marker-end="url(#k9)"/><path d="M828 21l-34 33 33 9 31 3-52 8 47 15 72 7-26 5 33 3-40 20 57 9-15 18-27 10-128 7 108 17-12 3-28 2 15 5" marker-start="url(#k17)" marker-mid="url(#k17)" marker-end="url(#k17)"/><path d="M861 202l1-1 1 4-5 1" marker-start="url(#k26)" marker-mid="url(#k26)" marker-end="url(#k26)"/><path d="M817 23l7 9 47 2-61 1-29 4 61 3 46 4-50 0-44 0 26 9-53 3 119 6-61 7 72 7-53-3-21 12 27 9-57 0 81 9-6 3 19 6 53 0-160 1 110 8 51-1-73 3-87 5 76 7-4 1-79 3 17 3 20 7-40 6 130 3 18 17-101 2 79 1-51 7-4 13" marker-start="url(#k22)" marker-mid="url(#k22)" marker-end="url(#k22)"/><path d="M848 23l-8 12-29 3-9 69 99 15-62 10-73 18 123 7-67 3 83 5-86 7" marker-start="url(#k25)" marker-mid="url(#k25)" marker-end="url(#k25)"/><path d="M757 98l105 99-10 2-6 0-5-1" marker-start="url(#k24)" marker-mid="url(#k24)" marker-end="url(#k24)"/><path d="M799 13l31 5-17 4 49 7-5-4-57 6 49 2 29 5-64-2-9 1-35 1 66 6 6 0 27-2-8 7-14-1-36-2-42 5 50 4-22 0-25 3-13 3 78-1 27 4-70 2-26 1 10 4 7-1 61 0 39 3 1-2 2 2 34-1-63 4-92 1 98 7 9 0 3-4 25 3-9 2-93 4-47 4 2-2 44-1 4 2 96 6-22-2-72 2 26 3 82-1-9 7-21-1-11-1-47 0-29 0-42 8 5-2 1 3 24-3 37-1 93 8-108 0-34-1-22 1 15 2 7 4 43-1 9-1 23-1 78-1 2 8-38-3-13 9 14 1-44 8 42 1 11-3-11 5-108-1 77 5 3 5-12 0-67 0 62 7 100 5-69-2-79 1 82 13-74-2 96 3 12 1 6 0 7 2-82 5" marker-start="url(#k18)" marker-mid="url(#k18)" marker-end="url(#k18)"/><path d="M924 87l-81 9 66 27 15 4-59 19" marker-start="url(#k20)" marker-mid="url(#k20)" marker-end="url(#k20)"/><path d="M909 121l-32 35 3 39-10 0" marker-start="url(#k27)" marker-mid="url(#k27)" marker-end="url(#k27)"/><path d="M889 59l-2 77" marker-start="url(#k10)" marker-mid="url(#k10)" marker-end="url(#k10)"/></g><g transform="scale(.5)" fill="none"><path d="M1173 14l-7 8 16 1 16 3-19-1-51 3 9 5 1-1 57-1 23 6-15 2-10-1-14 1-15-1 56 6 18 1-36 2-66-1-3 6 24 0 85 2-43 1-20 4-14-1-4-1-5-2-31 2 33 7 54-4 4 2 8 1 4-2 1 0 6-1 6 3 24 5-25 0-1-2-18 2-2 0-17 1-43-4-27 6 11 1 47 1 3-3 3 4 20-4 12 1 20 3 17 1-27 4-4-4-5 0-6 0-1 3-48-1-25 1-29-3 37 9 12 0 42 0 7-3 17-1 25 1 7 1 13 4-1 1-14 2-14-3-15 3-13-1-1-2-6-1-2 3-4 1-1-2-57-2-22 4-29-1 9 5 18-3 4 2 38 1 13 0 28 1 4-2 7 0 4 0 1 2 4-2 43-2-39 7-1-2-7 1-14 1-108 2 23 3 65 0 6 1 21 0 1 0 7 1 33 5-20-2-1 1-10 1-40-2-2 0-11 4 7 1 10 2 28-3 1 2 12-2 18-1 7 1-17 4-44 4-47-3-1 3-20 0-20-3-1 3 65 4 16-2 27 1 5 2 5 0 18-4 6 7-18-2-10 3-8 0-5-3-14 4 0-2-2 2-33 0-3-4-16 3-22 0-8 0-11-2 29 6 31 2 40-1 14 1 15-2 18 2 43-4-33 9-16-1-22 1-11-4-2 1-5 2-2 0-41 1-53-1 0-2 12 4 13 2 17 1 50 1 0-2 2 0 2 1 7 1 22-4 7 6-17 3-27 0-12-2 0 1-9-3-12 1-8 6 12-2 32 4 2-4 17 0 1 1 5 0 2 1 67-2 3 2-29 3-1 2-10-1-12 0-18 0-17 2-14-1-67 2-3-1 58 6 8-4 62 0 8 0 2 2-20 7-27 0-18-1-24-1-20-1-22 7 1-2 10 3 12-3 1 3 6-3 8 2 8-1 88 6-2 1-3 0-2 0-7-4 0 3-81 1-22-3-2-1 3 5 8 3 18-2 88 1-36 5-17-2-19 0-8 1-18 2 17 2 52 2-9 7-26 0-9 2 6 1" marker-start="url(#k13)" marker-mid="url(#k13)" marker-end="url(#k13)"/><path d="M1194 17l-16-1-8 1-14 0-19 5 22 1 18-1 16 2-11 5-21 0-12-2-6 1-6 0 1 2 17 4 5-2 10 1 50 6-7 0-4-2-50 2-8-1 30 2 22 2 0-1 31 3-9 2-23-1-12 3-6 1-18-4-36 1-12 0-8 5 68 3-22 1-16 2-16 2-3-2-19 0 10 3 34 0 11 3 22 0 68-1-4 4-30 1-6 2-4-4-45 1-1 3-53 4 12-2 3-1 14 0 20 4 16-1 75 3-52 0-1-1-43 2-40 1-3-3 20 6 4 0 45 1 36 1-56 3-8 0-11 3-39-4 30 8 1 0 3-1 17 0 7-2 15 4 120 2-72 1-96-2-15 9 76-1 40-2-41 5-5 0-36 1-3 2-20 0-10 2 8 0 8 2 16 0 1 0 3 1 2 0 18 5-7-4-46 1-8 8 46-2 33-2 11 0-14 5-71 9 28-2 23-2 112 3 26 0-136 3-40 0 0 6 29 2 112-2-83 5-8-2-31 4-19-1 23 4 5 0 6-2 43 1 84-1-97 5 102 12-152 2 16 13 51 10 5 7-6 0-9 5" marker-start="url(#k25)" marker-mid="url(#k25)" marker-end="url(#k25)"/><path d="M1163 13l-21 3 42 5-43 6-20 1 19 4 3 1 8-2 23 0 3 2 34 0 24 5-33 1-24-2-25-1-40 5 2 0 13 0 33 1 8 0 10 1 37 0 12-1-4 6-42-2-1 0-67 7 69-3 23 3 10-2 1 1 10 0 5-2 11 7-8 0-1-1-3 2-4-2-15 1-15 0-2-2-8 2-6-1-24 2-53-3 4 9 75-2 30 2 11 0 0 0 16-3 12 1-3 4-10 3 0-1-33-2-9 3-24-1-5-3-27 1-16 8 43-1 12-3 3 4 45-2 43 7-25-1-15-2-1 2-30-2-39 1-40 1-8 1-15 3 3 2 7 0 47 0 22 0 1-3 22 3 9 0 3-2 25-1 20 3 2 3-11-2-32 3-19-1-44-2-3 1-56-1 0 9 17-4 2 0 16 2 21-1 0 1 3 2 13-1 8-1 18 2 4-2 33 0 15-2 0 3 11-2 13 1 24 6-36 0-2 1-40-4-1 1-5-1-1 2-2-1-23 0-24 1-3 0-13 1 9 3 93-1 3 1 2 2 48 4-13-2-8 1-21-1-2 3-17-3-4 0-18 2-5 2-3-2-6 2-7-3-81 3-10-1 51 4 13-1 9 3 27-4 1 1 40-1 18 0 30 9-47-4-16 2-21-2-1 1-1 0-32 3-3-2-2 2-1 0-26-4-1 4-6-3-3 3-5-3-5 0-16 7 52-1 4 0 6 1 0-3 13 3 2-1 67 1 2-2 5 1 37 1-58 5-10-3-2 0 0 3-16-2-9-1-5 0-12 0-24 3-2-2-1 1 0 2-29-3-12 1-9 1 28 2 17 3 2-2 12 3 33 0 9-2 27 0 40-1-8 5-32 0-18 2-3-1-36-1-18-1-1 0-18 4-6-4-2 2 7 5 4 2 17-4 0 3 4-3 2 4 7-2 17 0 4 2 5-2 28-2 14 6-25 3-6-3-12 3-4 0-14-2-6 0-3 1-9 0-5 1-1-1-12 0-19-1-2-2-8 0 2 7 31 0 2 1 5-1 97-1 12-1 3 4 26-3-53 6-15 1-34 0-9-2-6 3-20-4-13 2-3-2-10 9 41-3 1 2 18-2 94 3-32 1-18 1-63-1-15 3-5-2-2 1-1 1-3 1-7-1 7 6 3-1 13-2 22 3 1-4 105 4-13 3-1 2-29-3-2 1-68-1-6 0-4 3-3 0-4-4-13 5 9 0 8 4 11 0 108-3-15 6-9-1-21 0-8 2 0-3-2 4-31-4-10 4-7-1-16 3 36 0 2 3 1-2 7-2 4 1 17 5-20 0-12 0 22 5" marker-start="url(#k9)" marker-mid="url(#k9)" marker-end="url(#k9)"/><path d="M1210 79l-1 5 23-1 4 0 28 1 0 0-1 4-64 3 69 2 12-3-67 7-22 6 48 1 10-2 2 0 4 2 12-1-1 5-2-2-26 1-14-1 12 4 2 0 17 0 9 0 6 2 2 1 24 2-28 2-25-1-118 2 108 4 4 1 19 0 33-3-1 7-32 0-21-1-20 1-17 2 67 2-6 8-8-4-2 0-16 8 45 0 6 0 1-2-52 11 17 1 1 2-10 3-5 1 34 5 21-3-49 8-79-1 7 5 95-2 26-1" marker-start="url(#k11)" marker-mid="url(#k11)" marker-end="url(#k11)"/><path d="M1172 17l-15 0 5 4 11 1 14 1-4 6-13-4-7 2-13-1-9 1-12-2 9 8 12 1 1-1 3-1 3 0 27 0 31 0 4 2 10-1-14 2-13 4-5-2-4-1-7 0-28 0-7-1-9 9 10-2 8 0 8 2 5-1 56 5-21-1-3 2-14-1-8-1-13 1-4-2-5 1-10 2-8 0-4-3-1 0-8 0-10 3 0-4-9 3-3 1 17 4 73-3 12 1 21 2 8 4-12 0-11 0-1-2-2 1-20 1-3 0-16 0-6-1-16 2-14-1-7 1-4-3-13 2 3 5 14-2 14 0 15 3 2 1 14-3 2 1 0 0 7 2 9-4 1 4 5-2 10 2 11-4 14 3-8 5-7-1-1-2-9 3-1 1-27-4 0 1-33-1-1 0-5 4-7-3-5-1-29 1-4 5 13 1 25 1 6-3 5 3 7-3 2 1 2 2 12 1 14-3 56 2 2 1 7 0 17-1-38 5-10-2-21 2-24-3-13 3-36-3-2 3-25-1 5 5 4 0 5-1 49 0 2 0 8 1 5 0 29 0 42-2 4 4 5 0 17 3-12 0-38 1-58-2-16 3-12-3-15 3-23 5 10-1 0-2 36 0 7 2 7 0 30-3 14 1 0-1 5 4 7-1 10-1 0 2 43 4-43-3-9 0-3 3-15 0-4-2-10 3-4-1-10 1-25 0-3-4-4 4-10-3-12 3-14-3-9 3 34 2 8 2 28-1 1-2 1 4 0-2 6-1 3 1 14-2 36 4 20-2 9-1 6 1 34 1-67 4-23-1-34-1-26 4-2-4-12 2-11 2-10-4-11 6 14 0 9-1 34 2 5 0 5 2 2-1 32-1 19-1 0-1 63 7-30 1-6-2-77 2-1-1 0 0-4-2-1 0-23 4-3-3-12 2-12-2-10 5 45 1 32-2 9 4 12 0 38-3 51 4-65 3-25-2-21-1-7 3-11-3-26 3-20 5 17-2 22 1 16-2 17 3 47-1 66-2-10 8-32-1-36-2-3 2-1 0-30 1-15-3-33 2-7 1-19 5 0-3 4 4 9-3 3-1 13 2 5-1 10 3 6 0 6-4 0 2 3-1 34 0 0 3 13 0 7-1 68 1-65 1-16 1-7 0-29 1-4 1-50-1-11-2 5 9 17 0 18 0 23-1 2 1 24-3 13 0 11 6-9 2-15-3-7 2-2-3-32 1-2 3 0-1-14 1-19-3-3 2 22 5 0-1 4 0 12 2 5-2 8-2 44 2 14-1-12 4-47 3-15 0-6-2-2 2-18-1 5 5 5-2 6 3 9 1 3 0 13-4 4 2 13 0 41 1 45 1-101 2-8 1-6-1-4 0-4 2-1 4 10 1 3-1 2-2 69 4 43-4-3 9-67-4-8 0-16 5 23 1 6 0 15-1 5 0-7 7-21 1-9 5 6-3 9 2" marker-start="url(#k15)" marker-mid="url(#k15)" marker-end="url(#k15)"/><path d="M1159 14l2 0 13 5-2-3-9-1-1 3-24 3 11-1 38 2 1-2 29 8-6-3-22 1-32 3-4-2-3-1-1 3-16-1-15 2 20 2 32 2 11-2 8-2 12 0-12 5 0 0-8 1 0 0-22 2-10-2-6 2-8-2-21 0 35 5 1 3 1-3 15 3 24-2 7 0 15 0 8 1 1-1 5 0 1-1 10-1-16 5-9 2-28-1-7-1-18 3-2 0-1 0-12-1-11 2-7-4-5 2-6-1 5 8 11-4 13 0 9 3 35 0 7 1 7 0 19 2 0 0-1 2-36-3-5 1-1 0-5 3-6-3-21-1-2 3-24-3-11 4 5 1 1 2 1-2 8 1 2-1 12 4 5-3 26 3 4-4 7 4 1-2 3 2 9-3 11 2 23 1-6 3-39-2-24 0-31 3-9-1-13-2-6 7 12 1 21 1 9 0 12 0 1 0 3-2 11-1 6 2 15-3 33 8-37 1-21-3-1 3-3-4-21 1-2 1-5-1-10 1-19 2 10 4 1-2 3-1 6 2 5 0 14 1 3-2 11 2 25 1 15-3 73-1 6 9-67-1-11-1-27 2-28-1-5-3-30 9 23 0 4-4 25 0 5 0 14 1 83 5-68 2-8-3-13 3-13 0-36-2-6 3-7-3-2 3-6-2-1-1 29 4 0 4 2-4 27 1 0 3 5 0 4 0 113-4 7 2-60 4-32-1-15 4-8-3-16 1-10 0-12 2-4 3 6 2 25-3 2 0 5 2 11-2 0 3-12 5-7-2-5 0-13-1-14 2-15 1 11 5 7-4 12 4 5 0 58 0 18-2-15 4-63 3-30 0-3-2-10-2 17 8 17 0 23 0 3-2 5 2 19 1 1-1 10 0 5 6-62-1 0-1-5 2-3-1-24 6 2-2 5 1 31-1 2 1 5 0 13-3 8 2-13 3-11 4-9-1-18 1 3 2 30 3 7-4 6 2 18 1 75 6-104-3-4 1-36 3 41 3 19-3 8 3 92 0-115 5-1-3-7 0-8 2-6 6 5-2 114 2-86 6-41-3 31 7 0 6 11 3 77-2-69 9" marker-start="url(#k22)" marker-mid="url(#k22)" marker-end="url(#k22)"/><path d="M1199 39l-55 14 8 10 71-3 32 5-11 3-38 1 5 4 37 4-9 2-81 2 34 2 51-3 6 4 23-3 3 0 5 1-18 3-18 3-19 4 26 0 10 0 22-1-21 4-14 3-6-3-119 9 132-4 44 1-3 7-41-1-12 2-2-4-46 0-37 2-16 5 65 1 22 0 2-1 20 7-6-4-39 2-60 1 95 6 6-3 48 7-108-1-9 4 17 3 15 0 35-3 11 0 18 3-26 5-63 5 22-3 14 3 53 0 0 5-21-3-4 3-1-3-4 0-8-1-1 2-1 2-109 3 17 0 79-2 5 0 3 4 8-2 24 5-6-2-4 1-6 1 14 6 14 6-10-1-11 1-14-3-14 2-37 2 32 1 5 1 29 2 18-4 12 0-8 9-1 0-31-3 0 2-55-1 56 4 6-1 17 3 3-1 1-2-7 7-86-2" marker-start="url(#k12)" marker-mid="url(#k12)" marker-end="url(#k12)"/><path d="M1172 39l-24-1-30 0 96 2 8 2-112 3 74 9 46 0-56 5-4 0 59 5 4-2 12 0 20 6-14 1-5-3-10 1-3 2-25 0-15 1 28 4 9-3 42 5 0-1-22 3-130 1 84 5 7-1 15-1 0 0 13 1 18 1-29 3-2 0-10 2-44 0-7 0-25 3 79 0 0 0 5 2 63-2-6 4-13 3-17 0-3-3-9 1 0 1-56 1-61-1-14 1 124 5 9-1 7-2 0 3 4-1 44 3-7-1-1 4-7-1-24-1-9 1-5 1-33-4-53 1-36 5 9 0 48 2 46 0 11 1 2-1 12-1 15 7-20-4-6 2-3 0 0 0-2-2-1 1 0-1-5 2-8 1-7 1 0-3-110 3 70 2 38 3 24-4 13 1 10 1 27 5-2-2-4 0-51 4-6 0-30 4 2 0 27 0 10 1 37 3-15 0-26 2-3 0-3-3-22 3-10-1-25 0-31 5 60-3 27 0 9 2 17 2 6-3 14 7-17-1-2 1-17 0-10-2-3 0-2 2-9 6 10-1 16-1 23-2-14 7-2 1-12 1-22-4 0 0-36 4 46 3 7 2 15 0 1-3 5 2 13-2 2-1 6 3 23 0-6 5-20 0-9 0 0-3-1 3-8 1-5-1-20 0-32 1-9 2 64 0 3 1 15 2 11-1-21 3-36 3-35-1-38-2 41 6 56-2 16 2 13 2 11-4-33 8-29 1-2-3-31 1-28 0 37 7 16-3 17 0 1-1 6 0-23 7" marker-start="url(#k8)" marker-mid="url(#k8)" marker-end="url(#k8)"/><path d="M1196 18l-7-1-14 2-46 3 17 1 3 0 32-3 5 3 7 1 9 3-8 0-2-2-18 2-22 2-4-1-4 0-13 3 4 0 1 3 0-3 10-1 19 2 2-1 9 0 11-1 3 3 2-2 1 1 25 6-3-3-1 4-17-2-2 0-42-2-3 3 0 0-8 0 0 0-8 0-6-2-3 3-6 0-7 3 32 2 15 0 0-2 5-2 3 2 10-1 4 1 13 1 2 0 11 1 5-3 4 3 20 1-8 4-6-1-29 1-4-4-12 4-20-2-2-1-11 0-4-1-1 1-2 0-18 1-3-2 44 9 9-1 18-1 5-2 9 3 11 0 19-2 5 1-2 3-24 3-24 0-12 1-26-3-1-1-20 0-16 0 18 8 14-1 8 1 6 1 19-4 0 1 3 2 14-2 5 3 12-3 4 1 31 5-3-2-7 4-10-4-30 2-6-1-5-1-18 0-3 4-7-2-3-1-4 1-12 2-9-3-9 2-16 1-3-3 15 4 21 4 2-4 2 2 12 0 32 1 8-1 32 1 47 5-7-1-57-1-19 2-9-2-5 1-10 0-1 0-2 1-19 1-1-4-9 0-6 1-5 3-8 0-10 0-5-4-1 6 30 3 26-2 22-1 15 0 14 0 43 2 17 0-22 3-11 3-27-4 0 1-28 0-14 0-10 1-2-1-10 3-8-4-26 2-2-1-10 8 11-3 6 1 7 2 2 0 39 0 2-4 8 2 5-2 22 1 14 1 41 0-18 6-63-3-29 2-1 1-4-1-6 0-11 2-23 0-1 5 8-3 7 3 4-4 1 0 12 2 32-1 0-1 7 3 3-1 1 2 9-1 29 6-31-2-18 1-20 1-18-3-3 2-3 0-5-2-16 2 9 5 8 1 5-1 14-2 11 2 3-2 38 2 32-3 9 4 20-4-51 6-13-1-7 1-19 0-12 0-12-1-2 4-9-3-4 7 3-2 78 1 1-1 76 2 6-2-27 8-51-1-7 1-13-3-17 2-2-3-4 0-1 3-3 0-9-2-13-1-3 2-10 0-10 2-8 1 15 2 2 0 7 1 5 0 7 1 23-2 37 0 47 1-12 5-71-3-3 0-4 3-3 1 0-2-7 0-4-1-17 1-17-1 7 5 11 1 1 1 10-1 26 2 22-1 24-1 10 2-13 2-46-1-26 2-4-2-21 4 8 3 2-2 32 1 15 2 26-1 12-1 12 3 25 0 33-1 4 2-82 4-25-3-2 0-17 1-10-1-10 3-4-1 19 3 19 0 9 1 7 1 3-1 5 2 3-4 64 0 30 5-104 3-2 1-28-4-1 0-10 4-7 2 9 0 6 2 2-2 9 1 4 0 10 1 90-3 12 1-40 4-48 3-4 1-4 4 2 0 7 1 78-1-37 2-12 4-38-4-6 0-4 0 9 8 2-3 35 2 16 0-4 5-16-1-9-1-1 1-7 0 21 7" marker-start="url(#k18)" marker-mid="url(#k18)" marker-end="url(#k18)"/><path d="M1270 80l9 6-5 3-10 4 10-2-8 7 0-3-28 4-36 4 28-1 13 0 7 1 36-1-100 10 57 0 7-1 14-1 5 7-54 4 53 0 26 7-15 0-43 0 6 6 22-1-7 4-18 0 9 7 0-3 17 3-6 2-8 3-15-1-3-3 1 7 43 10 3-2-27 6-7 4 2 1 13 1 7 3-14 3-3-2-30 2" marker-start="url(#k14)" marker-mid="url(#k14)" marker-end="url(#k14)"/><path d="M1159 18l51 6-5 2-3 3-7 0-4-1-22-3 27 7-72 5-13 6 25-3 30 2 22-1 14 5-46-1-31 6 57 2-60 5 8 4 2-1 6 7-4-1-31 7 54 2-30 1-26 1 26 6 72-3-34 6-52 2-18 4 52-1-44 5-5 4 14 1 18 12 38-2-45 6-26 6 183 1-136 0 1 10-41 1 52 19-28 5 49 10-20 19-4-1" marker-start="url(#k10)" marker-mid="url(#k10)" marker-end="url(#k10)"/><path d="M1291 114l0-4-22 6 19 7 7 1-14 2-5 1-1 1-19 3 10-1 17 5-16 13-17 3 16 0 29 5-2 0-27 9" marker-start="url(#k17)" marker-mid="url(#k17)" marker-end="url(#k17)"/><path d="M1144 16l10 8 61 1-40 2-17 4 52 3 8 4-37 1-22 3 33-1 15 3-30 13-9 2-23 29-9 6 42-4-46 13-35 10 25 18 54 51" marker-start="url(#k20)" marker-mid="url(#k20)" marker-end="url(#k20)"/><path d="M1267 75l-10 12 8 5-6 9 0 0 10 3 6 3-24 0 10 6 10 0 13 1 2 0-20 2-2 1-8 4 0 3 7 2-6-1-16 3 29 3 25 0 2 2-21 3-13 4 13 1 16 2 5 3-46 3-8 7-7 4 34 3-7 5-5-2-6 1 2 3 17 2 2 0 5 3-19 3 9 4" marker-start="url(#k21)" marker-mid="url(#k21)" marker-end="url(#k21)"/><path d="M1283 131l-13 9 8 5-3 0 12 5-13 22" marker-start="url(#k28)" marker-mid="url(#k28)" marker-end="url(#k28)"/><path d="M1277 86l1 16 9 4 6 5-3 7-22 1-1 2 1 2 12-2 1 0 7 3 9 3-10-1-21-1 0 1 10 7 19-3-21 7-5 1-27 3 45 0 10 3-27 1-7 4-1-3 4 8 19 10-9 5 3 6-4 2" marker-start="url(#k16)" marker-mid="url(#k16)" marker-end="url(#k16)"/><path d="M1294 135l-3 19" marker-start="url(#k29)" marker-mid="url(#k29)" marker-end="url(#k29)"/><path d="M1289 94l-1 32-8 6 1-1 11 5-7 2-17-3 1 18 13 3-15 7 14 3-9 2 5 5 1-1 5 6" marker-start="url(#k27)" marker-mid="url(#k27)" marker-end="url(#k27)"/><path d="M1273 94l12 9-15 9 19-2-8 22-2 13-11 7 17 10" marker-start="url(#k24)" marker-mid="url(#k24)" marker-end="url(#k24)"/><path d="M1280 121l-11 28 12 6" marker-start="url(#k19)" marker-mid="url(#k19)" marker-end="url(#k19)"/><path d="M1290 115l-14 7 11 11 8 5-14 1-1 12 3 11-13 17" marker-start="url(#k26)" marker-mid="url(#k26)" marker-end="url(#k26)"/><path d="M1289 106l-12 18 14 25-5-3-12 7" marker-start="url(#k23)" marker-mid="url(#k23)" marker-end="url(#k23)"/><path d="M1280 128l2 29" marker-start="url(#k30)" marker-mid="url(#k30)" marker-end="url(#k30)"/><path d="M1145 13l8 0 25-2 19 6-12 2-13 0-14-3-11-1-31 9 10-1 10 1 52 4-14 1-26 0-12-2-10-1 9 7 26-2 6 3 52-3 5 5-12-1-2 2-24 0-13-1-12-1-10 2-6 0-27 0-3 2-2 3 6-2 3 3 32-1 3 0 7 0 0-2 7 1 21-1 9 4 25-4 16 4-11 4-18-1-29-1-24-1-6 1-3 1-39 0-4 2 9 4 2-2 9-1 11 2 3 2 12-1 25-3 1 2 16 1 19 1 7-2 19-2-26 6-11 3-8-1-65-3-16 0-2 3-9 3 17 1 16 2 23-4 1 4 12-1 14-1 7 0 23-2 17 2 8 3-8 1-29 2-28-1-4 2-21-3-5-1-3 2-16-2-9 0-18 5 1 1 2-1 13 2 18 1 17 1 0-3 1-1 6 0 7 1 24 1 2 2 33-1 18-1-5 7-68-2-3 2-11-4-18 0-9 0-31 3 4 5 16 1 7 0 33-2 7 0 82-1 35 4-63 2-19-1-1 3-17 0-21-3-10-1-10 0 0 0-4 1-9 0-7 0-2 2-14-2-5 5 1-1 6 0 8 1 29 2 1-3 5 3 68-1 67-1-83 7-51 0-8-2-2 0-3 3-1-1-4-2-31 8 72 0 116 3-79 0-39 2-19-3-19 2-1 1-23-3-4 1-13 7 7-1 10-3 6 4 12 0 60-3 31 2-68 2-33 2-11-1 4 4 29 2 21-2 9 4 0-2 7 1-53 10 61-1 40-2-16 6-4 3-62 0-14 0 0-3 0 4 4 0 25 3 9-1-43 5 60 5-13 6-4-2-8 0-6 0-24 0 27 5 14-1 2 4 1 2-7 0-6 0-4 1-13 1-18 0 11 3 5-1 7 0 1 2 2-1 13 1 12-2 8 2 47 1-52 5-3-2-6-1-22 2 1 3 2 0 2 0 3 2 36 5-18 1 27 9-2 1-7 1-7 1" marker-start="url(#k22)" marker-mid="url(#k22)" marker-end="url(#k22)"/><path d="M1194 17l-18 2-51 5 26 3-38 4 25 8 77 3 5 12 11-4 6 1-1 4-10 3-48-3-3 0-5 1-32 1-29 3 13 3 26-3 11 0 50 4 35-2 1-1-11 8-14-4-2 2-5-1-1 3-21 0-1-4-76 1-4 7 18-3 15 4 53-2 11-1 25 0 2 2 2-2 30 6-10-2-15 1-4 2-4-3-2 2-12 2-15 0-11-1-22 1 52 1 1 1 7 3 24-4 6 0 11 7-39 0-20-1-14 1-14 2-10-3-28-1-1 0-29 4-11-2-5 0-5 4 88 0 23 2 5 0 12-3 4 1 16 3 25 2-10-1-9 0-5 3-25-1-13 1-3 0-15-2-16-1-22 3-35 1 55 3 6-1 21 2 1-1 10 0 2 1 12-3 3 0 17 4 2-3 10 0 4-1 22 2-32 7-31 0-7-4-15 1-5 3-13 2 23 0 13 1 6 0 2 0 3 1 1-3 1 4 6 0 16 0 13-3 1 2-21 6-30-3-8 3-15-2-2-1-26-1-13 1-8 0-29 1 50 6 15 0 17-2 23 1 18-2 30 3 3-3-50 8-38 0-53-3 24 5 6 3 5 1 1-3 13 0 41 3 4-2 1-1 10 1 12-2 38 3-43 3-5 0-15 0-6-1-3 2-3 2-3-2-30 1-17 1-32-4-11 9 29-4 15 4 28-2 7 1 20 0 54-2 18 3-56 5-10 0-12-2-3 1-17 0-17-3-26 4 0 2 38 2 4-2 18-1 25 4 5-1 27 1 3-2-39 7-11-4-7 0-4 0-58 4-23-4 5 7 5 0 43 1 22-3 16 1 16-1 10 0 9 0 5 2 33 2 4 3-19-2-97 2-9 0-22-1 1 4 0 3 108-3 4 4 13 2-3 1-37 2-5 0-35-1-7 1-27 3 20 0 42-2 4 2 19-2 2 4-5 2-1 0-2 1-21-2-25 3-2-3-2 3-12-1-12 0 63 7-35 4" marker-start="url(#k13)" marker-mid="url(#k13)" marker-end="url(#k13)"/><path d="M1176 18l-24 0 41 8-1 3-52-3 2 8 13-2 46 0-14 7-7-1-40 5 53-2 26 4-93 7 11-1 13 0 17-1 43 4 11-2 15 7-14-2-63 1-9 3 28 3-54 7 30 1 38-2-58 12 42-2-29 6-24 11-7 1-13 0 1 4 22 1 8-2 24 1 2 4-48 2 2 4 53-2-52 14 27-2-44 3 62 9 22 3-54 12-6-4 55 26" marker-start="url(#k10)" marker-mid="url(#k10)" marker-end="url(#k10)"/><path d="M1165 9l-19 5 38 1-48 8 21-3 24 3 2 0 34 6 0 0-9 0-6-1-7 1-6-4-12 4-3 0-19-1-6 1-11-4-21 4 5 4 4 0 2-3 23 2 4 1 11 1 5 0 17-4 7 3 19-2 4 3 11 4-7 1-3-4-22 3-22-2-36 3-23-1-1-1 25 4 3 1 4 2 23-2 9 2 3 0 4-1 1-1 1 0 42 2 1-1 0 3-15-1-6 2-3 2-26-3-2 0-23 3-26-3-11 2 16 5 13 0 24-3 3 0 24 0 7 0 33 0 3 4-19 4-5 0-39-3-8 0-16 2-13-2-13 3-11 0-10 3 7 1 9-1 2 2 6 1 4-4 7 1 3-1 0 2 10 0 27 0 1 1 6-1 20 2 4-1 14-2 3-1 3 4 11-3 9 7-50-2-17 3-36 0-4-4-8 4-10-4-23 3-2 4 0-2 1 0 4 4 0 0 21 0 1-4 4 1 1-1 9 3 1 0 18 1 7-3 5 0 5 0 1 1 15 2 3 0 23-2 4 2 5-4 21 1 6 3 2-1-10 2-10 0-36 2 0-1-10 0-2 3-14-1-10-2-30-1-7 0-4 0-26 5 10 3 54 1 2 0 9-4 29 3 8 0 1-2 33 2 2-3 2 3 11 1 2 5-12-4-12 0-8 4-1-2-11 1-33-1 0 2-4-1-18-2-5 2-1 1 0-1-11 0-52 2 2 3 30 1 8-4 6 1 5-1 30 1 16 1 5 0 57-1 3 7-52 1 0-2-30-1-3 2-5 0-7-1 0 1-12-1-1 0-5 2-2-3-33 5 34 2 5-3 4 4 4-4 21 3 11-1 3-1 3 2 10-2 52 0-31 8-12 0-30-2-6-2-6 0 0 4-19-3-4 1-16 0-11 0-2-2 0 4-20 0 1 5 5-3 3 2 43-1 18 0 2 1 8-3 14 1 4 0 22 3 80-2-95 6-2-3-8 3-5-1-6-2-10 3-21 0-4-1-17 0-1-2-23 1-4 3-5 0 3 1 12 2 3 1 21-1 23 1 15-3 17 1 37 1 5 2 21-3-48 5-3 2-24-2-21 1-17 2-1-3-10 2-4 2 8 2 3 1 25-2 14 1 3 0 14 0 0-1 13 2 1 6-1-2-7-2-4 3-4 0-4-2-20 2-2 1-5-4-35 7 17 0 1 0 0 2 20-1 2-2 1 1 8-2 31 0 12 9-9-1-8-1-4 2-8 0-8 0-9-3-16 3-27-2-17-2 18 9 11-2 8-1 24 0 1 3 16-4 7 2 4 0 1 0-19 4-6 2-8 0-2 0-11 0-13-1-14 1-10-1-1 0 11 6 18-1 5 2 1-3 13 2 2-3 5 3 12 2-4 4-15-3-6 2-20-2-2 0-7 0 13 7 5-3 23 1 0 0 4 1 1-2 10 2 3 0 92 3-58 2-49 1-7-2-4 3-14-3-5 1 4 3 3 1 13-1 2 4 10-3 62 3 17 4-26 0-9 0-10-2-39 3-4-1-7-1 18 3 47 5-18 0-12 7 11 0 1-1" marker-start="url(#k15)" marker-mid="url(#k15)" marker-end="url(#k15)"/><path d="M1264 87l5 4 5 3-3 2 1 11 0-2-19 1-7 2-7 4 41 0 12 4-19-1-13 3-2 1-19-1 31 2 11 9-8-4-12 6 7 1 26 4-32 1-32 1 12 2 55 3-30 4-3 1-49 2 38 3 10-2 19 10-13 5-14 5 4-1-11 5 15 8 1 0" marker-start="url(#k21)" marker-mid="url(#k21)" marker-end="url(#k21)"/><path d="M1265 90l6 7 9 11-17 4 17 1-6 2-3 0-8 8 23 0 4 4-17 1 9 4-3 6-31 5 1 10 15 1 6-3 24-1-24 33 2 0" marker-start="url(#k17)" marker-mid="url(#k17)" marker-end="url(#k17)"/><path d="M1234 59l-66 1 101 12-7 10 11-2-55 5 45 8-18 5-22-2-1 8 37-4 9 9-9-4-18 3-10 5 30 0 21 1-46 9 11-1 2 2 13-3 32 0 3 8-27-2-12-2-44 0-21 3 34 5 27-3 35 9-9-4-41 4-27 0 22 5 41 3-1 1-14 0-7-3-22 2-12-1 13 7 3-1 14 1 24 0-3 6-6-1-23-2-28 1-19-2 49 9 1 0 39 4-22-3-11 4-44 4 43-2 23 3-14 3 16 4 1 5" marker-start="url(#k11)" marker-mid="url(#k11)" marker-end="url(#k11)"/><path d="M1178 19l-34 1 16 1 4 1 5 0 7-2 18 3 0 1-2 3-25-1-33 2-5-2 0 3 7 2 34 1 17 1 19 2-28 2-29 2 5 2 15 2 42-2 15 0 6 2 2 3-51 3-43-4-36 5 36 4 9-2 13 1 2-1 26 0 5 0 32 0 9 2 5 0-14 2-17 1-6 1-2-1-7-2-19 2-1 1-9-3-7 1-9-1 0 4-19-2-15 0-5 0-1 5 22-2 11 2 2 0 4-1 19 0 29 3 9-1 9-1 4 0 13 2 16 0-20 4-15-2-38-1-10 3-3-2-14 2-10-1-3-1-12-1-2 2-12-2 39 9 10-2 6 1 11-3 33 1 9 0 10 0 1 0 3 2 18-1 11-2 17 9-47-3-1-1-7 0-3 0-29 0-25 1-1 0-17 3-2-1-28-1-9 4 2 1 79 2 22-1 1 1 0-3 8 3 17-3 16 2 24 2-3 2-14 1-18-1-3-2-3 4-13-1-23 1-13-3-5 2-34-1-10 0-40-2 15 6 13 0 23 1 14-2 1 0 63 3 1-1 36 1-19 5-36-3-8 1-1 0-3 2-1-2 0 2-2 0-5 0-40 0-5 0-51 0 20 6 2-1 9-3 33 0 4 4 38-4 78 2-56 3-3 0-30 1-5 3-3-1-17-1-13 1-8-3-5 4-14 0-15-4 29 9 6-4 10 3 22-2 19-1 5 4 2-3 16 0 16 0 11 2 13 1-3 3-83-1-28 2-6 0-11-3-15 0 4 5 3 4 49-4 4 0 3 1 5 2 7 1 11-1 2-3 8 3 1 1 16-1 37 0 15 0-49 5-8-3-32 0-14 4-13-1-37-3 0 2-7 0 14 5 19 0 16 0 11-1 1 2 13 1 4-3 6 3 4 0 7-4 3 1 45 2-55 4-4 0-1 1-24-3-8 3-49-3-5 4 1 1 6 4 12-2 19-2 6 2 6-2 3 4 17 0 22-2 17 0 26 7-18-3-9 3 0-4-5 3-5-2-4 0-22 2-3-2-16 2-6-1-29 1-5-3-4 1-6 3-4 1 10 4 5 0 5-1 16 0 15 1 8 0 3-2 1 1 0-1 13 2 8-2 9-1 27 1 2 0 17 1 39 1-83 1-2 1-18 1-20 0-12-1-13-1-25 2 36 6 22 0 14-1 34 1 26-1-29 3-2 3-30-3-4 4-46-1-6-3 9 6 11 0 14-1 94 1-10 8-36-1-50 3 7 3 6-2 5-2 7 0 54 3-35 3-20 2 0 1-2 0-11-4 33 9 6-2 7 2-5 1-8 2-20 3" marker-start="url(#k9)" marker-mid="url(#k9)" marker-end="url(#k9)"/><path d="M1167 14l25 2-7 1-13 2-7 0-15-3-13 5 2 1 19-1 4-1 1 4 0-1 11-2 24 2 6-2-1 4-14 0-6 3-5 1-34-4 0 4-7-4 9 6 33 0 4 2 32-1 3 1 6 5-13 1-27-1-8-2-1 1-1 1-5-3-12 3-12 1-2 0-12 0-3-2-1 2-8-3-10 3 12 3 3 2 6-1 19 0 6-3 10 4 1-3 3-1 6 0 7 1 10 2 2 1 13-4 7 3 20-1 2 7-1 0-1-4-17 4-41 0-19-3-13-1-3 0-1 1-6 3-9 0-18-4 22 9 8-4 27 3 11 0 4-2 4 1 2 0 48 0 3 2 6-3 5-1-9 7-5 2-35 0-17-4-18 0-1 0-1 4-22 0-4-4-5 3-14-3-5 2-1 0-6 7 14-1 9-2 2 1 3-2 15 3 6 1 55-4 19 0 6 4 7-4 15 9-8 0-49-1-18-3-2 4-25 0-8-2-5-1-24 1-2 0-4 0-8 0 4 4 18 0 11 2 30-2 0 3 8-3 13 3 5 0 1-1 14 1 9 0 23 0 18 0 2 0-4 1-74 1-10 1-19-2-4 2-18 2-16-2-12 5 1-2 2 4 4-1 6-2 3 2 13-2 26-1 14 0 12 0 9 2 0 0 51-1 12 0-24 5-10 2-37 0-1-1-6-2-7 2-7 0-26-2-7 3-19-3-1 3-4-1-6-1-4 5 13-1 5 0 2 2 26 1 4-1 15 0 8 0 1 1 8-3 2 1 25 1 50 0-4 6-46-2-24 0-16 0 0-1-16 0-9 2 0-1-2 0 0 1-1-1-25 2-16-1 5 3 3 2 1 1 20 1 3-4 11 3 30-2 12 2 8-3 26 8-46 0-4 1-9-4-8 2-7 1-22 0-12 6 4-2 19-2 1 1 17 2 11 0 1-1 8-2 7 2 9 0 1 1 18-3 10 4 23-2 45-2-77 8-35-1-14-1-27-1-1 0-18 2 7 6 35-3 1 1 3-1 7 3 4 1 11 0 2-3 13 1 36 1-27 6-6-1-20-3-33 4-1-3-25 1 0 6 8 1 1-2 4-2 16 0 4 2 70 2 4 0-14 5-30 0-15-4-10 4-8-2-16 0-15 1-5 3 10 0 1-1 14 0 3 4 1-3 31 2 13-3 8 1 11-1 14 7-27-2-13 3-9-2-4 1-18-1-1 2-16 1-5 1 1 3 18 0 16-2 3 3 16-3 1-1 20 4 38 4-54-1-4 1-21 0-8-2-12 1-5-1 0 0-4-1-10 0 20 5 20 7-12-2-4 0-6 1 25 5 5-1 10 1 1 1 11 1 60-2-71 8-12-1-13 0 8 3 28 8-2 0-16-3-11 0 21 4 14 0" marker-start="url(#k18)" marker-mid="url(#k18)" marker-end="url(#k18)"/><path d="M1168 15l-37 4 11 2 7 3 47-2 0 0 21 3-1 3-66-2-12 1-12 2-7 5 1-2 20-1 59 3 14-2-4 4-12 1-11-2-19 1-11-1-25 1-2 1 35 3 8 0 16 4 22-4 9 4-3 5-13 0-10-1-18 0-30 1-17-1-14 3 11 2 12 1 2-1 6-3 2 3 5 1 79-3 3 1 7 2-8 3-15 2-11-2-13-2-13 4-16-4-23 1-1 1-21 1-6 1-12-1 21 4 8-1 23 1 5-1 24-1 12 0 52 8-46 1-16 0-17-2-22 1-4-3-2 4-4-4-31 3 9 3 38 3 21 0 90 2-89 3-3-2-3 0-34-1-6-1-1 3-29-2 26 4 14 0 4 0 3 1 19 0 13 1 103 0-51 7-83 0-34-1-13 5 80-3-14 8-17-1 133 11-103-1-28 0-24-2-5 2 1 6 2-1 170 6-92-1-62 1-31-2-2 0-4 2-5 1 8 2 27 1 10 0 37 4-27 0-10 0-2 2-4 1-23 2 13 1 6 0 11 2 21-4 7 0 11 8-53 0-13-3-2 3 71 5 102 1-92 1-39 4-44-4 30 8 12-3 3 0-25 7 38 7-46 4 42 2 1 2 1-1-8 4 12 10 31 21" marker-start="url(#k25)" marker-mid="url(#k25)" marker-end="url(#k25)"/><path d="M1208 49l36 6-9 4-3 1 5 8 4 6 19 4-3 1-48-1 25 4 29 1 13-2 4-1-13 9-6-3-3 1-7 0-9-2-1 4 7 3 16-1 7 3 3 4-27-3-4 1-3 3-7-1-9 1-7 1 3 1 49 1-3 5-3 0-1 0-12 0-11-1-10 0-11 2-4 5 12-3 31 3 12-3 5 8-22-2-13 3-10-2-2 1-13-2-21 1-2 1-22 5 47-3 1 3 7 0 60-3 3 2 5 4-58 1-5 0-69 0 68 5 1-2 26 3 40 0-40 3-4 2-2-1-13-2-5 0-10 2-24 1-62 3 54 1 44-1 3 3 5-1 12 1 2-3 7 0 7-1 22 8-32 1-35-1-69-2 84 7 15 0 4-3 23 8-21-2-18 2-7-1-9-2-16 2-66 7 94-4 15 1 36 2-30 3-2 0-6-1-10 4-20-3 26 5 30 3-1 5-34-1-78 6 70-1 9-2 0-1 2 0 6 0 12 1 4 2-14 3-61-1" marker-start="url(#k12)" marker-mid="url(#k12)" marker-end="url(#k12)"/><path d="M1147 28l39 2 3 3 38 3-60 3-8-3-15-1 95 21-9 1-9 2 30 8-41 2-92 1 44 1 8-1 60 1 4 0 37 7-4-2-1-1-23 3-43 0-32-2-63 8 106 0 31-3 6 2 30 6-14-2-32-2-10 2-29-1-5 0-17-1 16 7 3-2 33 0 7 2 7-1 6 0 1-1 26 0 21 7-27-1-10 3-10-1-6 1-4-3-17 0-84 7 58 0 30-2 25 1 16 1 2 0 15 1-15 3-11-1-33-1-8 3-5-3-68 4-44-3 35 7 72-1 17 0 38-1 16-1 5 0-8 7-10-2-12 3-8-1-10-1-108 0-26 2 79 5 63 1 11-3 6 2 8 1 14-1 14 2-41 2-14 0-1-2 0 0 0 2-21-2-10 1-16 1-90 3 60 2 44 0 15 0 44 2-11 5-13-2-4 0-2-2-1 3-34 1-1-2-4 1-45-1-31 7 32-3 38-1 22 1 4 0 5 3 12 0 7 0 8-4 2 1 16 0 6 7-2-2-1 0-10 1-20-1-4 1-42-1-9-1-47 3-3-1-8 0-8 4 5 0 106 3 10-3 1 1 1-1 47 3-50 1-10 1-12 2-25-2-3 0-36-1-4 5 40 4 13-4 35 1 1 0 12 0 15 2 2 4-39 0-1-2-40 9 29-3 47 7-13 1-30-2 39 5 4-1 4 3-19 1-9 0-77 0 42 14 11 6" marker-start="url(#k8)" marker-mid="url(#k8)" marker-end="url(#k8)"/><path d="M1165 14l-33 7 24 1 3 0-3 3-26 2 40 6 9 0 36 2-37 4-14-3-44 8 115-1-2 2-113 4-13 4 30 8 7 0-3 5-23 10 152 11-99 4-58 7 13 4 161 5-151-1 3 6 30-1 4 6-9 48" marker-start="url(#k20)" marker-mid="url(#k20)" marker-end="url(#k20)"/><path d="M1288 90l-21 9 0-2-9-2 18 10 5 8 11-1-3 5-38-2-4 9 42 4-13 1-20-4 4 18 23 4-18 1 15 3 6 4-23 2 11 5 2 4-6 17-7 3" marker-start="url(#k16)" marker-mid="url(#k16)" marker-end="url(#k16)"/><path d="M1275 89l-3-2-11 1-9 6 15-4 2 1 17 1 3 7-34-2 24 4 2-1 8 1 1 8-36 4 33 5-7-3-10 4-21-1 7 6 14-1 1-3 25 9-24-1-20-1-2 1 8 4 9 2 28 4-5 0-37-3-13 3 15 9-6 3 38 1-22 4-11 0-24 0 52 13-21 2 7 9 0-1-3-1-3-1-4 9-40 9" marker-start="url(#k14)" marker-mid="url(#k14)" marker-end="url(#k14)"/><path d="M1280 84l-15 19 23-2 5 0-36 12 27 5-4-1-10 3 5 6-7 8 21-3 2 24-9 1-5-1-4 6 4 2 11 6-33 4" marker-start="url(#k27)" marker-mid="url(#k27)" marker-end="url(#k27)"/><path d="M1274 116l15 12-18 1 5 32" marker-start="url(#k19)" marker-mid="url(#k19)" marker-end="url(#k19)"/><path d="M1283 122l11 22-3 4 0 3" marker-start="url(#k31)" marker-mid="url(#k31)" marker-end="url(#k31)"/><path d="M1286 114l-9 5 6 15-9 8 19 11" marker-start="url(#k29)" marker-mid="url(#k29)" marker-end="url(#k29)"/><path d="M1283 112l-13 9 0 0 27 17-8-1-3 1" marker-start="url(#k23)" marker-mid="url(#k23)" marker-end="url(#k23)"/><path d="M1283 113l10 3-3 14-16 12 2 12-6 3 8 18" marker-start="url(#k26)" marker-mid="url(#k26)" marker-end="url(#k26)"/><path d="M1279 96l-16 27 4 9 9 11 17-3-5 26" marker-start="url(#k24)" marker-mid="url(#k24)" marker-end="url(#k24)"/><path d="M1288 125l-3 24-11 4" marker-start="url(#k28)" marker-mid="url(#k28)" marker-end="url(#k28)"/></g><g transform="scale(.5)" fill="none"><path d="M850 339l-2-1-5 0-11-1-6 1 0-1-2 1-7-2 0-1-1 4-1-4-2 4-2-1-1 0-12-1-14 6 8-1 11 2 0-3 10 3 3-2 4 1 7 0 2-3 0 0 2 3 4-2 1 3 2-2 2 2 1-1 0 1 1-3 29 8-2-3-4 0-1-1-8 3-4-1-4 0-1-2 0 0-1 1-1 3-2-2 0-1-7 3-3-3-4 1-1 1-4-2-7 1-2 2-4 0-3-4-1 3-1 1-2-2-1 1-1 1-4 0 0 0-3-1 0 0-4 0-4 1-4-3-1 3-7 0-3 2 13 0 4 0 3 3 0-1 0-3 0 3 2 0 6-2 3-1 1 4 1-2 0 1 3 0 2 1 1-1 1-1 2 1 7-1 3 2 0-1 4-1 2-1 1 2 6-3 4 0 2 0 1 4 2-2 1 0 2 0 0-2 6 0 1 0 8 4 1-1 4 0 14 1 6 5-17-1 0 1 0-1-3-3-1 4 0-4-1 4-4-2-7 2-3 0-4-2-2 1 0-1-4-1 0-1-3 2-5 2 0-2 0-1-3 1-14 2-4 0-2-3-4 0-1 0-2 0 0 2-1 0 0 1-1-2-1 2-5-1-1 0 0 0-7-1-1 1-6-1-2 2-2-2-6 1-7 5 1 0 3-1 4-2 9 1 9-1 12 1 2 1 1 1 7 1 0-2 1-2 0 2 0 1 1-1 3-2 2 2 2 2 2-2 2-2 1 3 4-2 2 2 2-1 0-1 7 0 4 0 4 3 1-1 5-3 1 0 0 2 0-1 4 3 0 0 5-3 2-1 1 3 5-3 1 3 6-2 1 1 9-1 1 4-2 0-2 0-3 1-3 3-3-3-1 2-2 0-1-2-1-1-8 2-4 0-6-2 0 2 0 1-11 0-1 0-1-3-5 4 0-2-1 0-1-1-1 0-4 3-7 0-4-3-5 1-2 1-2-1 0 1-1-3-1 2-4 2-1-4-6 0 0 1 0 1-1 2-3-4-1 1 0 0 0 0-2 0-1 1-3 2-3-3-4-1-5 3-1 1 0-3-1 2-1-2-2-1 0 1-5 2-1-3-2 4 2 2 4 2 6 1 5-1 0-1 6-2 2 2 11-2 9 3 4-1 4 2 8-1 9 1 4-1 1-3 1 4 3-2 5-2 1 0 5 0 3 3 1 1 4-1 4-2 2 2 5-1 10 0 3 2 1-4 11 4 1 3-5 0-3 0-1-1-3 2-4-1 0-1-6 0 0 0-1 2-4-1-1-2-2 1-1 1-2 1-11-3-2 2-3 2-1-2-3 0-3 0-3-2-3 1-2 0-1 0-1 1-3 2 0-2-1 2-3 0-2 0 0-3-1 0-1 1-5 0-5-2 0 0-3 3-5-2-1-1-1 0-2 3-4-1-1 0-8 1-3-3-1 0-4 3-2-1 0-2-6 0-1 1-3-1-2 4-5-4-2 2 3 7 3 0 4-4 2 0 1 2 1-2 1 2 8-1 1-1 3 3 1-1 1-2 1 1 6 2 5-1 0-1 3-1 2 4 1 0 2-1 6 0 0 1 1 0 2-1 2 0 7 1 4-4 3 0 2 2 1 1 0 0 1 0 1-1 2 0 1 1 1 0 8-2 0 0 2 3 3 0 2-2 4 1 6 1 0-3 2-1 1 1 0 3 8-4 2 0 1 4 0-1 0 1 3-1 1-2 1 3 0-3 6 2 0-3 6 3 4-2 2 0 4 1 14 6 0-1-15 2-2-3-2 0-2 2-1-2-1-1-2 3-1 1 0-2 0-1-3 1-1 1-2 1-6-1-2-3-4 3-1-1-1 1 0-3-6 2-3 1-1 0-1 1-1 0-1-3-3-1-1 4-5 0-2-3-6 0 0 3-7-4 0 1-8 2-6-3-2 0-3 3-4-3-1 1-1 2-1-1-7-1-6 3-2-3-3 2 0 1-1 0-1-4-2 1-3-1-3 1-1 2-8-1 0 1-3 1-13 0-3-4-2 5 1 2 4 1 1 0 1 1 0-2 6 0 1 0 4-2 3 0 6 3 7 1 0-4 1 0 3 3 0 1 4-2 1 2 0 0 2-3 4 1 5-1 1 2 1 0 0-3 0 4 3-4 0 1 1 2 10 0 0-2 1 2 11-3 4 1 0 1 6 1 2-2 1-1 0 0 3 4 15-1 10 0 3-1 4-1 2-1 10 2 2 1 6 1 1-1 16 0 0 1 2 0 5 0 0 1-1 3 0-1-3 2-4-2-14 1-2-2-2 2 0 1-3-4 0 4-4-1-1 1-3 0-5-1-1-3-1 3-5-3-1 3-4-3-8 4-10-3-3 1-5-1-1-1-3 3-9-2-5 1 0-1-10 1-1 0 0 1-2 0-1-3 0 2-3-2-8 3-1-2-5 2-4-3-2 2-5-1-5 1-1-1-2-1-2 1-1 2 0 1-1-4-7 4 0-1-4-1-6 1 0 0-2-1-4-1-2 8 1 0 1-4 4 3 1-2 4 0 2 2 3-2 2 1 1-2 3 0 6 1 2-1 2 4 1-2 1-2 3 4 10-2 3-2 7 4 1-3 0 3 2-1 1-1 2 1 2-2 2-1 7 3 6-3 2 3 1-2 3 3 9-4 2 2 4-1 4 2 4-3 0 4 0 0 0-3 5 2 0 0 1 0 1 0 0-1 1-1 4 3 2-3 7 0 7 2 4-1 1-1 2 2 8-1 1 2 1 0 6 0 2 0 0 0 3-4 2 4 1-1 1 0 0 0 3-2 2-1 3 1 3-1 5 1 0 4 0 4-1-4 0 1-2-1-2 3-1 1 0-1-2-2-7 2-6-2-15 1-1 2-1-4-11 3-3-2-2 0-4 0 0 1 0 0-6 1 0-1-3 1-3 0-1-2-1 1-4-2-2 4-5-3 0 0-9 3-10 0-6-1-2 0-5 0 0-2-1 0 0 3-2-3-1 3-7-4-2 2-2-2 0 1-2 2-2-3 0 2-4 0-1 1-4-3-2 3 0 1-7 0-6 0-8 0-1-1-1 1-6-3-2 0-3 1-7 6 0 0 1-1 4 1 6-2 2 2 1-1 0-2 2 4 0-2 1 0 8 1 1 0 1 1 6-2 0 0 2-1 1 0 0 2 2-2 4 2 4-2 5 0 2 0 0 0 3-1 1 2 0-1 2 2 5-1 2 1 6-1 3-1 0 2 1-1 0 2 4-3 4-1 5 2 2 2 7-1 4-3 0 1 3-1 3 0 5 3 1 1 2-3 1 2 3-1 0 2 1-3 0 3 4-3 0 0 3 1 1-1 1 3 0-1 0 0 1-2 1 0 1 2 2-2 2 0 3 3 8 0 2-2 7-1 0 0 4-1 6 1 1 3 2-2 1-1 0 3 3-2 0-1 5 2 0-2 10-1 4 1 1 2 4 4-4-2-7 0-1 4-12-1-1-1-1 0-5-2-2 4-3-2-1 1-1-1-3 1-3-1-1-2-3 4-5-3 0 0-1 2-3-2-2 1-6-2-14 0-1 2-5-1-2-1-8 2-4 0-6 2-4-1-1-3-3 1-7 0-9 3-4 0 0-2 0 2-4-4-11 2-1-1-2 0-1 1-3 1-1-2-4 3-2-3-3-1-3 1-1-1-1 1-3 2-2 0-2 1 0-1-1 0-5 0-1 0-3 0-1 1-1-3-1 0-1-1-4 3-5 0 3 5 3-3 8 3 1 1 3-1 2-2 14-1 1 0 2 1 1 2 2-2 2 1 6 2 11-4 8 0 0 2 3-2 2 3 0 0 0-3 3 2 1 2 0-1 1-2 1-1 0 3 3-2 0 3 4 0 4 0 1-2 9 0 2-2 2 4 1 0 3-3 3 0 8 3 1 0 8-2 2 0 1-2 1 3 5-1 0 2 2-3 2 2 4 0 3 0 2 1 0-2 2-1 4-1 1 0 0 3 1-2 2 0 1 1 0-2 3 3 0 1 3-4 9 2 2 1 9-2 6 3 0-2 2-1 1 3 2 0 3-2 4 2 0 3 0-2-5 4-2-1-1 0-7-1-5-2-1 0-10 2-1 1-3 0-4-2-2 0 0 2-2 1 0-2-2-2-1 4-2-2-5 2 0-1 0 0 0-1-2-1-1 1-2-1-1 3-1 0-6-1-5-2-1-1-2 4-6 0 0 0-2-3 0 2-5-1-1 1-2-2-4-1-2 3-10-2-2 0-11 3 0-3-1-1-14 4-3-4 0 2-2-2 0 0-9 1-8-1-1 3-2-1-2 1-7-2-7-1 0 4-1-1-2-1-1 0 0 1-2-2-3 2-2 1-3 0-5-2-5 2-3-2 4 4 5 0 8 3 0-2 5-1 2 3 3 0 2-2 7-2 0 3 0-3 1 0 3 4 1 0 2-1 2-2 1 0 1 3 0-1 0-1 2 2 0-2 1-2 2 3 6 1 1-4 0 1 3 2 5 1 2-2 1-2 1 2 1-2 2 0 1 1 3 3 3-1 3-1 2 0 2-1 2-1 2 1 6 3 5-3 6-1 2 4 1 0 1 0 16-3 6 0 2-1 1 4 0-1 1 0 2-3 0 3 2-1 6 2 0-3 1 3 1-1 4-3 12 1 5 3 3 0 1-4 1 2 0-1 13 2 1 0 4 1 2-1 5 0-5 4-2 1 0-2-8 3-2 0 0-4-1 4-10-2 0 2 0-4-2 4 0-1-2-3 0 2-8 2-5 0 0-1-2-1-2 2-5-4-4 0-2 4-1-4 0 1-1 3-6-3-1 0-8 0-7 1 0-2-6 0-7 3-7 1-11-1-4 0-4-1-1 2-2-4-4 2-1-2 0 0-2 2-2-2-5 0-3 0-2 2-11 0-3 0-8 0-2 1-1-3-1 2-2-1-1 0-5 3-3-2-3-2-1 0-8 2-2 2-3 3 5 2 0-2 2 1 1-1 9-1 11 1 0 2 6-1 13 1 0-1 0 1 1-3 3 0 1 1 6 2 2-4 0 3 1 0 1 1 2 0 0-3 6 0 9 2 4-2 0 3 1-1 1-3 4 2 9-2 1 0 1 4 1-1 9 1 0-1 3-1 0 2 1-1 4-3 3 0 5 4 0-2 2 1 3-1 5-1 2 3 2-3 12 1 7-1 0-1 0 2 1-1 6 3 3 0 2-3 3 0 5-1 2 3 2 0 1 1 1-1 4 0 1 1 1-1 0 1 0-3 5 0 2 2 2 5 0-3-2 4 0-3-1 0 0 2-2 0-4-3-4 0-1 4-3 0 0-3-1 0-3-1-2 1-3 3-1 0-4-1-1 1-9 0 0 0-4-4-1 2-10-1-6 0-8 1-3-1-1 0-1 0-1 1-6-1-16 1-1 0-1 0 0-2-2 2-2 0-6-2-9 4-9-3-2 2-3 1-1-2-1 0-4 1-1-2-1 0-2-1 0 2-3 2-4-2-4 0-11-1-3 3-1-4-6 4-1-3-3-1-1 2-2-2-1 2-1-1-13 2 5 6 0 0 2 0 1-2 5-1 2-1 2 0 3 4 1-3 3 0 5 0 2-1 1 3 4-1 3 2 6-2 4-1 2-1 5 3 1 0 0 0 2-3 1 4 0-1 1-2 2 1 0 0 6-1 1 2 5 1 13-2 1-1 4 0 2 1 4-1 3 0 3-1 3 4 2-1 0-1 1 2 5-2 4-1 0 3 10-2 1-2 1 4 0-4 10 2 1-1 6 1 0 1 2 0 12 1 1-3 4 2 2-2 3 1 7-2 1 0 2 3 4-2 7 2 2-2 1 0-2 4-8 1 0 3-2-1 0-2-9 3-2-4-4 2-1-2-3 0-3 3-4-1 0 0-2-2-2 0-3 0-1 4-3-1-5-2-1 3 0-1-10 0-1-2-5 1-1 1-2-1-2 0-5-2-1 0-1 1-7 3-3-3 0 3-1-3-2 0-3 1-6 1-4-3-3 1-15 3-2-2-1 1-5 0-2-1-2 1-5-2-3-1-5 4-2-4-1 0 0 0-5 1 0-1-3 0-3 0-1 0-3 3-3 1-2-4-3 3-7 0 0 1-1-1-4-2 3 6 1 1 1-2 1 2 2-1 2-1 3-1 1 4 0-1 2-3 0 4 1-4 8 0 2 0 3 0 3 0 1 1 7-1 1 2 2-2 4 2 2 1 1-3 2 2 1 0 1 1 2-1 3-2 3 2 1-2 1 4 2-1 2-3 2 4 4-3 3 1 7 0 7 0 0-2 2 0 2 4 0-3 1 2 0-2 2-1 2 3 3 1 5 0 1-2 2 2 2-2 3-1 2 2 2-3 5 1 0 1 3 0 3 2 0 0 5 0 4-2 5 1 6 1 2-4 1 4 3-2 5 0 4-1 1 1 3 1 1 0 7 1 6-3 0 1 5-1-6 5 0 3 0-1-10 0-7-1-6-1-1 3-1-1-1-3-2 2-1 1-2-3-9 2 0-1-1 3 0 0-2-2-2-1-10-1-1 0-1 1-1 3-2 0-2-4-3 3-3 0-1-1-1 0-3 2-1-2-3-1-1 1-1 1-11 1-1-2-1 1-2 1-1-2-4 0-8-2-6 0-3 0-4 0 0 4-2-3-3 1-6-1-5 1-1-2 0 2 0 2-1-3-5 3 0 0-4-4-1 4-4-2-14-1-5 0-4 2-1 1-1 0-7-3 9 6 7 1 2-3 8 2 5 0 3 2 2-4 3 0 3 4 1-3 4 1 0-2 2 2 0 2 2 0 0-2 2 1 3-2 3 2 2 0 5-3 2 1 5 2 4-1 5-2 1 2 4 2 5 0 6-3 8 1 2-1 8 3 2 0 4-2 4-2 4 0 1 1 5 2 0 1 8 0 0-2 3 1 1 0 9-2 1 0 0 0 1 2 3-3 2 1 2-1 2 2 6 1 1 0 0 1 8-3 3 3 1 0 1-4-10 9-5-2-4 2-12-3-2 3-1-4-1 2-3 0-3 0 0 1-2-1-7-2-4 0-1 0-2 0 0 0-1 4-1-1 0-2-8 2-2-2-11 3-1-2-6-1-15 0-1 0-2 2 0 0-1-3-1 3-6 1-2-2-6-1-2 3-1-2-3-1-5 2-6-3-1 1-11 2-2-2-14 0-1 1 0 0-3-2-5 3 0-3 8 6 1 3 13-4 4 0 1 4 2-1 0 1 0-1 0-1 1 0 3 2 4-2 1-1 3-1 3 2 5 0 1-2 9 0 3 2 6-2 29 2 4-1 15 0 2 2 12-1 1 0 1 2 6-1 1-2 4-1 7 1 0 0 10-1 2 2 2 0 1-1 1 3 5 3-8 0-3-2-2 4-2-3-2 3 0-1-1-2-1 3 0-4-1 4-6-1-3-3 0 2-2-2-6 2-2-1-1-1-1 1-3 2-5-2 0 0-1 0-1 2-16 1 0-4-5 3-2-3-2 1-18-1-10 2 0 2-2-3-3 1-2-2-2 1-1 1 0 2-1-1-2 1-1-4-3 2-5-2-2 0-1 4-1-1-3 1-3-4-1 0 0 3-6 0-1-3-1 0-3 1-4 1-2-2-3 4 0-3-1 2-2 2 4 3 4 0 3-2 1-1 2 0 1 2 1-2 1 2 6 1 1-2 2 0 0 1 1 1 6 1 4-1 1-3 1 0 2 2 0-2 2 3 7-2 5 3 2 0 40-4 6 2 8 1 2 0 3 0 4-1 0 1 2-2 5 0 4-1 6 2 1-2 4 1 1 3 1 0 1-4 2 2 1 0 7-1-3 4-3 3-4-1-1 0-2-1-2 1-1 1 0-2-2 3-2 0-3-3-1 3-2-3-1-1-1 1-4-1-2 4-2-3-6 2-1-3-7 2-15-2-9 1-30 0 0 1-2 2-1-4-2 0-1 4 0-3-1 2-4-2-7-1-2 3-9-1-2-2-7 2 9 6 4-3 2 0 2 1 4 3 1-4 2 2 4 0 0-1 6 1 0 0 3 2 2-2 4-1 4 1 3-1 4 0 8 1 4 0 1 1 1 0 15-1 6-1 2 1 21 0 8-1 0 3 1-1 0-3 8 5-19 1-70-1-2 2-3-1-2 2 0-3-11 1-9 0-4-1 37 6 3 1 25 5-24 2-4-2-5-2 6 5" marker-start="url(#k32)" marker-mid="url(#k32)" marker-end="url(#k32)"/><path d="M827 335l-14 0-17 2-5 6 9 1 59 3-35-1-20 1-14 7 0-2 1 2 6-1 22 0 16-1 3 0 12 1 23 2-22 2 0 1-18 1-65-2-1 4 29 3 24 0 1-2 23 0 4 1 18-1 4 2 4-1 2-1 4 0 3 6-24 1-28-4-11 0-10 3-26-1 14 6 44 0 7 1 21-3 15 2 0-2 5 1-3 3-38 0-16 4-5 0-17-1-32-1-1 1 21 2 7 3 6 1 18-4 0 1 2 1 38 0 16 0 7-1 16 3-10 2-24 1-15 2-24-4-29 1-51 0 30 8 10-4 31 4 2-2 8 2 33-4 12 2 6 2-3 1-9 2-15-2-22 3-21-3-2 1-40 2-1-1-22-2-1 6 29 2 31-2 12 0 4 0 1 0 50 1 25 1 10 3-3 0-6 0-15 2-60-3-2 4-15 0-5 0-18-4-6 3 12 6 157 5-82-3-4 0 0 0-20-1-10 3-14 0-11-2-28 3-29-4 22 8 109 0 11-2 6 1 1 0 9-2 5 4 24 0 0-3-24 7-62 1-9-4-12 3-39-1-32-2 5 5 14 4 13-4 16 1 2 3 19-1 15 0 13-2 16 2 20 1 1-1 16-3 10 0 23 0-13 9-12-4-100 3 0 0-1-1 0 1-21-1-14 1-1-1 0 0-21 0 65 5 16-2 2 3 5-1 27-2 9 3 7-1 15 1 10 1 11-1-41 3-20 0-63 0-21 2-24-1-4 0 31 3 3 1 46 0 7 0 5-1 0 2 23 1 12-3 14 0 31 4 0-3 15 3-10 3-33 0-9-2-20 3-56-3-13 2-12 0-11 5 5-1 17 0 6 0 8 1 25-2 22 2 6 0 29 0 3 2 30-3 6 0 13 3-10 3-7 2-13-3-19-1-23 4-30-2-30 1-23-3-11 0-3 3 11 6 9-3 41 0 9 0 6 1 0 1 45-3 42 9-26-4-51 4-45-1-6 1-38-4 17 5 45 2 45 1 10-3 11 3 13 0 1-3 14 3 1-3 4 1-15 6-8-2-17 2-3 2-6-4-67 0-11 3-10 0-8 0-2-2-7 2 11 3 11 0 89 1 32 4-1 0-9-1-14 0-70 4-3 0-14-2-2-1-12 2-1-1 0 2 78 4 1-1-46 5-5 2-16-1" marker-start="url(#k33)" marker-mid="url(#k33)" marker-end="url(#k33)"/><path d="M799 334l40 5-25 3 9 1 12 1-45 1-16 8 15 0 5-1 15 2 6-2 13-2 0 0 5 4 7-3 9-1 20 2 7 7-16-3-9 2-75 5 53-3 4 4 47-4 16 4-59 5-1-4-74 4 17 4 22 0 1 0 1-1 5 1 10 0 3-3 5 0 7 1 11 1 5 0 46 2-3 3-4 2-8-1-8 0-22 0-33-3-22 2-3 0-15 4 9-1 11 1 3-1 1 3 2-2 31 3 7-3 30-1 2 2-1 5-14-1-3 3-62 0-4-3-7-1-24 5 60 3 28-1 8 2 6-1 25 0 24 6-4-4-22 0-7 0-22 2-26 2-4 0-36-4-30 8 1 0 13 0 12-3 101 4 3-3 8 0 12-1 22 0-2 6-4 0-50 1-2-2-30 0-50 1-42 4 5 1 36 3 6-4 26 2 15-2 59 0 9 3 12-1 22-1-12 6-5-2-24 2-12-2-26 1-6-1-5 2-7-2-12 0-3 1-17 3-6-2-12-1-13 5 29 3 25-2 23-2 17 3 42-1 27-2-50 5-89 0-10 2-3 0-4 1-21-2-19 6 7 0 11 2 17-2 92-2 13 0 50 1-3 4-6 0-20 0-93 4-24-3-22 3 11 4 11-2 23 1 9 0 7 0 1-1 14 0 16 3 7-1 3-1 10-1 7 1 13 0 9 1 0 0 7-1 20-2 9 4-2 4-18-2-20-1-9 3-7-3-7 3-8 1-10-1-17-1 0 2 0 0-15-3-6 2-8 0-2 1-32-3-8-1-6 0-19 3 35 2 28 2 4-2 23 4 19-3 10-1 0 2 36 1 14-3 30 6-47 1-1-2-13 0-30 2-7-1-3 1-51-2-2 2 23 5 26-1 66 6-34-1-21 0-18-1-8 2-2-1-31-1-22 6 53-1 9 0 22 3 7-1 26-1 2 3 13-4 9 4 0-4 11 0 19 1-59 4-81 3-1 3 14-1 7 3 70-2 8 2 37 0-98 6-9-3-9 2-20 0-2 4 20 0 44 2 41-3 2 3 8 0 13-2-15 6-13-2-30 3-56-4-14 2-1-1 18 5 3 2 1-2 70-1 26 0-80 5-4 0 9 10" marker-start="url(#k33)" marker-mid="url(#k33)" marker-end="url(#k33)"/><path d="M807 334l12-3 13 2 19 5-3 0-2-1-7 1-1-2-8 3-8-3-1-1-2 0-7 2-6 2-2-2-3-1-1-1-20 9 5-4 1 2 4 2 1-2 2 1 3-1 2-1 12 2 1-2 2 2 0-1 3-1 1 2 1 0 1-3 7 0 0 0 2 1 2 0 0-1 2 0 5 4 11 0 2-1 0 0 2 1 6-2 13 3-1 4-13-3-1 3-8-4-1 2-1 1-3-2-1 2-5 1-16-3-4-1-7 1-1 2-3 0-2-1-1-2-1 4-1-1-3-2-4 0-1 2-1-2-1 0-1 1-2 2-4-1-1-1-3-1-1-1-8 4-1-4-3 7 7 2 2-1 4 0 0-3 2 0 1 0 8 2 5 2 2-4 2 2 3-2 2 3 4 0 11 1 1 0 3 0 0-1 7-3 1 0 1 2 4 2 4 0 1-4 1 4 3-4 3 3 4 1 2-1 7-3 5 2 1-1 3-1 0 0 1 3 1-1 10 7-2-3-3 0 0 2-5-3-2 0-2 0-3 1-1 3-1-1-1-1-12 1-11-1 0-1-2 3-4 0-2-1 0 1-2-3-1 0 0 1-1 2-1-2-2-2-2 1-2 0-3 1-2-2-2 1-3 2-1-3-5 3-6 0-1-2-5 3-8-3-2 1-1 0-1 2-8-2-1 0-2 2-1-2 0 2-6 1 4 2 6-2 1 4 1-2 3 2 6-1 1-3 7 0 2 1 0 3 3-2 0-2 2 0 2 4 2-4 0 3 5-2 0 1 1-2 2 3 7 0 0-3 0 1 1 3 1-3 2-1 1 3 0-3 1 2 1-1 1-1 10 1 4 3 1-4 0 2 1 0 0 2 4-4 0 4 1-3 1 3 7 0 6-3 3-1 1 2 3 2 1-1 4 1 6-3 5 3 1 0 1-1 2-1 1 1 0 6-1-3 0 1-1-1-2 2-12-3-2 4-1 0 0-4-3 2-3 0-2 2-1 0-14 0-9-3-3 0-2 0-3 3-1-1-15-3-3 1-3 0-3 1-6 2-1-4-3 0-1 1 0 0-6 3-4-3-2 2-3 1-5 0-1-1-7-1-4-2-4 5 4 3 7-2 3 2 1-2 7 1 2-2 1 4 7-1 1-2 0 3 0-4 2 3 0-1 1 2 2 0 3-4 5 1 2 3 4-4 6 3 2-1 11 1 0-3 4 1 1 1 3 0 2 0 11 1 3-3 4 0 3 0 4 4 5 0 5 0 1-2 1 0 5 0 4-1 0-1 2 2 1 0 1-2 1 4 0 0 1-3 2-1 2 0 0 4 1 0 0-3 5-1-3 5-5 1-3 3 0-4-1 4-2-2 0 2-1 0-1 0-1-2-3-1-4 2-1-1-1 2-3 0-3-3-5 1-3 0-3 0 0 1-2-1-4 2-3-4-1 0-12 0 0 4-3-4-1 0-2 2-1 1 0-3-4 0-1 1-4-1-1 0-3 0-1 4-2-1-4-1-5-2 0 4-7-4-1 1-2 3-5-4-4 2 0-2-1 3-1 0-9 0-2 0-2-3 0 2-2 2-1-1-2-1 0-1 0 1-8 1 1 6 1-3 3 0 1 3 0-4 1 2 5 0 3 1 3-1 1 0 2-2 2 3 1-2 2 3 0-2 2-2 1 3 0-3 4 0 1 4 1-3 4 3 1-2 1-1 1 1 1 0 3-2 2 1 2 2 1-1 2 0 3-1 0-1 1 0 1 3 7-3 0 0 5 3 5 1 5-4 0 2 1 1 6-1 4-1 1-1 2 4 9-2 2-2 1 4 1 0 4-1 1-1 12-2 1 1 4 3 1 0 1 0 0-2 6-2 4 2 1-1 0 0 3 3 7 5-1-1-3-1-4 1 0 1-5-4-5 3-3-2 0 2-2 1-4-1-15-2 0 0-1 2-2 0-5-1-7 1-7 0-1-3-3 3-2 1-7 0-1-2-2-2 0 4-2-1-3 1-2-2-3 1-3-2-9 0 0 3-2-1-3-1-1-2 0 0-1 3-1-1-1 0-3-1-1 3 0-3-2 1-1-2-1 4-5 0-3 0-5-4-2 2-2-2-2 2-3-1 0 0-4 1-3 1-2 0-3-1-1 3 1 1 2-1 1 0 1 1 3 3 0 0 1-1 4-3 3 2 1-2 6 1 0 0 4 3 2 0 5-2 0-1 0 2 8 0 2-1 1 1 2 0 3 1 1 0 0 0 0-4 1 0 1 2 2 2 2-3 1-1 3 1 2 3 1-3 0 2 1-2 5-1 2 3 0-3 3 1 5-1 1 1 4 2 4-2 1 2 1 1 0-4 4 2 1 1 10-3 0 0 8 3 2-2 2 3 4-2 2 1 1-3 1 4 1-3 2 0 2 0 2 1 0-1 2-1 2 3 3 1 0 0 2-3 6 0 4-1 3 4 0 0 2 0 1 0 1-4 1 2 5 2 2-3 12 8-3 0-4 0-2-2-4-1-1 1-3-2-3 2-3 1-4-3-10 3-2-2-3 3-1-2-4-2-2 2-1-1-11 2-10-1-4 0 0-2-1 3-9-2-2 3 0-2-3-2-10 0-1 3-2 1-6-2 0 2-1-2 0-1-1-1-1 2 0-2-1 3-2-3-1 1-8 3-9 0 0-3-2 2-2 1-3-4-2 0 0 4-6-4-3 4 0-4-1 0-10 0-1 2-4-1-10 3-1 0-4-4 0 3 0 6 3-3 2 1 5 0 0-1 2 0 1 3 1-1 2-2 3 1 7-2 1 3 9-2 2 3 5 0 4-3 1 3 5 0 7-3 6 0 1 0 1 2 2 0 8 1 0-4 1 2 5-2 7 3 2-2 0 0 15 1 5 0 0 2 1 0 0-4 2 3 1-2 5 2 3-3 1 0 7 3 5-3 5 4 1-3 0 3 5-4 1 2 0 0 2-2 2 2 1 0 8-1 2 2 0 0 14 1 2-2 1 1 2 2-4 4-4-1-2-2 0 0-2 3-3-1 0 1-2 0 0-1-1-2 0 0-3-1 0 3-1-1-3-1-4-1-2 1-9 1-1 1-2-3-3 3-3-2 0 2-1-2-2 0-1 2-5 1-1-2 0 2-2-2 0 0-2-1-6-1-13 3 0-2-1 0 0 2-6-3-3 4-2-3 0 2-1-3-2 3-1 0-1 0-1-1 0 1 0-1-3 2-2 0-2-4-4 0-2 1-3-1-2 4-1 0-1-2-1 1 0-3-1 3 0 0-11-1-1 0 0 2-1-4 0 0-1 3-1 1-4-4-3 4-1-4-8 2-1-2-7 0-2 2-2 1-4 1-1-2-3 1-1 1-1 0-1-2 0-1-1 0-4 0 0 3-1-4-4 5 1 0 2 2 0 0 14-2 2 1 0-1 11 0 3 3 12-1 3 0 1-1 3 3 1-3 1 1 10-1 4 3 4-3 3-1 2 4 5-4 1 0 8 1 7 0 5 0 5 0 3 1 2 2 3-2 6-1 9 1 1-2 0 1 2 0 7-1 6 0 1 3 3 1 1-3 2 3 4-3 2-1 2 4 1 0 4-2 1-2 5 0 0 0 2 3 3 0 10-3 3 0 4 6-2 2-8 1-2-4-8 1 0-1-4 3 0-2-3-1-5 2 0 2 0 0-4 0 0-3-1 2-4-1-5 0-1 0 0 0-1-2-3 3-2 0-5-1-7 2-2-1-1 0 0-3-3 1-3-1 0 4-10-1 0-1-3 0 0-2-2 2-2-2-1 4-2-2-1-2-2 2-5 0-1 2-7-4-12 2-4 0-1-2-2 1 0 1-6 2-5-2-1-1 0 0 0 1-2 2 0-3-4 2 0-1-1-2-1 0-1 0-2 0-1 3 0-1-1-1-1-1-3 0-5 4-4 0-8-2 0 1-3-1-2 0-8 0-3 2-5-3-2 0 10 6 0-2 1 2 0-1 4 3 1-4 4 3 2-1 4 1 5 0 2-1 0 1 7-1 1-2 2 4 2-2 4 2 1-2 9 1 0 1 1 0 5-4 3 2 7-2 3 1 0 3 3-1 3-1 0-2 11 1 3-1 0 2 3 0 4 0 1-1 8 3 2-3 2 1 7 2 2-4 1 0 0 4 1-1 7 1 14-1 2-3 1 1 7 3 3-4 3 4 5-3 1 1 4-1 3 2 3 1 2-4 1 3 1-3 2 1 7-1 4 0-2 6 0 1-3-1-6 1-1 0 0 2-2 0-5 0-1-3-3 3-1-1-2-3-2 1-1 0-1-1 0 4-6 0-3-4-3 0-1 2-3-1-5 1-15 2 0 0-1-2-7 0 0 1-4-2-1 1-1-1-1 0-9 2-1 1-5-4-2 4-3-1-3-3 0 4-5-3 0 1-3 0-1 2-1-4-6 3-1 0-2 1-1-3-1 3 0 0-3-1-1-2-3-1-10 2-2-1-1 0-4 3-4-1-5-2-2 0-2 3-1-1-6-1-1-1-1 0-2 1-1-1-8 3 0-4-3 1-8 2-4-3 5 8 5-3 1 3 1 1 1-3 1 3 1-4 4 0 2 2 6 0 0 2 2-4 2 4 0 0 1 0 3-2 0 1 7 0 2-2 1 3 8-3 3 3 0-3 2 0 1 3 4-3 1-1 2 3 8-2 2 0 0 3 3-3 1-1 3 0 5 1 0 3 1-3 9-1 4 0 2 2 3-1 0 2 10-1 2-2 0 2 3-2 2 2 0-2 0 2 3-2 3 1 2 1 4 0 2 0 2-1 4-1 5 2 5 1 2 0 3-2 3 0 0 1 0 0 3 2 1-3 2 1 0-1 8 3 2-1 1 1 6-4 0 1 0 2 1-1 1 0 0 0 4 0 5-1 1 3 1 0 6-3-6 5-4 0-2 1-3 0-1 1-7 0-2-2-3 2-1 0 0-2 0 3-1-1 0 1-9-3-2 1-3 2-3-4-3 2-1-1-6 1-2-1-1 1 0 0-5 1-5-2-2 1-11 1-2-3-2 0-8 1-1 1-1-2-3 4-5-2-1 2 0-3-1 3-1-3-2-1 0 0-2 0-9 4-3-1-1-2 0 3-1-4-2 3-3-3-1 3-13 1-2-3-2 3-2-4 0 0-5 1-3 0-9-1-13 1-7-1 0 3-3-3-1 0 0 0-4 2 0 0-2 1-3 0 0-1-2-1 2 7 8-3 7 0 3 1 0 1 0-1 2 1 5 1 10-3 7 0 1 4 1-4 1 4 0-4 8 0 10 1 0 0 4 1 5 0 0-1 4 2 1-1 1-1 3 0 1 3 0 0 6-2 1 2 10-3 7 3 3-2 1 0 6 1 2-3 2 3 6-2 0 0 5-1 6 3 0 0 1-1 11-2 2 0 0 2 6 0 3 2 3-3 1-1 1 1 0 0 0 0 7 0 0-1 3 3 2 1 1-3 1 0 8 0 2-1 1 3 3 0 3-3 3 7-1 0-6-2-1 1 0 3 0-3-8 1-5 0-3-1-2 1-1-2-9 4-8 0-3-3 0-1-15 0-1 0-5 0-3 1-1 2-8-2-3 3-10-3-4 1-7-1-5-1-12 4-1 0-3-1-10 1-2-3 0-1-1 0-6 0-3 3-6 0-2-1 0-1-1 1-1-2-12 3-1 0-12-3-1 4 2 2 1 2 1 0 5-1 1-2 0 3 0-2 3-1 2 4 2-4 4 0 3 1 6 1 4-2 1 0 7 1 2-1 2 2 1 1 2 0 12 0 2-2 0-1 3 0 5 0 5 2 4-2 6 2 0 1 2-3 2 2 3 2 2 0 3-1 4-1 2 2 2-4 2 2 5-1 1-1 2 3 1 0 0-3 2 4 3-1 2 1 16-3 1 3 3-4 1 1 2 1 6 0 1 0 0-2 12 3 1-2 1-1 1 2 11 2 1-3-1 4-1 3-3-2-1-1 0 2-3-1-8 0-4 3 0 0-5-1-4 1-3 0 0-4-1 4-6 0-4-3-6 3-2-1-3-2-1 1-6 2 0-4-3 1 0 0-9-1-9 2-1 1-2-3-1 2 0 0-1 2-1-1-1-1-1-2-1 0-2 2-1-2-3 1-1 0-1-1-3 1-1 0-1 3-1 0-4-1-2-2-1 2 0-3-4 2-3 1-2-2-5 0-1 0 0 3-1-2 0 1-3-1-7 0-3 0-2 0-4 2-1-4-4 3-4 1-3 0-1-1-1 0-3-2-1 1 0-2 0 3-9 0 0 1-4-3-1 2-1-2-1 0-4 3 4 4 0-1 0 0 2 0 5-1 1 3 1-1 1 0 1 1 2-1 0-3 6 0 5 1 6-1 1 3 0-1 1-2 10 3 2-3 0 2 1-2 4 4 2-3 2 3 1-4 2 1 0 1 3 2 7-2 3 2 1-2 2-2 1 0 2 3 0 0 8-1 11 2 4 0 1-3 4 1 3 1 2 0 1-3 6 2 2 2 4 0 0-2 1 0 1-1 5 0 7 0 5 1 0 0 1 2 1 0 5-3 4 3 1 0 10 0 1-3 8 1 4 0 6-1 3 0-3 7-3 1 0-3 0 0-4 3-3-2-1-2-3 4-6-3-4 2-3-2 0-1-3 1 0-1-2 4-4-2-9 1-1-2-12 2-2 1 0 0-3-4-1 0-2 1-7 1-3 0-2-1-1-1 0 2-7-2-2 0-1 4-2-1-1 1-1-4-4 4 0-3-7 2-1-1-3-1-1 2-4-1-5 2-3 0-7-3-6-1-2 3 0-1-1 2-1-3-1 1-6 1-5 1 0-2-11-1-2-1-2 2 0-2 0 0-1 1-6 2-4 1-2-2-3 1-1-1 5 7 0-2 1 2 1 0 2-2 3-1 3 1 0 0 3 2 0-3 1 2 1-2 0 3 9-4 0 0 1 3 1-2 4 1 1-1 0 2 5 1 2 0 4-1 1-1 3 0 4 2 0-1 4-1 3-2 0 1 1-1 6 0 2 3 0 0 3 0 1 1 1-3 6 2 2-3 1 1 4-1 1 2 2 2 2-1 3 1 4 0 10-1 0-1 3 1 2-2 2 1 2-2 0 0 1 2 0-1 1-1 1 4 0-4 14 1 0 0 1-1 4 2 6-1 0 2 5 0 5 1 3-4 3 1 1 1 5 1 0-2 4 2 4-1 1 0-9 6-1-3-5 3-3 0-3-1-6-2-11 3-1 1-3 0-2-2-3 1-2-3-4 2 0 0-7 2 0-1-3-1-4-1-13 3 0-3-15 1 0 0-7 2-7-4-5 1 0-1-6 1-1 1-1-2-1 3-1-3-11 1 0-1 0 4-8 0-3-3-2-1 0 2-6 0-1-2-2 0-3 4-2-4-3 4 3 2 3 2 0-1 4 1 2 0 3 0 0-1 1 1 2-2 1 1 8-2 4 4 3-1 4 0 2 0 0 0 5-2 1 0 1-1 0 4 1-3 1-1 8 1 2 1 3 0 32 1 0-1 1 1 1 1 1-4 21 1 13 2 2-2 0 2 2-1 0 2 8 0 1-2 4-2 2 3 1-3 8 1 4-1 0 4-1 2-5-1-1 1-21 1-1 1-1-1-4 1-4-1-1-1-1 2-2 0 0 0-6-2-23-1-8 3-23 1-3 0 0-2-7 1 0-1-1 2 0-2 0 2-1-1-3 0-3 0-2-1-1 0-1 2 0-2-1-2-4 0 0 3-4-3-4 3-3 1 0-2 0 0-5-2-1 2-2 1 0-1-2-1-3 2-11-3 0 0 18 5 1 0 1 4 4 0 12-2 7 1 8-1 5-1 6-1 1 4 17-4 19 4 7-4 11 4 6-2 6-2 7 3 4 1 3-1 4-2 4 0 6 1-6 4-2 2-4 1-2-3 0-1-11 0 0 2-4 1-2-1-6 0-1-1-1 2 0-1-4-1-11 0-5-1-7 2-2-2-25 2-8-1-4 2 0 1-1-4-1 0-1 4-9-2-1 1 0-2-5 2-3 1-2 0-1-2-1 1-1-2 0-1 5 7 2 1 1 1 2 0 3-4 4 4 3 0 2-2 1 2 1-2 10 0 7 1 0-1 16 0 4 0 21-1 1-1 1 2 1 1 3-3 3 2 1-2 10 2 5-1 3 0 1 1 1-2 1 0 6 0 2 0 3 3-19 2-63 2-5-2 0 0-1 0-1 1-1 0-6 0 0 0-7 0 46 4-30 7-1-2-2 1 24 5" marker-start="url(#k32)" marker-mid="url(#k32)" marker-end="url(#k32)"/></g><g transform="scale(.5)" fill="none"><path d="M814 352l26 26-27-2 25 8 11 0 25 1-50 9 91 5-134-2 72 4 82 6-18 0-32 2-52 13 82 6-54-3-27 5 21 0 23 1 1 2 21 5 0 1-16-4-2 2-24 0-26 6 60-1 18 3-40 4-45-3-34 1 152 5-106 12 14-4 8 0 48 8-35-2-38 4 73 0-19 8-11-3 37 14-92 0-22 1 60 14 24 0 3 0 2 0 0 0 8 1-9 4-3-3-1 3 0-2-3-2-2 2 0-2-1 2-1 0-2-2-5 0-2 3 0 0 0-3-1 3-2-2 0 2-1-1-3 0-1 1-1 0-2-2-2 2-1 0-1-1-2 0 0 1-1 0 0 4 3-1 1 1 0 1 1 0 0-2 6 2 1-1 0 2 0-2 0-2 0 1 2 1 6-1 3-1 1 3 1-3 1 0 2 3 1-2 1 1 0 1 1-3 1 2-3 3-4 3-1-3-2 4-4 0-5-1-1-1-1 1 0 1-1-4-3 0 0 0-3 1 0-1-1 0 0 0-1 0-2 3 0 0 8 4" marker-start="url(#k34)" marker-mid="url(#k34)" marker-end="url(#k34)"/></g><g transform="scale(.5)" fill="none"><path d="M1178 337l-6 1-9-3-2 0-4 4-2 0-6 5 12-1 25 1 29 2-5-1-13 2-3 1-5-1-3-2-11 3-22 0 0-2-3 1-19 5 7 2 0-3 10-1 2 3 1 1 15-2 10 2 5-1 3 0 10-1 2 2 6-4 9 4 3-1 3 6-7-4-15 3-2 1-5-3-8 3-27-3 0 1-2-1-1-1-3 4-11-4-9 2-9 2 1 1 31 2 16 1 11-1 2 1 1 0 18-3 4 0 1 2 8 1 2-3 8 3 17 2-4 0-5 3-6 1-3-4-30 4-1-4-12 4-12-2 0-2-7 0-1 3-2 1-11-4-1 4-5-2-8 0-11 1-9 3 14 3 19-1 10 1 3-1 27-3 0 1 11 3 12 0 3-2 3 2 5-2 25 5-4 1-4-2-47 2-20 1-1-2-1 1-34 1-4-4-5 4-13 0 20 5 0-1 9 1 4-1 8 0 26-3 2 3 3-1 31-1 1 1 8-1 2 3 18-1 10 0-1 6-2-2-6-1 0-1-4 4 0-1-17 0 0 0-2 0-10 1-4 0-11-4-28 1-4 3-5 0-1-2-29-1 0 2-8 0-15-3-3 1 1 8 1-4 32 3 7-3 9 2 3 2 4-1 10 0 1 0 20-3 22 3 10 1 8-3 19 3 24 2-24 0-25-1-1 3-30-2-1-1-31 0-4 1-20 1-14 1-2 1 0-4-8 4-12-2-4 4 2 1 10 2 4-1 2-2 10 0 4 1 24-1 3 2 2 1 3-3 39 0 5 0 5 2 2 1 7-3 21 2 11 0 7 1 20 2-14 1-3 0-1-1-37 0 0 2-18-2-33 2-8-2-2 3-2 0-7-4-7 0-5 4-10 0-37 5 14-1 12 1 8-2 2 0 10-1 8 0 5 2 17 1 1-1 3-3 1 1 18 2 15 1 8-3 7 1 2 2 10 0 32 3-5-1-10 2-38-1-17 0-25 0-9 2-4-2-29-1 0 3-15 0-4-4-5 4-2-3-3 0 7 8 33 0 19-4 3 1 1 2 6-2 59 2 13 0 2-1 12 1-7 4-18 1-14 1-10-3-6 2-19-3-4 1-9-1-12 0-16 1-12 0-9 3-1-2-22 3 1 2 13-2 6 2 6 0 7-2 8 3 4 1 1-3 0 3 18 0 5-2 15-2 5 1 49-1 10 3 6 5-38-3-13 3-18 1-9 0-3-4-13 1-17 1-5-2-9 2-7-2-4 3-4-3-9 3-2 2 44 3 5-2 28 3 14-4 6 0 2 4 13 0 3-4 4 0 5 4 26-2 7 0-21 4-14 1-54 1-5-1-8 0-23 1-3 1-6 0-2-3-4 1-13 0-2-2 44 8 3-2 8 3 1-1 5-1 13 2 9-3 5 0 7-1 6 1 17 1 12-2 11 9-10-1-29-1 0-1-34 3-20-2-15-1-4 0-11 2-8 1-1 4 10 0 16-3 12 0 7 2 1 1 6 1 12-1 17-1 12 2 0 0 5 0 8 0 34 3 0 2-33-1-16 1-2-2-3 0-18-2-9 1-15 0-1 3-12-3-18-1-3 0-14 2 8 3 1 2 8 2 9-2 24 1 12 1 4-4 16 0 10 2 14 0 31 2 21 2-24-1-47 1-4-1-21 1-12 1-15-2-12 1-5-1 0 0 22 5 2 3 9 0 24-1 7-2 33 1 21 0 9 6-11 2-16 0-5-1-32 0-5-1-6 1-2 1-35-2-6-1-1 2 7 5 8-3 1 3 6-2 16-1 17 0 56 3 16 2-9 2-7 1-22-3-36 0-22 2-10 0-4 2 0-1 23 4 5-2 9 1 68 5-24 1 0 0-5-1-11 2-33-1-2-1-14 0 34 7-5 6-9-4 5 6 23-1" marker-start="url(#k35)" marker-mid="url(#k35)" marker-end="url(#k35)"/><path d="M1172 336l-14 3-21 4 8 1 36 0 3-1 18 5-10-2-2 3-3-4-9 1-9 0-7 2-13 0-9 1-4 0-18 2 20 2 14-3 2 4 3-1 3-3 32 2 0 1 26 5 0 1-21-1-55 1 0 0-8 0-23 5 1-2 2 0 22-2 16 3 8 0 6 0 3 0 19-1 2 1 6 1 1-1 6 0 9-1 2-1 23 0-16 5-9 1-5 1-5-1-11 2-10-2-4-1-7 3-9-1-2 0-2 0-3-1-10 0-6 0-6 2-7-4-5 4-2-3-3-1-5 0 23 8 18-3 18 4 18-1 6-3 11 0 12 2 11 0 3 2 12 1-7 2-2-2-12 1-9 2-33 1-1-4-18 3-3 0-2-2-12 3-17-4-2 2-21-2-1 2 11 3 3 1 1 2 7-2 21-1 1 1 11 2 17-3 9 4 9-3 1 1 1-2 16 4 0-3 3 3 10-3 9 2 3 0 0-3 4 1 6 1 19 6-18-1-7 1-6 1-9-4-17 4-5-4-5 4-24-1-15-2-5 0-5-1 0 2-5 2-2-3-3 2-1 1-4-2-3-1-31 0 12 6 0 1 8-2 5 3 8 0 6-4 3 4 1-2 11 2 4-2 17 1 6-3 4 3 6 0 59 1 16-1-27 6-16-1-12 1-13-1-9 0-9-2-18 1-13 1-6 1-2-4-2 1-30 1-11 0 4 5 28-2 13 3 27 1 5-2 1 0 3-1 18 0 12 2 2 0 25-3 14 4 7 0 6 0 2-1 15 3-4 2-18-1-7-1-15 3-7-2-6 0-9 1-10-3-7 2-8 2-11 0-8-1-18-1-3 1-11-3-34 1-3 1-6-2 17 5 0 2 24 1 9-2 2 0 13 3 10-2 0 2 29-3 12 1 13-1 1 0 0 3 17 0 10-2 4-1 13 1 5 1 1-3 14 4-41 1-9 3-3-1-8-1-11 1-3 0-6 0-25-1-3 1-11 2-33-3-19 2-16-2 6 7 4 0 40-3 8 0 0 3 6 0 0-2 5-1 26 4 1 0 6-2 17 0 10-1 12 3 1-2 2-2 3 1 3 1 46 4-8-1-12 0-40 4-23-3-11-1-9 0-5 1-7 2-40 0-4 0-2 0-14-3 8 9 0-4 5 4 5-2 1-1 4-1 12 4 6-4 4 0 2 1 1 1 2 2 3-1 2-3 2 2 1 2 3-2 1-1 20-1 4 4 9-4 6 0 1 2 12 1 8 1 1 0 0 0 5-4-15 9-7-3-9 1-42 1-8 0 0 0-5-1-17 0-15 1-4 0-1-3-29 8 63 1 0-3 19 1 3-2 4 2 8-2 34 3 5-2 4 0 58 2 2 2-18 1-38 0-6-1-12 1-25 1-12-2-17 1-5 3-6-1-1-1-4 0-9-2-1 2-29-1-1 1-14 2 15 1 6 4 3-2 12-2 25 1 10 2 62 1 17-2 19 1 26 0-52 3-4-1-7 2-6 1-2-1-12-2-7 4-17-3-20 2-5 0-3-1-17-1 0-1-4 0-1 2-14 2-12 0-4-3 4 5 2 2 4-2 2-1 4 1 27 0 5 0 5 1 1 0 36-2 2 0 3 1 5-1 9 2 1 0 9 1 18 1 36 5-85-2-12-1-1-1-4 0-8 1-5 2-5-2-5 1-3 0-10 2-12-4-6 2 14 7 10-3 10 3 25-1 16 1 6-3 28-1 4 0 3 5-4 3-13-3-10 2-23 1-18 1-2-1-8 1-35-2-7 1 28 5 1-1 0 2 9-3 2 0 8 1 19 0 73 7-14-2-4-1 0 0-27 0-37 0-2 1-7-2 0 2-6-1-2 2-3 1-4-1-6 0-3-3-6 1-3-1-2 4 1 4 7-1 1-1 3 1 8 1 10 1 79-1 10-2 25 1-3 3-93 1-7 3-25-4 9 5 7 0 12 2 2-2 18 2 8 0 29 0 7 3-9 4-6-4-4 3-17-1-1 1-5 0-3 0-13-2-7 4 19 3 5-1 23 1 2 0-8 4-10 2-3-4-9 3" marker-start="url(#k36)" marker-mid="url(#k36)" marker-end="url(#k36)"/><path d="M1196 339l-24-1-9-1-5-1 15 7 32 5-31 0-31 1-10 0-4-3 8 8 5 0 32-1 9-3 14 8-5-1-2-2-1 1-19-1-11 4-8 0-1 0-16-2-10 1-13 5 14-3 34 0 13 0 7 0 12 2 3 2 26-4-18 5-62 0-1 2-28 1 9 6 67-1 4-3 10 4 1 0 25-4 4 1 0 7-1-3-3 2 0-1-11 2-1-2-32-1-6 3-5 1-20-1-14-1-30 7 34-3 18 2 19 0 4 0 2 1 18-1 21 0 23-1 18 6-10-3-10 2-1 1-9 1-8-1-2-2-19 1-11 0-7 0-5-2-2 0-12 0-51 2-21 4 6 2 12-3 1 1 40 0 27 0 0 3 9-2 1-2 35 1 36 6-18 1-17 0 0-3-22 1-8 0-14 3-11-2-2-2-13 3-33-1 0-1-5 2-19 1 8 2 34 0 33 3 4 0 11-1 7 1 5 0 8-2 24 1 24-2 3 3 5-4 1 0 3 1 3 0 5 1 0 4-8 0-7 2-21-1-13 2-15-1-7 0-13-2-20-1-11 3 0-2-13-1-20 0-4 4-15 0-8-3 21 7 3-1 1 1 20-1 7 1 28 1 10-3 1 0 6 0 12 1 12 0 3-1 22 0 14 0 18-1 4 1-20 7-12 1-16-2-6 1-25-3-3 1-12 0-10 3-28-3-33 1-3 1-18-1 2 3 22 0 2 1 1 1 5 0 49 0 9 0 31-2 1 3 15 0 11-1 0-1 3 1 2 2 45-4-46 9 0-1-2-2-8 3-20-3-14 2-7 1-44-3-11 1-35 1-10-1 5 3 3 3 19 0 1-2 32 2 2-3 40 4 3-3 26 3 4-2 6 2 6-3 21 0 21 7-2-2-39 3-8-4-4 1-3 0-4-1-19 3-6-2-33 1-8-1-4 0-21-1-9 4-2-2-19-2-7 9 2-2 25 2 14 0 1-3 13 3 8-2 15 1 16 1 1-2 26 1 10 1 7-1 35-2 12 2 7 6-8-4-51 2-15 0-15-2-9 2-2 0-2 0-40-2-6 2-42 7 1 0 23-2 7 0 15-2 9 4 33-3 2 2 3-2 10 3 2-1 9 1 76 2-8 0-69 2-4-2-14 0-8 2-8-2-17 3-10-1-4-2-3-1-23 4-18 3 13-2 10 1 2 0 6 0 9 0 8 0 5 2 1-1 8-2 14 2 14 0 11 2 14-3 9 0 6 3 0 0 52 3 0 2-55-3-10 2-4-1-9-1-14 3-2 0-5-2-39 1-6 1-4-3-15 3-3 1 28 3 5-1 2 1 2-2 9-1 22 4 32 0 8-4 5 1 5 2 6-3 2 4-6 1-7 1-1 3-9-1-5-3-33 3-2 0-14-1-11 2-8-4-13 1 0 4 10 4 27-3 37 2 16 0 20 1 7-3-12 8-4 0-46-4-17 0-18 4-9-4-5 4-6-2-2 1 6 3 8 0 14-1 3 3 3 0 7-2 6 3 65 5-9-4-32 1-31 3-6-1-13-2-18 1 18 4 7 1 13 2 13-2 15 0 18 1 6-2-8 6-15 0-45-2 27 8 14 0 21-1-24 3-4 1-9 1" marker-start="url(#k37)" marker-mid="url(#k37)" marker-end="url(#k37)"/><path d="M1221 368l-2 44 73 5-169-2 76 7 69 1 10-2 6 3 5 0 7 3 0-2-5 4-2 0-1-1-1-3-6 2-16 0-1 2 0-4-4 3-151-2 151 4 1 1 9 0 1 1 0 0 14 1 4 1 2-1 5 0-8 5-10 1-10-4 0 3-2 1-2-3-8 8 0-4 0 1 0 0 1 0 6 3 3 0 0 0 2-4 9 3 1 1 3-4 1 4 11-3 4 7-2-1-1-1-6-1-4 0-1 4-2-4-5 1-2 1-8 2-1 0-13-3-4 8 8-4 7 4 1-3 6-1 1 0 5 4 4-4 1 0 6 2 4 2-4 5-2 0-4-2-7-2-6 1-2-1-3 4-4-2 0 0-2-2-2 1-7 1 5 7 6 0 2-4 4 2 5 1 5 0 3 0 1 0 7 1 11 0-6 4-5 0-5 0-7-1-6 0-2 1-1-2-3 2-9 0-2-1-3 0 0-2 3 8 3 1 11-3 1 2 1-3 2 1 4 0 2 1 6 1 1 1 8-2 4 2 1-4-4 9-11-2-15-2-3 4-5-1-3 0-1 0-1 0-2 4 1 0 2 1 10-3 4 1 3 0 0 0 11 3 1-2 0-2 2 3 2-2 5 6-5-2-3 2-3-1-6 2-2 1-1-2-9-2 0 2-11-1-9 8 8-1 1 1 11-3 7-1 2 0 3 4 0-4 2 0 2 0 5 6-3 2-4-1-1 0-1-1 0 0-1 0-2 1-4 2-1 0-1-4-2 1-3 0 4 7 0-2 9 4" marker-start="url(#k38)" marker-mid="url(#k38)" marker-end="url(#k38)"/><path d="M1189 338l-19 1-17-4-2 4-5-3-4 2-10 4 5 2 2 0 9-2 8-1 6-1 0 1 4 2 9-2 0 1 0-2 3 0 2 2 30 5-17-1 0-1-4 2-20-1-2 1-8-2-8 4-14-3-11 1-1-2-4 4-8 3 15-1 7 1 3 1 6-3 2 2 2-1 12 2 4 0 18-3 4 1 0 3 8 0 6-3 7-1 7 2 3 2 12 5-44-1-4-1-1 0-13 0-9 0-8 1-19-1-4 1-8-1-4 2-2-2 15 5 1 2 10-3 3 2 3-3 14 3 1 0 5-2 6-1 2 4 8-3 1 1 5 1 28 0 5 0 6-2-2 6-22 1-9 1-11-1-2-2-15 0 0-1-15 0-21 1-5-1-3 3-14-3 22 9 8-3 3 3 4-3 1 0 15 3 12-4 6 1 17 1 41 1 8 2-11 2-11 2-2-3-21-1-3 3-1-3-5 3-11-1-1-1-4 2-11-3-7 0-10 0-4 1-12 2-14-2-2 1-3-1 17 6 4 2 13-1 2 1 11 0 2 0 1 0 7-4 7 1 1 0 18 1 12 1 12-3 1 2 8 2 7 0 6-3-5 6-2 0-23 1-13-3-10 4-12-3-7 2-9-2-2-1-6 4-14-4-2 1-14 2-5-1-2-1-4 1-11 5 18-2 19 4 4-2 5 1 2 0 7-1 16 2 16 0 10 0 4 0 16-4 7 2 1 1 2 1 1-3 3 0 1 2 10 1 14 0 10 1-22 0-5 3-38 0-29-1-1 0-6-1-2 1-1 1-13-1-1 2-16-4-10 4-16-4-3 4-4-4-2 9 2 0 4-4 2 4 19-4 4 4 14 0 13-1 1-3 2 1 18 0 15-1 14 2 1 1 9-2 11 1 6 2 15-4 1 3 5-1 11 1 4-2 7 5-2 1-12-2-17 4-1-2-20 1-1-1-12 0-10 2-12-2-3 1-23-2 0 1-7 2-4-3-1-1-4 2 0-2-9 1-2 3-17-1-12-1-10 5 1-2 2 4 22 0 9 0 3-2 12 1 6-3 0 2 15 0 4 1 4 1 10-1 43 0 18 1 12-3 6 3 2-2 1 2 8-3-4 4-1 3-5-3-50 1-1 1-5 2-6-3-8 1-6 2-24-3-5 1-18-1-3-1-10 1-19 2-12 1 2 1 4 3 2 0 8-2 17 2 5-2 9 1 49-1 6 0 5-1 3 4 5 0 9-4 12 4 35-2 22-1-9 6-27-2-3 1-7 2-15-3-3 4-14-3-23-1-5 1-10-1-11 2-23 1-1 0-2 0-4 0-11-2-4 2-24-1 6 5 8 2 0-2 4 2 4-4 5 0 1 4 22-1 9-2 1 0 7 3 20-2 3 0 10 1 20-1 29-1 15 1 0 0-9 5-13-1-7 0-24 1-12-2-2 2-17-1-6 2-1-1-12 2 0-4-2 0-1 2-12-2-8 3-9-2-4 0-8-1-3 0 6 6 4-1 7 3 2 1 23-2 8-1 3 1 9 1 6-1 0 0 39 2 13-2 9 0-21 5-5-2-6 2-4 0-1 0-20-2-14 3-2-1-4 0-1-2-2 1-12 3-3-2-5 0-4 0-4-2-13 0-1 4-2-3-8 8 3-1 25 0 0-3 28 4 1-1 8-2 22 0 3 0 15 1 21 1 1-2 1-1 13 0-6 7-10 0-8 0-6-1-1-1-19 2-1-1-2 0-26 0-21-1-3 0 0 4-13-2-7-2 19 7 3 2 5-2 15-1 2-1 3 3 0-2 7-1 12 0 13 0 20 2 7-2 17 2 1 4-10 3-23-2-11-1-27 0-4-1-11 0-38 7 16 0 8-2 2 1 6-1 6 2 3 0 3 1 5-1 9 1 1-2 2 3 6-3 7 1 5-2 12 3 25 2 0 2-2 0-5 2-20 0-30 0-2-2-9 1-2 0-19-3-5 3-16 0 13 2 5 4 2-2 4-1 19 0 44-1 9 5-39 1-9 3-8-1-4 1-6-1-20-2-13-1 6 5 14 0 11 2 2 1 89 1 26-2-5 4-18-1-14 3-57-3-3 1-6 0-6 0-1 0-1 3-11-2-3 2 37 3 5 0 20 1 17-1 1 0-12 3-11 3-18-3-14 0-12 3 48 5 11-3-20 6-2 0" marker-start="url(#k35)" marker-mid="url(#k35)" marker-end="url(#k35)"/><path d="M1291 416l-10 0-1 3-138-2-40 4 177 0 2 0 3 1 2-1 6 2-2 3-10 3-5-3-3 0-4 2-4 1-1-3-2 3 2 3 10 2 20-4 0 4 6-3-12 6-7-2-1 4 0-4-9 4 0-3 0 3-2-4-1 1-1 2-1-3-1 3-4-1-5 5 7-2 1 2 0 0 5-1 3 0 6 1 3 1 5-2 1 3 1-4 1 1 6-1 3 7-3 2-2-1-4-3-7 2-1 2 0-2-4 0-4-1-1 1-1-2-14 4 0-3-6 1 1 7 3-2 4 0 12 0 3 0 3-1 4 3 0-3 3 2 0 0 12-2 1 0 1 1-3 4-5-1-4 1-7 0-3 3-5-1-8 1-7 0-3-4-1 4-1-2-2 2 0 5 0-2 12-1 2 3 2 0 10-2 0-2 4 1 6 0 8 0 0 2 5-1-6 7-21-1-3-2-3 0-1 1-3-1-10 3-2-3-19 0 20 5 5 1 1 1 5-1 3 2 1-3 1 0 6 0 5 1 6 2 4-1 4-1-9 4-5 3-16-1-7 1 5 5 1-3 7 2 4 0 7-2 8 1 0-2 0 2 4-1-13 6-3-1-1-1-7 3-5-3 0 3-11-2 5 4 4 1 10 1 4-1 6 1 1 0 3 1 4-2-16 5-8 3-4-3-4-1-1 4 3 3 7-2 1 4 5-4 3 0-89 5" marker-start="url(#k38)" marker-mid="url(#k38)" marker-end="url(#k38)"/><path d="M1194 339l-65 5 45-4 3 3-61 2 19 7 35 2 6-2 1-1 1 3 14-4 43 9-8-2-41 0-9 1-13 1-14 0-1-2-7 7 17-1 8 1 8-3 3-1 23 0 1 0 9 0 11 3 5-1 1 1 8 3-80 0-12 3-1-1-6-1-18 2-4-2-11 4 16-1 34 3 24-2 3 3 17-4 8 1 25 0 0 1 11 2-6 1-16 4-8-2-2 2-36 0-6-3-51 3-3-3-3 5 4 1 7 1 3-3 10 1 10-1 5 2 8 0 15-2 5 3 1 0 4-2 45 1 16 0-24 3-2 0-6 2-4 2-7 0-33-4-6 2-10 0-4-2-20 0 0 5 7 3 97-2 26 3 14 1-15 4-7-1-7 1 0-1-5 1-4-4-3 1-13-1-44 1-43 0 0-1-19 4-14-3 24 6 48-1 5 3 50-2 7 1 16-1 2-2 5 4 7 0 17 3-5 2-2-2-9 0-16-2-7 3-8-1-11 0-2-1-4-1-78 4-17-4-13 4-14 4 14-3 2 3 3-2 14-1 45 1 28 0 12 2 8-1 5 2 7-2 13 0 10-1 14 0 12-1 5 2 3 3-34 3-5-3-1 2-9 0-16 2 0-3-46-1-12 2-15 0-11 0-2-1-14 1-8 0-1 2-19 4 12 1 1-4 5 3 44-3 4 3 5-1 4-1 0 3 2-3 7 1 9-1 22 2 8 1 2 0 28-4 0 4 4-3 4-1 3 0 3 2 2 0 24-1-31 5-2 0 0 3-2-4-10 3 0 1-2-3-2 1-1-1-1 3-12-1-11 1-6-1-6 1-8 0-4-3-14-1-26 2-10 0-25 0-3 0 3 6 7-1 4 2 15-2 52-2 21 1 5 0 5 1 7-1 4 0 22 1-11 6-34-3-8 2-13 2-2-3-23 2-19-3-8 2-8-1-30 7 39 1 15 0 2-1 18-1 2 2 2-2 1 2 13-1 13 0 19-3 54 0-27 6-25 2-2 1-10-3-12-1-7 0-45 4-9-4 14 9 2-4 4 2 22-2 4 2 1 0 27 1 13 0 13 0 0 5-34-1-5-2-21 3-19-2-34 0-16 0-2 4 4 2 11 1 18-3 1 0 24 3 35-1 2-2 4 2 0 2 22-1 62 5-27-2-32-1-12 4-21-1-1-3-25 4-11-1-8 0-30-1-5 1-7 0 16 6 11-4 32 1 0 1 9 2 7-2 6-2 8 2 9 2 2-3 7 2 1-1 6 0 1 0 1-2 10 4 50-1-60 5-22-3-17 1-24 0-35-1-4 0-9 0-3 0 9 5 5 3 7 1 2-1 95-1 3 2 6-2 19 3-53 3-21 1-38 0-4-4-5 2-11 1 12 3 5-1 13 2 10-2 57 0 6 3 20-1-11 6-78-1-1 1-8 2 14 1 2 0 10 2 54 0 7-3 22 0-51 6-27-1-6 2-2-1-2 2-20-2-4-1 46 6 23-1 3 5-26 0" marker-start="url(#k37)" marker-mid="url(#k37)" marker-end="url(#k37)"/><path d="M1165 331l27 7-8-2-19 0-21 2-2 5 17 1 13-4 2 2 14-1 8 3 0 0 21 5-14-3-53 2-4 1-5-1-6-3 0 3-7 1 0-2-3 7 14 0 16-1 2-3 1 2 31-1 6-1 18 3 2 0 14 1-10 1-4 1-1 0-5 2-13 0-18 0-7-3-14 4-2-4-13 4 0-4-28 3 35 3 8 2 7-2 0 2 7-1 16-2 26 0 3 4 6-4 3 3 7 0 2 0 0 3-3 1-18 1-6-3-1 0-22 2-2 0-7 2-31-3-3 0-5 1-17-1-12 4 6 3 12-1 5-2 12 4 8-2 48-1 18-1 6 3 17-2-3 8-27-2-5 1-6 1-3-4-2 2-7 2-3-4-2 1-4 0-2 2-27-2-2 0-7 1 0 2-2-2-13 2-4-1 0-3 3 6 3 1 4-1 2 1 19 1 5 1 4-4 10 0 10 4 2-2 4 0 14 1 10 1 6-2 1-2 12 4 0-2 4 2 15 1-10 1-18 1-7-1-1 3-2 0-6-3-3 3-19-4 0 1-29 3-8-2-2 0-4 2-33-1-5 3 3 1 5 2 21 0 1-3 2-1 20 0 0 4 11-3 2 0 2 1 24 2 0-1 1-3 12 4 23-2 4-2 8 3 0 1 28-2 3 7 0-1-4-3-2 0-2 1-2 3-5-4-3 0-25 3-19 0-40-1-6 0 0-1 0 3-25-4-15 0-1 2-5-1-17 7 6-2 3 1 5-1 3-1 8 4 1 0 16-4 20 1 8-1 5 0 13 4 21 0 14-4 14 1 17 0 10 2 14 6-18-1-18-3-3 0-10 4-3-3-6 1-5 0-8 0-43 2-4-1-7-2-7-1-5 3-6 0-14 1-8-1 0 1-8 2 3 2 10 0 23 1 0-2 2-2 19 0 16 0 24 0 2 1 39 0 18 0 4-1 6 3-12 4-3 0-2 1-8-3-2 3 0-1-4 1-25-3-1 0-11 2-20 2-21-3-18 2-1 0-1-3-2 2-1-1-2 3-6 0-15-1-2 1-6-1-17 1 32 4 8-1 2 0 22 2 3-4 10 3 1 0 7 1 1-2 32 2 12-2 11 1 4 1 7 0 8-2 7-1 0-1-33 6-12 2-31 0-24-1-1-1-24 1-16 1-15 4 2-2 41 3 2-2 4 3 7-3 0 0 3 3 7-3 10-1 19 1 9 3 12-2 4 1 5 0 2-1 3 2 52-1-45 5-61 1-5-3-7 2-1-3-14 1-14 1-14 0-13-1-1 1 9 5 6 2 33-1 12-1 7 0 32 1 2 0 13-1 12 2 1-4 10 0 0 0-3 8-7-3-2 1-10 0-47 3-4-1-2 1-30-2 0-1-23-1-10 2 4 4 4 0 5 1 2-1 7-1 8 1 49 3 9-2 6-2 2 1 14 3 25-3 25 1 0-1-23 8-19-1-5-3-14 2-7-2-3 2-31 1-28-1-2-2-6 0-18 8 2-1 8 2 10-4 12 2 13-2 8 2 17-1 37 3 15 0 2-1 0-1 22 5-4-2-20 2-10-1-4 1-2 2-6 0-22-1-15-3-13 0-15 4-4 0-5-2-14-2-4 1-4 1-3 1 1 2 7 2 10-1 12 0 6 1 25 0 0-2 30 3 21-3 7 0 61 4-32 1-23 3-3-3-1 1-8 0-13 3-5-3-12 1-29-2-11 1-12 1-16 4 1 3 0-3 35 2 1 1 4-4 51 3 2 1 35-1 17-3 6 1-26 7-13-2-4-1-21 0-36 2-4 2-4-4-7 0-2 0-8 0 0 0-10 9 3 0 1-1 7-2 11 2 19-3 19 0 43 2 22 7-26-3-63 1-1-1-3-1-13 0-11 4-1-1 1 5 5 0 6-2 14 1 29 1 5 0 22-3 7 2 15 3-27 4-6-2-12 1-10 1-25-4 14 6 18 2-4 9" marker-start="url(#k36)" marker-mid="url(#k36)" marker-end="url(#k36)"/><path d="M1157 338l-11-2-1-1-14 6 54-1 9 4 3 0 19 2-24 2-10-3-19 1-28-1-6 4 20 2 21 3 0-1 4-3 2 1 2 1 4 2 6-3 14-1 17 3-1 3-10 1-22-1-12 1 0 2-1-2-29-1-15 2-2 1 11 1 2 4 8-4 16 1 43 0 3 1 15 0 9 1 1 6-16-4-3 1-9 3-25-4-26 1-2 1-8-2-22 4-4-4-8 2 5 6 2-1 47-2 54 4 21-4-11 8-3-1-25 0-8-2-15 1-14-1-6 4 0-3-5 2-3-3-9 0-32 8 35-1 14-2 25 3 5-1 19-2 24 4 12-2-64 3-3 4-4 0-31-4-36 6 3 2 0 1 15-3 11 2 17 1 5-2 4-1 3 3 6-3 3 0 9 1 13 0 12-1 27 2 14-1 5-1 7 6-29 0-27 0-34 2-53-2-10 4 4 2 6 0 27-2 14 1 7 0 11 0 15-1 40 3 11-3 0 0 6 2 7-3 6 2 21 3-12 2-3 2-1-1-26-3-4 4-4 0-2-3-37-1-14 4-18-3-10-1-5 1-28 1-7 0-1-2-2 5 7 1 30 1 0-2 3 4 15-4 31 1 13 1 1 2 4-2 16-2 0 1 24 3 7 0 5-2 5-2 5 4-7 3-8 2-16-4-26 1 0 3-18 0-10-4-41 4-11-1-2-2-23 1-17-1 19 6 23 0 30-1 6 2 4-3 14 2 55-1 29 3-46 1-11 3-5-1-17-2-5 3-19 0-4 1-4-1-33-2-3 3-18 0-15-4 30 9 1 0 3-2 0 2 7-1 15 1 1-2 18 0 13-1 17-1 17 0 8 2 8-2 51 7-32-2-4 2-9 0-5 2-35 0-6 0-1-3-24-1-7 4-19-3-5 1-40 1-2-2 3 7 17-1 7 2 10-3 9 0 20 0 15 0 11 3 9-3 11 1 9-2 2 3 6-1 0-1 10 2 13-2 0 2 1 0 24 3-23 0-23 0-20-1-45 4-2-4-33 3-10-3 8 8 53-2 3-1 20 3 9 1 3-1 2-3 3 4 0-2 3-1 1-1 12 4 5 0 48 2-43 2-7-2-28-1-2 0-33 1-6 0-14 2-2 0-9-1-8 1-5 1-10 0-7-2 1 5 7 0 5 1 18-3 29 4 17-4 18 0 9 2 6-2 12 2 1 0 6 0 45 7-53 0-15-2-2-1-2-1-17 2-16 0-9 2-15 0-28-4-1 0-10 4 9 4 3-2 64 2 8-3 24 3 8-3 59 1-51 4-14 3-4-1-13-1-24-1-10 1-40 1 4 6 3-2 13 3 15-3 1 3 1-3 13 2 55-2 17 7-18-2-23-1-32 4-10-1-1 0-9-1-6 2-1-4-8 4-2-1-13 1 32 4 0-3 13 1 76 7-6-1-9-2-66 4-27-2 0 0 7 5 84-1 13 2 5-1 3-1-47 8-26-4-3 1 22 6 1 2 8-3-8 7-21-3 22 7" marker-start="url(#k37)" marker-mid="url(#k37)" marker-end="url(#k37)"/><path d="M1178 333l16 5-9 1-17-2-1-1-31 6 22 1 2-1 3 2 1-1 1-2 3 3 3-4 4 0 5 4 24-1-22 6-32-2-1-1-9 1-6 2-9-4-8 5 4 4 5-4 3 0 6 4 11-2 5 1 10 0 13-2 12 0 2 3 12-1 17 2-2 1-5 2-13 1-17 0-4-2-10-2-2 2-10-2-9 3-32 5 1-3 4 1 3 2 18-3 10 4 5-1 1-2 8 0 6 0 16 3 7 0 18-4 4 4 1-1 16 1 2 2-2 3-21-1-9-3-22 0 0 1-39 0-7 3-6 0-20 5 19-2 12 2 0-2 11 1 26-3 5 2 5 1 4 0 14-3 12 4 19-1 3-1 9-1-5 4 0 0-3 2-2-2-4 4-6-1-4-1-1 2-7-2-4-2-34 2-6-1-6-1-2 0-12 0 0 4-14-4-5 2 0-2-12 4-8-2-8 7 4-3 2-1 8 3 3 0 10-2 2-1 11 1 5-1 4 4 2-2 5-2 19 4 16-4 15 4 5-1 1-1 11-1 5-1 3 3 17 5-14 1-20-2-4-1-9 2-14 1-13-2-12 1-19-3 0 3-6-1-4-2-1 1-12-1-23 5 13 1 4 2 6-2 12 0 0-1 9 3 7 1 0-3 18-1 6 0 16 4 1-4 23 4 10-1 1-2 8 1 2-1 1 3 10-4 13 0 1 3 19 6-3 0-4 0-2-1-4-2-1 1-15-2-11 0-11 1-10-1-14 1-13 3-2-4-11 3-6 1-5-3-12-1-5 0-4 2-2 1-6-3-2 4-9 0-1-4 0 0-14 1-15 2 4 5 2 0 4-1 10 2 12-3 33 0 3 3 2 0 46-1 6 1 14-3 2 0 6 3 4-3 31 4-3 3-4 1-5 0-4-1-4-2-24 1-9 2-12-3-14 2-11-3 0 1-5 2 0-1-16-2-20 4-8-3-10 2-24-2-9 4 4 3 1-2 49 1 10 0 63-2 5 3 2-1 8-2 6 0 20 3 6-3 18 0-8 6-12 2-13-2-4 1-5 0-7 1-12 1-2-1-17-1-1-1-10 1-7 1-25-3-2 3-7 1-6-1-2-2-10 2-4-3-6 4-16-2-9 0-3 2-7-2 12 4 21 0 1 1 0 2 16 0 10 0 39-4 6 2 11-1 13 3 1-1 23-3 10 0 4 4 33-3-30 5-13 2-9-1-14 2-47 0-1-3-11 1-1 2-13-4-6 1-25 2-4-1-13 6 19-2 4 2 23-2 20 3 3-3 1-1 8 4 5-4 9 0 5 1 9 2 7-1 1-1 3 0 11 2 6-2 5 1 7 1 2-2 10 0-9 5-6 1-6 0-12-2-16 0-12 1-10 3-6-4-16 4-21 0-27-4-8 4-5-4-2 0-9 3 8 2 7 0 2 3 22-2 2 0 12-1 18 1 5 3 16-3 24 3 2-2 13-1 8 1 12-2 40 6 0 3-39-3-15-1-19 1-5 3-17 0 0 0-1-3-5-1-9 0-3 4-23-4-13 0-13 3-4-2-6 7 17-3 10 2 4-1 0-1 8 1 5 1 2 1 11 1 29-2 4-1 8 2 7-1 5-1 0 0 9 2 17 0 4-2 4 2-28 3-1 3-2-3-24 2-3-3-3 3-3-1-7-1-35 2-10-3-10 4-2 0-4-3-9 2-5-2-1 2-6 1 14 4 4-3 5 0 6 2 21-1 8 3 1-4 0 0 12 3 7-2 10 2 34 1 23-2 23-1-2 5-43-1-1 0-2 2-7 0-3 0-10-1-20 1-3 1-8 0-22-1-6 2-6-2-11-1-1 0-15 7 7-2 6 3 11-4 2 3 5 0 12 1 25-4 12 0 10 3 0 0 22-2 5 2 0-2 2-1 4 1-43 7-15-3-11 1-3 2-12-2 0 3-3 0-9-4-24 0-2 0 28 7 2-2 5 1 14 0 0 3 7 0 9-2 7-2 31 2 1 1-45 6-4-1-7 0-25 0 0 0-15-3 17 5 34 3 38 1 9 0 8-3 18 5-6 1-4 0-16-1-8 1-28-2-11 1-20 3-6-4 8 9 3 0 10 0 2-2 2 0 17 0 41-1-12 4-42 2 22 6 17-3-12 8-7-3-3 3-4-3" marker-start="url(#k36)" marker-mid="url(#k36)" marker-end="url(#k36)"/><path d="M1196 339l-46-1-7 4 13 2 60 5-23-3-2 2-2-2-1 3-33-3 0 3-11-2-6 1-1-1-17 6 16 0 3-1 5-1 4-1 46 0 23 0 0 1 7 6 0 2-12-3-7 1-6-2-15 4-9-1-8-3-6 1-2 1-4-1-36-1-1 3-9 2 12 3 10-3 12 0 11 2 13-2 2 4 1-1 17 1 1-1 4-2 1 1 49 2-8 3-5-2-10 1-25-1-11 2-1 2-7-1-15-3-10 3-10-2-10 1-22 3 6 2 10 1 4-3 7 4 1-3 11 3 0 0 9-4 6 4 1-2 1 1 11 1 8-1 13 1 12-4 8 0 5 3 6 0 4-3 2 2 2-2 6 2-2 4-3-1-1 4-1 0-16-1-11 0-3 1-8 0-15-4-6 0-4 0-30 3-7-2-6 2-13 0-2 0-3-1 0 0-8 1 2 3 9-1 1 2 9 0 2 1 7-3 5 1 5 0 1 1 5-1 7 1 12-1 6 3 8-4 16 4 31-2 4-2 13 1 10 8-1-1-7 0-5-2-8 3-7-1-29 1-8-4-5 4-37-1-1-3-8 2-2 0-9-2-9 0-6 2-4-2-4 3-3-1 2 3 0 0 1 0 26 0 8 0 3 4 5 0 6-4 6 0 5 3 1 1 8 0 3-3 5 0 8 1 8 2 10-3 10 0 26 1 16 2-18 2-4 2-4-3-5 0-6 0-4 3-14 1-10-3-1 2-14-2-10 0-1 1-2 2-1-3-32 0-4-1-3 3-24 1-2 3 34-1 1 3 42-4 4 0 10 2 20 1 0-2 0 3 1 0 12-3 28 2 24-3 3 2 1 2-16 2-11-1-2 2-33-2-18 1-2 1-10 2-3 0-2-1-1 1-5 0-2-4-5 0-2 1-8 2-1 0-10 0-1 1-1-2-7-2-3 1-9-1-20 3-2-2-6 0-1 0-4 4 3 3 3-3 14 1 34 0 19 1 10-1 0-1 6 1 3 0 3-1 28 1 29 0 11 3 6-4 20 1-13 5 0 0-12 3-14-2-12-2 0 2-14-1-15-1-2 2-2-2-3 2-1-2-8 4-8-4-7 2-5 1-17 0 0 0-2-2-6 2-1-3-2 1-16 3-5 5 4-1 34-2 23 1 14 0 26-2 45 2 4-1 9 2-32 4-7-2-21 2-6 0-32 0-9 1-5 1-6-4-9 0-1 1-2 0-5 3-7-4-16 1-2 2-9-3-3 1-7 2-6 5 6 0 11-2 3 0 17-1 9 1 19 0 40 2 2-3 2 4 28-2 26-2-16 6-11 0-2 1-11 2-13-2-9 0-5-1-14 3-27-4-38 4-4-4-3 2-1 1-2 0 15 4 28-1 17 0 5 2 9-3 12 2 48 1 56 6-61-3-1 2-34-1-15-1-4 3-12 0-14-1-18-2-33 3 17 2 3 3 5-2 1 0 3-1 2 3 1-3 8 0 20-1 2 2 5-2 11 1 24 2 17-2 13 2 1-2 9 5-28 1-1 2-6-1 0-1-6-1-3 0-6 3-5-1-2-2-1 0-4 1-4 1-9 1-3-1-16 1-8 0-26 4 43 1 1-2 26 2 1-2 1-1 3 3 1-1 3-2 14-1 2 4 5-3 7 3 2-1 6-1-13 6-8-3-1 4-20-3 0 0-20 0-8 1-2 0-12-2-15 2-7-2-9 3 15 4 4 2 10-4 7 3 4 1 2 0 13-1 8-3 11 4 2-3 14 2 2 1 28-3 2-1 10 9-68-4-9 0-11 1-13 1-7-2-6 5 1 2 4 1 6-1 18 2 5-1 9-2 2-1 9 2 39-1 24 7-1 0-62-1-7 1-1-1-4 1-5-1-19 0-5-2 1 5 26 2 14-2 61 7-17-1-8 3-6-4-25 2-12 1-3-2 0 3-15-1-6-1 14 4 2 2 22 0 21-1 18 2 3 0 2-1 4-2-46 6-5-1-2 0-15 0-4-1 41 6 18 1-39 5-2-1" marker-start="url(#k35)" marker-mid="url(#k35)" marker-end="url(#k35)"/><path d="M1169 356l120 62-9 1-6-2-80 0 78 7 5-3 11 0 2 7-3-2-6 1-3 2-5 0-5 0-2-3-2 0-15 7 11 1 1-3 1-1 9 4 3 0 6-3 0 1 0 2 1-2 1 0 0 1 1-2 3 2 5-2 2 6-1-2-3 1-6 3-7-1-2-1 0-2-4 4-1-1 0 1-12-1-2 2 1 4 0-1 1 1 3-2 3 0 0-1 7 1 0-2 3 4 3-3 6 0 6 3 3-1 5 5-4-3-2 0-1 2-15-2-21 4 2 5 6-4 6 1 0 1 15-2 15 7-3-2-1 4-3-3-1 1-20 1-4 1-3-3-1 3-10-3-2 0-1 5 5 2 12 1 9-4 10 2 4 0 6 0 3-1-6 5 0 0-7 1-1-2-3 4-5-4-8 0-3 1-2 3-4-1-3-3-6 3 0 3 1-1 2 1 2 0 6 3 3-4 2 3 8-2 1 0 3 1 5 2 0-2 0 7-6-1-4 0-2-3 0 2-6-1-15 3-2-2 4 6 1-3 7 4 2-2 0 2 8 0 7-1 11 1 2 0-1 2-5-1-1 1-21 1-6 1-4 0-1-1-1 1 8 6 4 0 4 0 0 0 3-1 8-1 0 4-2 2-6-2-5 2-6-3 5 7 2-2 3 0 3 0 5 3" marker-start="url(#k38)" marker-mid="url(#k38)" marker-end="url(#k38)"/></g><rect x="368.60" y="0.50" width="112.00" height="108.70" fill="none" stroke="#333" stroke-width="1"/><rect x="541.50" y="0.50" width="112.20" height="108.70" fill="none" stroke="#333" stroke-width="1"/><rect x="368.60" y="161.20" width="112.00" height="105.90" fill="none" stroke="#333" stroke-width="1"/><rect x="541.30" y="161.50" width="112.30" height="105.70" fill="none" stroke="#333" stroke-width="1"/><text x="425.40" y="120.30" font-size="6.3" text-anchor="middle" font-weight="normal" fill="#231f20">UMAP1</text><text x="361.50" y="52.60" font-size="6.3" text-anchor="middle" font-weight="normal" fill="#231f20" transform="rotate(-90 361.50 52.60)">UMAP2</text><text x="598.40" y="120.30" font-size="6.3" text-anchor="middle" font-weight="normal" fill="#231f20">UMAP1</text><text x="533.40" y="53.20" font-size="6.3" text-anchor="middle" font-weight="normal" fill="#231f20" transform="rotate(-90 533.40 53.20)">UMAP2</text><text x="425.40" y="278.20" font-size="6.3" text-anchor="middle" font-weight="normal" fill="#231f20">UMAP1</text><text x="362.40" y="213.80" font-size="6.3" text-anchor="middle" font-weight="normal" fill="#231f20" transform="rotate(-90 362.40 213.80)">UMAP2</text><text x="598.25" y="278.30" font-size="6.3" text-anchor="middle" font-weight="normal" fill="#231f20">UMAP1</text><text x="535.10" y="213.80" font-size="6.3" text-anchor="middle" font-weight="normal" fill="#231f20" transform="rotate(-90 535.10 213.80)">UMAP2</text><defs><linearGradient id="cm" x1="0" y1="1" x2="0" y2="0"><stop offset="0" stop-color="#24184a"/><stop offset="0.09" stop-color="#2e3886"/><stop offset="0.17" stop-color="#3554a8"/><stop offset="0.245" stop-color="#3a76c0"/><stop offset="0.32" stop-color="#3a96c0"/><stop offset="0.397" stop-color="#38a8a0"/><stop offset="0.47" stop-color="#60bc70"/><stop offset="0.551" stop-color="#a8cc48"/><stop offset="0.62" stop-color="#e0d030"/><stop offset="0.706" stop-color="#f0a020"/><stop offset="0.78" stop-color="#e0601c"/><stop offset="0.858" stop-color="#b82a20"/><stop offset="1" stop-color="#7a1820"/></linearGradient></defs><rect x="488.6" y="41.1" width="8.8" height="40.6" fill="url(#cm)"/><rect x="662.2" y="40.8" width="8.3" height="41.3" fill="url(#cm)"/><path d="M488.6 46.8h1.8M495.6 46.8h1.8" stroke="#fff" stroke-width=".6"/><text x="500.20" y="48.90" font-size="6.2" text-anchor="start" font-weight="normal" fill="#231f20">0.02</text><path d="M488.6 53.0h1.8M495.6 53.0h1.8" stroke="#fff" stroke-width=".6"/><text x="500.20" y="55.10" font-size="6.2" text-anchor="start" font-weight="normal" fill="#231f20">0.01</text><path d="M488.6 59.3h1.8M495.6 59.3h1.8" stroke="#fff" stroke-width=".6"/><text x="500.20" y="61.40" font-size="6.2" text-anchor="start" font-weight="normal" fill="#231f20">0.00</text><path d="M488.6 65.6h1.8M495.6 65.6h1.8" stroke="#fff" stroke-width=".6"/><text x="499.80" y="67.70" font-size="6.2" text-anchor="start" font-weight="normal" fill="#231f20">-0.01</text><path d="M488.6 71.8h1.8M495.6 71.8h1.8" stroke="#fff" stroke-width=".6"/><text x="499.80" y="73.90" font-size="6.2" text-anchor="start" font-weight="normal" fill="#231f20">-0.02</text><path d="M488.6 78.0h1.8M495.6 78.0h1.8" stroke="#fff" stroke-width=".6"/><text x="499.80" y="80.10" font-size="6.2" text-anchor="start" font-weight="normal" fill="#231f20">-0.03</text><path d="M662.2 54.3h1.8M668.7 54.3h1.8" stroke="#fff" stroke-width=".6"/><text x="672.80" y="56.40" font-size="6.2" text-anchor="start" font-weight="normal" fill="#231f20">0.05</text><path d="M662.2 68.9h1.8M668.7 68.9h1.8" stroke="#fff" stroke-width=".6"/><text x="672.80" y="71.00" font-size="6.2" text-anchor="start" font-weight="normal" fill="#231f20">0.00</text><text x="488.80" y="19.90" font-size="6.2" text-anchor="start" font-weight="normal" fill="#231f20">MED</text><text x="488.80" y="27.45" font-size="6.2" text-anchor="start" font-weight="normal" fill="#231f20">potential</text><text x="488.80" y="35.00" font-size="6.2" text-anchor="start" font-weight="normal" fill="#231f20">score</text><text x="662.20" y="19.90" font-size="6.2" text-anchor="start" font-weight="normal" fill="#231f20">ECD</text><text x="662.20" y="27.45" font-size="6.2" text-anchor="start" font-weight="normal" fill="#231f20">potential</text><text x="662.20" y="35.00" font-size="6.2" text-anchor="start" font-weight="normal" fill="#231f20">score</text><path d="M393.3 129.4h4.6v14.4h2.5l-4.8 7.1-4.8-7.1h2.5z" fill="#e06b60"/><path d="M568.2 129.4h4.6v14.4h2.5l-4.8 7.1-4.8-7.1h2.5z" fill="#e06b60"/><text x="405.00" y="138.70" font-size="6.2" text-anchor="start" font-weight="normal" fill="#231f20">GMM decomposition</text><text x="405.00" y="147.60" font-size="6.2" text-anchor="start" font-weight="normal" fill="#231f20">&amp; classification</text><text x="580.00" y="138.70" font-size="6.2" text-anchor="start" font-weight="normal" fill="#231f20">GMM decomposition</text><text x="580.00" y="147.60" font-size="6.2" text-anchor="start" font-weight="normal" fill="#231f20">&amp; classification</text><text x="488.80" y="182.60" font-size="6.1" text-anchor="start" font-weight="normal" fill="#231f20">Cell</text><text x="488.80" y="190.10" font-size="6.1" text-anchor="start" font-weight="normal" fill="#231f20">groups</text><circle cx="489.8" cy="201.2" r="1.5" fill="#a9d3e2"/><text x="495.50" y="203.60" font-size="7" text-anchor="start" font-weight="normal" fill="#231f20">M1</text><circle cx="489.8" cy="212.6" r="1.5" fill="#bedcbf"/><text x="495.50" y="215.00" font-size="7" text-anchor="start" font-weight="normal" fill="#231f20">M2</text><circle cx="489.8" cy="224.0" r="1.5" fill="#d01c2c"/><text x="495.50" y="226.40" font-size="7" text-anchor="start" font-weight="normal" fill="#231f20">M3</text><text x="660.80" y="177.70" font-size="6.1" text-anchor="start" font-weight="normal" fill="#231f20">Cell</text><text x="660.80" y="185.20" font-size="6.1" text-anchor="start" font-weight="normal" fill="#231f20">groups</text><circle cx="662.4" cy="197.0" r="1.3" fill="#2461a8"/><text x="667.70" y="199.40" font-size="7" text-anchor="start" font-weight="normal" fill="#231f20">E1</text><circle cx="662.4" cy="206.8" r="1.3" fill="#1b9c9c"/><text x="667.70" y="209.20" font-size="7" text-anchor="start" font-weight="normal" fill="#231f20">E2</text><circle cx="662.4" cy="216.6" r="1.3" fill="#a9c83a"/><text x="667.70" y="219.00" font-size="7" text-anchor="start" font-weight="normal" fill="#231f20">E3</text><circle cx="662.4" cy="226.4" r="1.3" fill="#d42a3a"/><text x="667.70" y="228.80" font-size="7" text-anchor="start" font-weight="normal" fill="#231f20">E4</text><defs><marker id="k0" markerUnits="userSpaceOnUse" markerWidth="1" markerHeight="1" overflow="visible"><circle r="1.9" fill="#20b2b8"/></marker><marker id="k1" markerUnits="userSpaceOnUse" markerWidth="1" markerHeight="1" overflow="visible"><circle r="1.9" fill="#e8746b"/></marker><marker id="k2" markerUnits="userSpaceOnUse" markerWidth="1" markerHeight="1" overflow="visible"><circle r="1.9" fill="#1fb8bc"/></marker><marker id="k3" markerUnits="userSpaceOnUse" markerWidth="1" markerHeight="1" overflow="visible"><circle r="1.9" fill="#ef736b"/></marker><marker id="k4" markerUnits="userSpaceOnUse" markerWidth="1" markerHeight="1" overflow="visible"><circle r="1.9" fill="#2ab34a"/></marker><marker id="k5" markerUnits="userSpaceOnUse" markerWidth="1" markerHeight="1" overflow="visible"><circle r="1.9" fill="#b39c1a"/></marker><marker id="k6" markerUnits="userSpaceOnUse" markerWidth="1" markerHeight="1" overflow="visible"><circle r="1.9" fill="#c86cb8"/></marker><marker id="k7" markerUnits="userSpaceOnUse" markerWidth="1" markerHeight="1" overflow="visible"><circle r="1.9" fill="#5f91d8"/></marker><marker id="k8" markerUnits="userSpaceOnUse" markerWidth="1" markerHeight="1" overflow="visible"><circle r="1.35" fill="#3a99ba"/></marker><marker id="k9" markerUnits="userSpaceOnUse" markerWidth="1" markerHeight="1" overflow="visible"><circle r="1.35" fill="#3a78c0"/></marker><marker id="k10" markerUnits="userSpaceOnUse" markerWidth="1" markerHeight="1" overflow="visible"><circle r="1.35" fill="#292766"/></marker><marker id="k11" markerUnits="userSpaceOnUse" markerWidth="1" markerHeight="1" overflow="visible"><circle r="1.35" fill="#43ad93"/></marker><marker id="k12" markerUnits="userSpaceOnUse" markerWidth="1" markerHeight="1" overflow="visible"><circle r="1.35" fill="#39a3a9"/></marker><marker id="k13" markerUnits="userSpaceOnUse" markerWidth="1" markerHeight="1" overflow="visible"><circle r="1.35" fill="#3a8ac0"/></marker><marker id="k14" markerUnits="userSpaceOnUse" markerWidth="1" markerHeight="1" overflow="visible"><circle r="1.35" fill="#5ab978"/></marker><marker id="k15" markerUnits="userSpaceOnUse" markerWidth="1" markerHeight="1" overflow="visible"><circle r="1.35" fill="#3865b4"/></marker><marker id="k16" markerUnits="userSpaceOnUse" markerWidth="1" markerHeight="1" overflow="visible"><circle r="1.35" fill="#a0ca4d"/></marker><marker id="k17" markerUnits="userSpaceOnUse" markerWidth="1" markerHeight="1" overflow="visible"><circle r="1.35" fill="#c2ce3d"/></marker><marker id="k18" markerUnits="userSpaceOnUse" markerWidth="1" markerHeight="1" overflow="visible"><circle r="1.35" fill="#3553a7"/></marker><marker id="k19" markerUnits="userSpaceOnUse" markerWidth="1" markerHeight="1" overflow="visible"><circle r="1.35" fill="#da581d"/></marker><marker id="k20" markerUnits="userSpaceOnUse" markerWidth="1" markerHeight="1" overflow="visible"><circle r="1.35" fill="#24184a"/></marker><marker id="k21" markerUnits="userSpaceOnUse" markerWidth="1" markerHeight="1" overflow="visible"><circle r="1.35" fill="#7bc261"/></marker><marker id="k22" markerUnits="userSpaceOnUse" markerWidth="1" markerHeight="1" overflow="visible"><circle r="1.35" fill="#314495"/></marker><marker id="k23" markerUnits="userSpaceOnUse" markerWidth="1" markerHeight="1" overflow="visible"><circle r="1.35" fill="#ef9e20"/></marker><marker id="k24" markerUnits="userSpaceOnUse" markerWidth="1" markerHeight="1" overflow="visible"><circle r="1.35" fill="#e9b627"/></marker><marker id="k25" markerUnits="userSpaceOnUse" markerWidth="1" markerHeight="1" overflow="visible"><circle r="1.35" fill="#2d3682"/></marker><marker id="k26" markerUnits="userSpaceOnUse" markerWidth="1" markerHeight="1" overflow="visible"><circle r="1.35" fill="#e67a1e"/></marker><marker id="k27" markerUnits="userSpaceOnUse" markerWidth="1" markerHeight="1" overflow="visible"><circle r="1.35" fill="#e1cd2f"/></marker><marker id="k28" markerUnits="userSpaceOnUse" markerWidth="1" markerHeight="1" overflow="visible"><circle r="1.35" fill="#c53b1f"/></marker><marker id="k29" markerUnits="userSpaceOnUse" markerWidth="1" markerHeight="1" overflow="visible"><circle r="1.35" fill="#b12820"/></marker><marker id="k30" markerUnits="userSpaceOnUse" markerWidth="1" markerHeight="1" overflow="visible"><circle r="1.35" fill="#9e2320"/></marker><marker id="k31" markerUnits="userSpaceOnUse" markerWidth="1" markerHeight="1" overflow="visible"><circle r="1.35" fill="#7a1820"/></marker><marker id="k32" markerUnits="userSpaceOnUse" markerWidth="1" markerHeight="1" overflow="visible"><circle r="1.35" fill="#bedcbf"/></marker><marker id="k33" markerUnits="userSpaceOnUse" markerWidth="1" markerHeight="1" overflow="visible"><circle r="1.35" fill="#a9d3e2"/></marker><marker id="k34" markerUnits="userSpaceOnUse" markerWidth="1" markerHeight="1" overflow="visible"><circle r="1.6" fill="#d01c2c"/></marker><marker id="k35" markerUnits="userSpaceOnUse" markerWidth="1" markerHeight="1" overflow="visible"><circle r="1.35" fill="#2461a8"/></marker><marker id="k36" markerUnits="userSpaceOnUse" markerWidth="1" markerHeight="1" overflow="visible"><circle r="1.35" fill="#1b9c9c"/></marker><marker id="k37" markerUnits="userSpaceOnUse" markerWidth="1" markerHeight="1" overflow="visible"><circle r="1.35" fill="#a9c83a"/></marker><marker id="k38" markerUnits="userSpaceOnUse" markerWidth="1" markerHeight="1" overflow="visible"><circle r="1.35" fill="#d42a3a"/></marker></defs><rect x="36.80" y="153.60" width="113.70" height="107.00" fill="none" stroke="#333" stroke-width=".9"/><path d="M36.80 162.20h-2" stroke="#333" stroke-width=".7"/><text x="33.60" y="164.40" font-size="6.3" text-anchor="end" font-weight="normal" fill="#333">0.04</text><path d="M36.80 187.60h-2" stroke="#333" stroke-width=".7"/><text x="33.60" y="189.80" font-size="6.3" text-anchor="end" font-weight="normal" fill="#333">0.02</text><path d="M36.80 213.00h-2" stroke="#333" stroke-width=".7"/><text x="33.60" y="215.20" font-size="6.3" text-anchor="end" font-weight="normal" fill="#333">0.00</text><path d="M36.80 238.40h-2" stroke="#333" stroke-width=".7"/><text x="33.60" y="240.60" font-size="6.3" text-anchor="end" font-weight="normal" fill="#333">-0.02</text><path d="M47.90 260.60v2" stroke="#333" stroke-width=".7"/><text x="47.90" y="268.80" font-size="6.3" text-anchor="middle" font-weight="normal" fill="#333">0</text><path d="M66.30 260.60v2" stroke="#333" stroke-width=".7"/><text x="66.30" y="268.80" font-size="6.3" text-anchor="middle" font-weight="normal" fill="#333">1</text><path d="M84.60 260.60v2" stroke="#333" stroke-width=".7"/><text x="84.60" y="268.80" font-size="6.3" text-anchor="middle" font-weight="normal" fill="#333">2</text><path d="M103.00 260.60v2" stroke="#333" stroke-width=".7"/><text x="103.00" y="268.80" font-size="6.3" text-anchor="middle" font-weight="normal" fill="#333">3</text><path d="M121.30 260.60v2" stroke="#333" stroke-width=".7"/><text x="121.30" y="268.80" font-size="6.3" text-anchor="middle" font-weight="normal" fill="#333">4</text><path d="M139.60 260.60v2" stroke="#333" stroke-width=".7"/><text x="139.60" y="268.80" font-size="6.3" text-anchor="middle" font-weight="normal" fill="#333">5</text><text x="93.65" y="278.90" font-size="6.3" text-anchor="middle" font-weight="normal" fill="#231f20">Cluster</text><text x="14.60" y="207.10" font-size="6.2" text-anchor="middle" font-weight="normal" fill="#231f20" transform="rotate(-90 14.60 207.10)">MED potential score</text><path d="M47.90 217.50V230.10M47.90 238.80V249.30" stroke="#333" stroke-width=".7"/><rect x="40.80" y="230.10" width="14.20" height="8.70" fill="#ef736b" stroke="#333" stroke-width=".7"/><path d="M40.80 234.40h14.20" stroke="#333" stroke-width="1"/><circle cx="47.90" cy="210.90" r="1.05" fill="#222"/><circle cx="47.90" cy="215.00" r="1.05" fill="#222"/><circle cx="47.90" cy="217.00" r="1.05" fill="#222"/><path d="M66.30 218.00V229.70M66.30 239.50V250.80" stroke="#333" stroke-width=".7"/><rect x="59.20" y="229.70" width="14.20" height="9.80" fill="#b39c1a" stroke="#333" stroke-width=".7"/><path d="M59.20 233.90h14.20" stroke="#333" stroke-width="1"/><circle cx="66.30" cy="200.30" r="1.05" fill="#222"/><circle cx="66.30" cy="211.70" r="1.05" fill="#222"/><circle cx="66.30" cy="213.02" r="1.05" fill="#222"/><circle cx="66.30" cy="214.35" r="1.05" fill="#222"/><circle cx="66.30" cy="215.68" r="1.05" fill="#222"/><circle cx="66.30" cy="217.00" r="1.05" fill="#222"/><circle cx="66.30" cy="253.60" r="1.05" fill="#222"/><circle cx="66.30" cy="254.57" r="1.05" fill="#222"/><circle cx="66.30" cy="255.53" r="1.05" fill="#222"/><circle cx="66.30" cy="256.50" r="1.05" fill="#222"/><path d="M84.60 219.00V231.20M84.60 240.70V251.80" stroke="#333" stroke-width=".7"/><rect x="77.50" y="231.20" width="14.20" height="9.50" fill="#2ab34a" stroke="#333" stroke-width=".7"/><path d="M77.50 236.10h14.20" stroke="#333" stroke-width="1"/><circle cx="84.60" cy="179.60" r="1.05" fill="#222"/><circle cx="84.60" cy="190.10" r="1.05" fill="#222"/><circle cx="84.60" cy="207.50" r="1.05" fill="#222"/><circle cx="84.60" cy="209.00" r="1.05" fill="#222"/><circle cx="84.60" cy="210.50" r="1.05" fill="#222"/><circle cx="84.60" cy="212.00" r="1.05" fill="#222"/><circle cx="84.60" cy="213.50" r="1.05" fill="#222"/><circle cx="84.60" cy="215.00" r="1.05" fill="#222"/><circle cx="84.60" cy="216.50" r="1.05" fill="#222"/><circle cx="84.60" cy="218.00" r="1.05" fill="#222"/><path d="M103.00 217.00V229.20M103.00 239.50V253.70" stroke="#333" stroke-width=".7"/><rect x="95.90" y="229.20" width="14.20" height="10.30" fill="#1fb8bc" stroke="#333" stroke-width=".7"/><path d="M95.90 234.30h14.20" stroke="#333" stroke-width="1"/><circle cx="103.00" cy="206.60" r="1.05" fill="#222"/><circle cx="103.00" cy="207.94" r="1.05" fill="#222"/><circle cx="103.00" cy="209.29" r="1.05" fill="#222"/><circle cx="103.00" cy="210.63" r="1.05" fill="#222"/><circle cx="103.00" cy="211.97" r="1.05" fill="#222"/><circle cx="103.00" cy="213.31" r="1.05" fill="#222"/><circle cx="103.00" cy="214.66" r="1.05" fill="#222"/><circle cx="103.00" cy="216.00" r="1.05" fill="#222"/><path d="M121.30 186.50V206.30M121.30 224.00V239.90" stroke="#333" stroke-width=".7"/><rect x="114.20" y="206.30" width="14.20" height="17.70" fill="#5f91d8" stroke="#333" stroke-width=".7"/><path d="M114.20 215.80h14.20" stroke="#333" stroke-width="1"/><circle cx="121.30" cy="158.30" r="1.05" fill="#222"/><circle cx="121.30" cy="168.20" r="1.05" fill="#222"/><circle cx="121.30" cy="176.90" r="1.05" fill="#222"/><path d="M139.60 211.00V226.40M139.60 237.30V252.10" stroke="#333" stroke-width=".7"/><rect x="132.50" y="226.40" width="14.20" height="10.90" fill="#c86cb8" stroke="#333" stroke-width=".7"/><path d="M132.50 231.70h14.20" stroke="#333" stroke-width="1"/><circle cx="139.60" cy="200.30" r="1.05" fill="#222"/><circle cx="139.60" cy="203.00" r="1.05" fill="#222"/><circle cx="139.60" cy="204.75" r="1.05" fill="#222"/><circle cx="139.60" cy="206.50" r="1.05" fill="#222"/><circle cx="139.60" cy="208.25" r="1.05" fill="#222"/><circle cx="139.60" cy="210.00" r="1.05" fill="#222"/><rect x="202.40" y="153.60" width="114.40" height="107.00" fill="none" stroke="#333" stroke-width=".9"/><path d="M202.40 157.00h-2" stroke="#333" stroke-width=".7"/><text x="199.20" y="159.20" font-size="6.3" text-anchor="end" font-weight="normal" fill="#333">0.10</text><path d="M202.40 190.80h-2" stroke="#333" stroke-width=".7"/><text x="199.20" y="193.00" font-size="6.3" text-anchor="end" font-weight="normal" fill="#333">0.05</text><path d="M202.40 224.60h-2" stroke="#333" stroke-width=".7"/><text x="199.20" y="226.80" font-size="6.3" text-anchor="end" font-weight="normal" fill="#333">0.00</text><path d="M202.40 258.40h-2" stroke="#333" stroke-width=".7"/><text x="199.20" y="260.60" font-size="6.3" text-anchor="end" font-weight="normal" fill="#333">-0.05</text><path d="M213.50 260.60v2" stroke="#333" stroke-width=".7"/><text x="213.50" y="268.80" font-size="6.3" text-anchor="middle" font-weight="normal" fill="#333">0</text><path d="M231.90 260.60v2" stroke="#333" stroke-width=".7"/><text x="231.90" y="268.80" font-size="6.3" text-anchor="middle" font-weight="normal" fill="#333">1</text><path d="M250.30 260.60v2" stroke="#333" stroke-width=".7"/><text x="250.30" y="268.80" font-size="6.3" text-anchor="middle" font-weight="normal" fill="#333">2</text><path d="M268.60 260.60v2" stroke="#333" stroke-width=".7"/><text x="268.60" y="268.80" font-size="6.3" text-anchor="middle" font-weight="normal" fill="#333">3</text><path d="M287.00 260.60v2" stroke="#333" stroke-width=".7"/><text x="287.00" y="268.80" font-size="6.3" text-anchor="middle" font-weight="normal" fill="#333">4</text><path d="M305.30 260.60v2" stroke="#333" stroke-width=".7"/><text x="305.30" y="268.80" font-size="6.3" text-anchor="middle" font-weight="normal" fill="#333">5</text><text x="259.60" y="278.90" font-size="6.3" text-anchor="middle" font-weight="normal" fill="#231f20">Cluster</text><text x="180.50" y="207.10" font-size="6.2" text-anchor="middle" font-weight="normal" fill="#231f20" transform="rotate(-90 180.50 207.10)">ECD potential score</text><path d="M213.50 227.40V235.60M213.50 245.50V253.10" stroke="#333" stroke-width=".7"/><rect x="206.40" y="235.60" width="14.20" height="9.90" fill="#ef736b" stroke="#333" stroke-width=".7"/><path d="M206.40 241.20h14.20" stroke="#333" stroke-width="1"/><circle cx="213.50" cy="207.60" r="1.05" fill="#222"/><circle cx="213.50" cy="214.20" r="1.05" fill="#222"/><circle cx="213.50" cy="215.85" r="1.05" fill="#222"/><circle cx="213.50" cy="217.50" r="1.05" fill="#222"/><circle cx="213.50" cy="219.15" r="1.05" fill="#222"/><circle cx="213.50" cy="220.80" r="1.05" fill="#222"/><path d="M231.90 215.50V231.30M231.90 242.20V253.70" stroke="#333" stroke-width=".7"/><rect x="224.80" y="231.30" width="14.20" height="10.90" fill="#b39c1a" stroke="#333" stroke-width=".7"/><path d="M224.80 237.30h14.20" stroke="#333" stroke-width="1"/><circle cx="231.90" cy="196.70" r="1.05" fill="#222"/><circle cx="231.90" cy="201.00" r="1.05" fill="#222"/><circle cx="231.90" cy="202.56" r="1.05" fill="#222"/><circle cx="231.90" cy="204.11" r="1.05" fill="#222"/><circle cx="231.90" cy="205.67" r="1.05" fill="#222"/><circle cx="231.90" cy="207.22" r="1.05" fill="#222"/><circle cx="231.90" cy="208.78" r="1.05" fill="#222"/><circle cx="231.90" cy="210.33" r="1.05" fill="#222"/><circle cx="231.90" cy="211.89" r="1.05" fill="#222"/><circle cx="231.90" cy="213.44" r="1.05" fill="#222"/><circle cx="231.90" cy="215.00" r="1.05" fill="#222"/><path d="M250.30 218.50V233.30M250.30 243.90V254.40" stroke="#333" stroke-width=".7"/><rect x="243.20" y="233.30" width="14.20" height="10.60" fill="#2ab34a" stroke="#333" stroke-width=".7"/><path d="M243.20 238.90h14.20" stroke="#333" stroke-width="1"/><circle cx="250.30" cy="202.00" r="1.05" fill="#222"/><circle cx="250.30" cy="203.78" r="1.05" fill="#222"/><circle cx="250.30" cy="205.56" r="1.05" fill="#222"/><circle cx="250.30" cy="207.33" r="1.05" fill="#222"/><circle cx="250.30" cy="209.11" r="1.05" fill="#222"/><circle cx="250.30" cy="210.89" r="1.05" fill="#222"/><circle cx="250.30" cy="212.67" r="1.05" fill="#222"/><circle cx="250.30" cy="214.44" r="1.05" fill="#222"/><circle cx="250.30" cy="216.22" r="1.05" fill="#222"/><circle cx="250.30" cy="218.00" r="1.05" fill="#222"/><path d="M268.60 201.50V223.40M268.60 238.60V255.40" stroke="#333" stroke-width=".7"/><rect x="261.50" y="223.40" width="14.20" height="15.20" fill="#1fb8bc" stroke="#333" stroke-width=".7"/><path d="M261.50 231.30h14.20" stroke="#333" stroke-width="1"/><circle cx="268.60" cy="186.20" r="1.05" fill="#222"/><circle cx="268.60" cy="192.80" r="1.05" fill="#222"/><circle cx="268.60" cy="194.58" r="1.05" fill="#222"/><circle cx="268.60" cy="196.36" r="1.05" fill="#222"/><circle cx="268.60" cy="198.14" r="1.05" fill="#222"/><circle cx="268.60" cy="199.92" r="1.05" fill="#222"/><circle cx="268.60" cy="201.70" r="1.05" fill="#222"/><path d="M287.00 200.30V221.30M287.00 237.10V249.50" stroke="#333" stroke-width=".7"/><rect x="279.90" y="221.30" width="14.20" height="15.80" fill="#5f91d8" stroke="#333" stroke-width=".7"/><path d="M279.90 231.00h14.20" stroke="#333" stroke-width="1"/><circle cx="287.00" cy="192.10" r="1.05" fill="#222"/><path d="M305.30 178.50V206.20M305.30 226.40V248.80" stroke="#333" stroke-width=".7"/><rect x="298.20" y="206.20" width="14.20" height="20.20" fill="#c86cb8" stroke="#333" stroke-width=".7"/><path d="M298.20 216.40h14.20" stroke="#333" stroke-width="1"/><circle cx="305.30" cy="158.80" r="1.05" fill="#222"/><circle cx="305.30" cy="160.54" r="1.05" fill="#222"/><circle cx="305.30" cy="162.27" r="1.05" fill="#222"/><circle cx="305.30" cy="164.01" r="1.05" fill="#222"/><circle cx="305.30" cy="165.75" r="1.05" fill="#222"/><circle cx="305.30" cy="167.48" r="1.05" fill="#222"/><circle cx="305.30" cy="169.22" r="1.05" fill="#222"/><circle cx="305.30" cy="170.95" r="1.05" fill="#222"/><circle cx="305.30" cy="172.69" r="1.05" fill="#222"/><circle cx="305.30" cy="174.43" r="1.05" fill="#222"/><circle cx="305.30" cy="176.16" r="1.05" fill="#222"/><circle cx="305.30" cy="177.90" r="1.05" fill="#222"/><text x="0.00" y="160.70" font-size="13" text-anchor="start" font-weight="bold" fill="#231f20">d</text><path d="M48.98 348.06A48.90 48.90 0 0 1 50.40 343.41Q96.40 360.00 119.17 403.28A48.90 48.90 0 0 1 114.76 405.32Q96.40 360.00 48.98 348.06Z" fill="#cfcfcf" fill-opacity="0.48"/><path d="M47.69 355.71A48.90 48.90 0 0 1 48.98 348.06Q96.40 360.00 49.63 374.26A48.90 48.90 0 0 1 47.96 366.68Q96.40 360.00 47.69 355.71Z" fill="#cfcfcf" fill-opacity="0.48"/><path d="M71.00 318.22A48.90 48.90 0 0 1 87.65 311.89Q96.40 360.00 133.15 392.25A48.90 48.90 0 0 1 119.17 403.28Q96.40 360.00 71.00 318.22Z" fill="#cfcfcf" fill-opacity="0.48"/><path d="M50.63 342.80A48.90 48.90 0 0 1 71.00 318.22Q96.40 360.00 68.40 400.09A48.90 48.90 0 0 1 49.63 374.26Q96.40 360.00 50.63 342.80Z" fill="#cfcfcf" fill-opacity="0.48"/><path d="M101.70 311.39A48.90 48.90 0 0 1 110.28 313.11Q96.40 360.00 138.31 385.19A48.90 48.90 0 0 1 133.15 392.25Q96.40 360.00 101.70 311.39Z" fill="#cfcfcf" fill-opacity="0.48"/><path d="M87.82 311.86A48.90 48.90 0 0 1 101.70 311.39Q96.40 360.00 80.81 406.35A48.90 48.90 0 0 1 68.40 400.09Q96.40 360.00 87.82 311.86Z" fill="#cfcfcf" fill-opacity="0.48"/><path d="M126.84 321.73A48.90 48.90 0 0 1 134.98 329.95Q96.40 360.00 143.06 374.64A48.90 48.90 0 0 1 138.31 385.19Q96.40 360.00 126.84 321.73Z" fill="#cfcfcf" fill-opacity="0.48"/><path d="M110.77 313.26A48.90 48.90 0 0 1 126.84 321.73Q96.40 360.00 98.80 408.84A48.90 48.90 0 0 1 80.81 406.35Q96.40 360.00 110.77 313.26Z" fill="#cfcfcf" fill-opacity="0.48"/><path d="M136.20 331.59A48.90 48.90 0 0 1 136.55 332.08Q96.40 360.00 143.24 374.06A48.90 48.90 0 0 1 143.06 374.64Q96.40 360.00 136.20 331.59Z" fill="#cfcfcf" fill-opacity="0.48"/><path d="M135.75 330.97A48.90 48.90 0 0 1 136.20 331.59Q96.40 360.00 99.56 408.80A48.90 48.90 0 0 1 98.80 408.84Q96.40 360.00 135.75 330.97Z" fill="#cfcfcf" fill-opacity="0.48"/><path d="M143.33 346.24A48.90 48.90 0 0 1 145.14 356.09Q96.40 360.00 145.12 364.22A48.90 48.90 0 0 1 143.24 374.06Q96.40 360.00 143.33 346.24Z" fill="#cfcfcf" fill-opacity="0.48"/><path d="M136.95 332.66A48.90 48.90 0 0 1 143.33 346.24Q96.40 360.00 114.20 405.54A48.90 48.90 0 0 1 99.56 408.80Q96.40 360.00 136.95 332.66Z" fill="#cfcfcf" fill-opacity="0.48"/><path d="M47.68 355.78A48.90 48.90 0 0 1 47.69 355.71Q96.40 360.00 47.69 364.29A48.90 48.90 0 0 1 47.68 364.22Q96.40 360.00 47.68 355.78Z" fill="#4a7cc8" fill-opacity="0.3" stroke="#4a7cc8" stroke-width="0.3" stroke-opacity="0.28"/><path d="M50.55 342.99A48.90 48.90 0 0 1 50.63 342.80Q96.40 360.00 47.71 364.49A48.90 48.90 0 0 1 47.69 364.29Q96.40 360.00 50.55 342.99Z" fill="#4a7cc8" fill-opacity="0.3" stroke="#4a7cc8" stroke-width="0.3" stroke-opacity="0.28"/><path d="M87.61 311.90A48.90 48.90 0 0 1 87.82 311.86Q96.40 360.00 47.73 364.70A48.90 48.90 0 0 1 47.71 364.49Q96.40 360.00 87.61 311.90Z" fill="#4a7cc8" fill-opacity="0.3" stroke="#4a7cc8" stroke-width="0.3" stroke-opacity="0.28"/><path d="M110.57 313.20A48.90 48.90 0 0 1 110.77 313.26Q96.40 360.00 47.75 364.91A48.90 48.90 0 0 1 47.73 364.70Q96.40 360.00 110.57 313.20Z" fill="#4a7cc8" fill-opacity="0.3" stroke="#4a7cc8" stroke-width="0.3" stroke-opacity="0.28"/><path d="M135.12 330.13A48.90 48.90 0 0 1 135.75 330.97Q96.40 360.00 47.86 365.95A48.90 48.90 0 0 1 47.75 364.91Q96.40 360.00 135.12 330.13Z" fill="#4a7cc8" fill-opacity="0.3" stroke="#4a7cc8" stroke-width="0.4" stroke-opacity="0.7"/><path d="M136.87 332.55A48.90 48.90 0 0 1 136.95 332.66Q96.40 360.00 47.88 366.09A48.90 48.90 0 0 1 47.86 365.95Q96.40 360.00 136.87 332.55Z" fill="#4a7cc8" fill-opacity="0.3" stroke="#4a7cc8" stroke-width="0.3" stroke-opacity="0.28"/><path d="M41.41 355.24A55.20 55.20 0 0 1 44.41 341.44L49.50 343.25A49.80 49.80 0 0 0 46.79 355.70Z" fill="#ef736b"/><path d="M44.65 340.80A55.20 55.20 0 0 1 85.82 305.82L86.86 311.12A49.80 49.80 0 0 0 49.71 342.68Z" fill="#b39c1a"/><path d="M86.48 305.70A55.20 55.20 0 0 1 111.75 306.98L110.25 312.17A49.80 49.80 0 0 0 87.45 311.01Z" fill="#2ab34a"/><path d="M112.40 307.17A55.20 55.20 0 0 1 139.69 325.75L135.45 329.10A49.80 49.80 0 0 0 110.84 312.34Z" fill="#1fb8bc"/><path d="M140.10 326.28A55.20 55.20 0 0 1 141.70 328.46L137.27 331.54A49.80 49.80 0 0 0 135.83 329.58Z" fill="#5f91d8"/><path d="M142.08 329.01A55.20 55.20 0 0 1 151.39 355.24L146.01 355.70A49.80 49.80 0 0 0 137.61 332.04Z" fill="#c86cb8"/><path d="M151.39 364.76A55.20 55.20 0 0 1 117.12 411.16L115.10 406.16A49.80 49.80 0 0 0 146.01 364.30Z" fill="#d4d4d4"/><path d="M116.50 411.41A55.20 55.20 0 0 1 41.72 367.54L47.07 366.80A49.80 49.80 0 0 0 114.53 406.38Z" fill="#d4d4d4"/><path d="M41.63 366.87A55.20 55.20 0 0 1 41.41 364.76L46.79 364.30A49.80 49.80 0 0 0 46.99 366.20Z" fill="#4a7cc8"/><text x="33.40" y="345.30" font-size="6.3" text-anchor="middle" font-weight="bold" fill="#222" transform="rotate(-90 33.40 345.30)" dominant-baseline="central">C0</text><text x="55.10" y="309.90" font-size="6.3" text-anchor="middle" font-weight="bold" fill="#222" transform="rotate(-40 55.10 309.90)" dominant-baseline="central">C1</text><text x="100.40" y="294.80" font-size="6.3" text-anchor="middle" font-weight="bold" fill="#222" transform="rotate(0 100.40 294.80)" dominant-baseline="central">C2</text><text x="134.70" y="306.80" font-size="6.3" text-anchor="middle" font-weight="bold" fill="#222" transform="rotate(50 134.70 306.80)" dominant-baseline="central">C3</text><text x="150.40" y="323.20" font-size="6.3" text-anchor="middle" font-weight="bold" fill="#222" transform="rotate(58 150.40 323.20)" dominant-baseline="central">C4</text><text x="158.80" y="340.00" font-size="6.3" text-anchor="middle" font-weight="bold" fill="#222" transform="rotate(72 158.80 340.00)" dominant-baseline="central">C5</text><text x="148.30" y="396.90" font-size="6.3" text-anchor="middle" font-weight="bold" fill="#222" transform="rotate(-55 148.30 396.90)" dominant-baseline="central">M1</text><text x="65.00" y="415.50" font-size="6.3" text-anchor="middle" font-weight="bold" fill="#222" transform="rotate(30 65.00 415.50)" dominant-baseline="central">M2</text><text x="33.40" y="368.20" font-size="6.3" text-anchor="middle" font-weight="bold" fill="#222" transform="rotate(90 33.40 368.20)" dominant-baseline="central">M3</text><path d="M205.73 347.85A48.90 48.90 0 0 1 207.08 343.46Q253.10 360.00 287.58 394.67A48.90 48.90 0 0 1 284.17 397.76Q253.10 360.00 205.73 347.85Z" fill="#cfcfcf" fill-opacity="0.48"/><path d="M204.86 351.99A48.90 48.90 0 0 1 205.73 347.85Q253.10 360.00 242.77 407.80A48.90 48.90 0 0 1 238.68 406.73Q253.10 360.00 204.86 351.99Z" fill="#cfcfcf" fill-opacity="0.48"/><path d="M204.39 355.73A48.90 48.90 0 0 1 204.86 351.99Q253.10 360.00 208.21 379.40A48.90 48.90 0 0 1 206.85 375.88Q253.10 360.00 204.39 355.73Z" fill="#cfcfcf" fill-opacity="0.48"/><path d="M229.41 317.22A48.90 48.90 0 0 1 244.14 311.93Q253.10 360.00 296.77 382.00A48.90 48.90 0 0 1 287.58 394.67Q253.10 360.00 229.41 317.22Z" fill="#cfcfcf" fill-opacity="0.48"/><path d="M214.67 329.76A48.90 48.90 0 0 1 229.41 317.22Q253.10 360.00 262.11 408.06A48.90 48.90 0 0 1 242.77 407.80Q253.10 360.00 214.67 329.76Z" fill="#cfcfcf" fill-opacity="0.48"/><path d="M207.33 342.80A48.90 48.90 0 0 1 214.67 329.76Q253.10 360.00 216.18 392.06A48.90 48.90 0 0 1 208.21 379.40Q253.10 360.00 207.33 342.80Z" fill="#cfcfcf" fill-opacity="0.48"/><path d="M258.77 311.43A48.90 48.90 0 0 1 266.88 313.08Q253.10 360.00 299.86 374.32A48.90 48.90 0 0 1 296.77 382.00Q253.10 360.00 258.77 311.43Z" fill="#cfcfcf" fill-opacity="0.48"/><path d="M250.94 311.15A48.90 48.90 0 0 1 258.77 311.43Q253.10 360.00 269.68 406.00A48.90 48.90 0 0 1 262.11 408.06Q253.10 360.00 250.94 311.15Z" fill="#cfcfcf" fill-opacity="0.48"/><path d="M244.41 311.88A48.90 48.90 0 0 1 250.94 311.15Q253.10 360.00 220.81 396.73A48.90 48.90 0 0 1 216.18 392.06Q253.10 360.00 244.41 311.88Z" fill="#cfcfcf" fill-opacity="0.48"/><path d="M286.39 324.18A48.90 48.90 0 0 1 291.60 329.86Q253.10 360.00 301.53 366.80A48.90 48.90 0 0 1 299.86 374.32Q253.10 360.00 286.39 324.18Z" fill="#cfcfcf" fill-opacity="0.48"/><path d="M277.16 317.43A48.90 48.90 0 0 1 286.39 324.18Q253.10 360.00 279.91 400.90A48.90 48.90 0 0 1 269.68 406.00Q253.10 360.00 277.16 317.43Z" fill="#cfcfcf" fill-opacity="0.48"/><path d="M267.80 313.36A48.90 48.90 0 0 1 277.16 317.43Q253.10 360.00 229.14 402.63A48.90 48.90 0 0 1 220.81 396.73Q253.10 360.00 267.80 313.36Z" fill="#cfcfcf" fill-opacity="0.48"/><path d="M292.95 331.66A48.90 48.90 0 0 1 293.24 332.07Q253.10 360.00 301.59 366.30A48.90 48.90 0 0 1 301.53 366.80Q253.10 360.00 292.95 331.66Z" fill="#cfcfcf" fill-opacity="0.48"/><path d="M292.51 331.05A48.90 48.90 0 0 1 292.95 331.66Q253.10 360.00 280.54 400.48A48.90 48.90 0 0 1 279.91 400.90Q253.10 360.00 292.51 331.05Z" fill="#cfcfcf" fill-opacity="0.48"/><path d="M291.97 330.33A48.90 48.90 0 0 1 292.51 331.05Q253.10 360.00 229.93 403.06A48.90 48.90 0 0 1 229.14 402.63Q253.10 360.00 291.97 330.33Z" fill="#cfcfcf" fill-opacity="0.48"/><path d="M301.62 353.91A48.90 48.90 0 0 1 301.84 355.99Q253.10 360.00 301.82 364.22A48.90 48.90 0 0 1 301.59 366.30Q253.10 360.00 301.62 353.91Z" fill="#cfcfcf" fill-opacity="0.48"/><path d="M300.97 350.02A48.90 48.90 0 0 1 301.62 353.91Q253.10 360.00 283.71 398.14A48.90 48.90 0 0 1 280.54 400.48Q253.10 360.00 300.97 350.02Z" fill="#cfcfcf" fill-opacity="0.48"/><path d="M298.37 341.51A48.90 48.90 0 0 1 300.97 350.02Q253.10 360.00 238.11 406.55A48.90 48.90 0 0 1 229.93 403.06Q253.10 360.00 298.37 341.51Z" fill="#cfcfcf" fill-opacity="0.48"/><path d="M204.38 355.78A48.90 48.90 0 0 1 204.39 355.73Q253.10 360.00 204.39 364.27A48.90 48.90 0 0 1 204.38 364.22Q253.10 360.00 204.38 355.78Z" fill="#8e88c4" fill-opacity="0.45" stroke="#8e88c4" stroke-width="0.3" stroke-opacity="0.28"/><path d="M207.25 342.99A48.90 48.90 0 0 1 207.33 342.80Q253.10 360.00 204.41 364.48A48.90 48.90 0 0 1 204.39 364.27Q253.10 360.00 207.25 342.99Z" fill="#8e88c4" fill-opacity="0.45" stroke="#8e88c4" stroke-width="0.3" stroke-opacity="0.28"/><path d="M244.31 311.90A48.90 48.90 0 0 1 244.41 311.88Q253.10 360.00 204.41 364.57A48.90 48.90 0 0 1 204.41 364.48Q253.10 360.00 244.31 311.90Z" fill="#8e88c4" fill-opacity="0.45" stroke="#8e88c4" stroke-width="0.3" stroke-opacity="0.28"/><path d="M267.27 313.20A48.90 48.90 0 0 1 267.80 313.36Q253.10 360.00 204.47 365.13A48.90 48.90 0 0 1 204.41 364.57Q253.10 360.00 267.27 313.20Z" fill="#8e88c4" fill-opacity="0.45" stroke="#8e88c4" stroke-width="0.4" stroke-opacity="0.7"/><path d="M291.82 330.13A48.90 48.90 0 0 1 291.97 330.33Q253.10 360.00 204.50 365.38A48.90 48.90 0 0 1 204.47 365.13Q253.10 360.00 291.82 330.13Z" fill="#8e88c4" fill-opacity="0.45" stroke="#8e88c4" stroke-width="0.3" stroke-opacity="0.28"/><path d="M293.57 332.55A48.90 48.90 0 0 1 298.37 341.51Q253.10 360.00 206.66 375.31A48.90 48.90 0 0 1 204.50 365.38Q253.10 360.00 293.57 332.55Z" fill="#8e88c4" fill-opacity="0.45"/><path d="M198.11 355.24A55.20 55.20 0 0 1 201.11 341.44L206.20 343.25A49.80 49.80 0 0 0 203.49 355.70Z" fill="#ef736b"/><path d="M201.35 340.80A55.20 55.20 0 0 1 242.52 305.82L243.56 311.12A49.80 49.80 0 0 0 206.41 342.68Z" fill="#b39c1a"/><path d="M243.18 305.70A55.20 55.20 0 0 1 268.45 306.98L266.95 312.17A49.80 49.80 0 0 0 244.15 311.01Z" fill="#2ab34a"/><path d="M269.10 307.17A55.20 55.20 0 0 1 296.39 325.75L292.15 329.10A49.80 49.80 0 0 0 267.54 312.34Z" fill="#1fb8bc"/><path d="M296.80 326.28A55.20 55.20 0 0 1 298.40 328.46L293.97 331.54A49.80 49.80 0 0 0 292.53 329.58Z" fill="#5f91d8"/><path d="M298.78 329.01A55.20 55.20 0 0 1 308.09 355.24L302.71 355.70A49.80 49.80 0 0 0 294.31 332.04Z" fill="#c86cb8"/><path d="M308.09 364.76A55.20 55.20 0 0 1 288.17 402.62L284.74 398.45A49.80 49.80 0 0 0 302.71 364.30Z" fill="#d4d4d4"/><path d="M287.65 403.05A55.20 55.20 0 0 1 236.82 412.75L238.42 407.59A49.80 49.80 0 0 0 284.27 398.84Z" fill="#d4d4d4"/><path d="M236.18 412.54A55.20 55.20 0 0 1 200.89 377.93L206.00 376.17A49.80 49.80 0 0 0 237.84 407.40Z" fill="#d4d4d4"/><path d="M200.68 377.29A55.20 55.20 0 0 1 198.11 364.76L203.49 364.30A49.80 49.80 0 0 0 205.80 375.60Z" fill="#8e88c4"/><text x="189.50" y="345.30" font-size="6.3" text-anchor="middle" font-weight="bold" fill="#222" transform="rotate(-90 189.50 345.30)" dominant-baseline="central">C0</text><text x="212.00" y="309.90" font-size="6.3" text-anchor="middle" font-weight="bold" fill="#222" transform="rotate(-40 212.00 309.90)" dominant-baseline="central">C1</text><text x="257.50" y="294.80" font-size="6.3" text-anchor="middle" font-weight="bold" fill="#222" transform="rotate(0 257.50 294.80)" dominant-baseline="central">C2</text><text x="291.50" y="306.80" font-size="6.3" text-anchor="middle" font-weight="bold" fill="#222" transform="rotate(50 291.50 306.80)" dominant-baseline="central">C3</text><text x="307.20" y="323.20" font-size="6.3" text-anchor="middle" font-weight="bold" fill="#222" transform="rotate(58 307.20 323.20)" dominant-baseline="central">C4</text><text x="315.60" y="340.00" font-size="6.3" text-anchor="middle" font-weight="bold" fill="#222" transform="rotate(72 315.60 340.00)" dominant-baseline="central">C5</text><text x="306.50" y="389.00" font-size="6.3" text-anchor="middle" font-weight="bold" fill="#222" transform="rotate(-62 306.50 389.00)" dominant-baseline="central">E1</text><text x="267.00" y="421.00" font-size="6.3" text-anchor="middle" font-weight="bold" fill="#222" transform="rotate(-5 267.00 421.00)" dominant-baseline="central">E2</text><text x="208.00" y="405.50" font-size="6.3" text-anchor="middle" font-weight="bold" fill="#222" transform="rotate(38 208.00 405.50)" dominant-baseline="central">E3</text><text x="189.50" y="372.00" font-size="6.3" text-anchor="middle" font-weight="bold" fill="#222" transform="rotate(90 189.50 372.00)" dominant-baseline="central">E4</text><text x="0.00" y="308.70" font-size="13" text-anchor="start" font-weight="bold" fill="#231f20">e</text><ellipse cx="414.5" cy="361.5" rx="41" ry="38.2" fill="#bca4cc"/><ellipse cx="466.9" cy="361.6" rx="17.3" ry="16.1" fill="#6f92c9" fill-opacity=".6"/><text x="360.50" y="309.20" font-size="13" text-anchor="start" font-weight="bold" fill="#231f20">f</text><text x="412.90" y="314.20" font-size="7" text-anchor="middle" font-weight="normal" fill="#231f20">Cells in group E4</text><text x="475.30" y="335.30" font-size="7" text-anchor="middle" font-weight="normal" fill="#231f20">Cells in group M3</text><text x="414.20" y="364.00" font-size="7" text-anchor="middle" font-weight="bold" fill="#fff">390</text><text x="452.70" y="364.00" font-size="7" text-anchor="middle" font-weight="bold" fill="#fff">8</text><text x="469.70" y="364.00" font-size="7" text-anchor="middle" font-weight="bold" fill="#fff">64</text><text x="511.80" y="308.80" font-size="13" text-anchor="start" font-weight="bold" fill="#231f20">g</text><rect x="542.40" y="300.60" width="111.10" height="42.80" fill="none" stroke="#333" stroke-width=".9"/><rect x="547.50" y="304.00" width="73.30" height="9.40" fill="#27adb0" stroke="#333" stroke-width=".6"/><rect x="620.80" y="304.00" width="27.80" height="9.40" fill="#e2736a" stroke="#333" stroke-width=".6"/><path d="M542.40 308.70h-2" stroke="#333" stroke-width=".7"/><text x="538.10" y="310.90" font-size="6.3" text-anchor="end" font-weight="normal" fill="#333">M3</text><rect x="547.50" y="317.20" width="56.31" height="9.40" fill="#27adb0" stroke="#333" stroke-width=".6"/><rect x="603.81" y="317.20" width="44.79" height="9.40" fill="#e2736a" stroke="#333" stroke-width=".6"/><path d="M542.40 321.90h-2" stroke="#333" stroke-width=".7"/><text x="538.10" y="324.10" font-size="6.3" text-anchor="end" font-weight="normal" fill="#333">M2</text><rect x="547.50" y="330.80" width="60.46" height="9.40" fill="#27adb0" stroke="#333" stroke-width=".6"/><rect x="607.96" y="330.80" width="40.64" height="9.40" fill="#e2736a" stroke="#333" stroke-width=".6"/><path d="M542.40 335.50h-2" stroke="#333" stroke-width=".7"/><text x="538.10" y="337.70" font-size="6.3" text-anchor="end" font-weight="normal" fill="#333">M1</text><rect x="542.40" y="350.60" width="111.10" height="53.30" fill="none" stroke="#333" stroke-width=".9"/><rect x="547.50" y="354.20" width="90.99" height="8.80" fill="#27adb0" stroke="#333" stroke-width=".6"/><rect x="638.49" y="354.20" width="10.11" height="8.80" fill="#e2736a" stroke="#333" stroke-width=".6"/><path d="M542.40 358.60h-2" stroke="#333" stroke-width=".7"/><text x="538.10" y="360.80" font-size="6.3" text-anchor="end" font-weight="normal" fill="#333">E4</text><rect x="547.50" y="366.60" width="68.75" height="8.90" fill="#27adb0" stroke="#333" stroke-width=".6"/><rect x="616.25" y="366.60" width="32.35" height="8.90" fill="#e2736a" stroke="#333" stroke-width=".6"/><path d="M542.40 371.05h-2" stroke="#333" stroke-width=".7"/><text x="538.10" y="373.25" font-size="6.3" text-anchor="end" font-weight="normal" fill="#333">E3</text><rect x="547.50" y="379.30" width="49.03" height="9.00" fill="#27adb0" stroke="#333" stroke-width=".6"/><rect x="596.53" y="379.30" width="52.07" height="9.00" fill="#e2736a" stroke="#333" stroke-width=".6"/><path d="M542.40 383.80h-2" stroke="#333" stroke-width=".7"/><text x="538.10" y="386.00" font-size="6.3" text-anchor="end" font-weight="normal" fill="#333">E2</text><rect x="547.50" y="392.00" width="47.21" height="8.90" fill="#27adb0" stroke="#333" stroke-width=".6"/><rect x="594.71" y="392.00" width="53.89" height="8.90" fill="#e2736a" stroke="#333" stroke-width=".6"/><path d="M542.40 396.45h-2" stroke="#333" stroke-width=".7"/><text x="538.10" y="398.65" font-size="6.3" text-anchor="end" font-weight="normal" fill="#333">E1</text><path d="M547.50 343.4v2M547.50 403.9v2" stroke="#333" stroke-width=".7"/><text x="547.50" y="412.50" font-size="6.3" text-anchor="middle" font-weight="normal" fill="#333">0.00</text><path d="M572.77 343.4v2M572.77 403.9v2" stroke="#333" stroke-width=".7"/><text x="572.77" y="412.50" font-size="6.3" text-anchor="middle" font-weight="normal" fill="#333">0.25</text><path d="M598.05 343.4v2M598.05 403.9v2" stroke="#333" stroke-width=".7"/><text x="598.05" y="412.50" font-size="6.3" text-anchor="middle" font-weight="normal" fill="#333">0.50</text><path d="M623.33 343.4v2M623.33 403.9v2" stroke="#333" stroke-width=".7"/><text x="623.33" y="412.50" font-size="6.3" text-anchor="middle" font-weight="normal" fill="#333">0.75</text><path d="M648.60 343.4v2M648.60 403.9v2" stroke="#333" stroke-width=".7"/><text x="648.60" y="412.50" font-size="6.3" text-anchor="middle" font-weight="normal" fill="#333">1.00</text><text x="598.00" y="422.50" font-size="6.8" text-anchor="middle" font-weight="normal" fill="#231f20">Ratio</text><rect x="661.2" y="387" width="6.9" height="6.5" fill="#e2736a"/><rect x="661.2" y="396.5" width="6.9" height="6.6" fill="#27adb0"/><text x="671.00" y="392.60" font-size="6.8" text-anchor="start" font-weight="normal" fill="#231f20">KO</text><text x="671.00" y="402.00" font-size="6.8" text-anchor="start" font-weight="normal" fill="#231f20">WT</text></svg>
</body></html>
